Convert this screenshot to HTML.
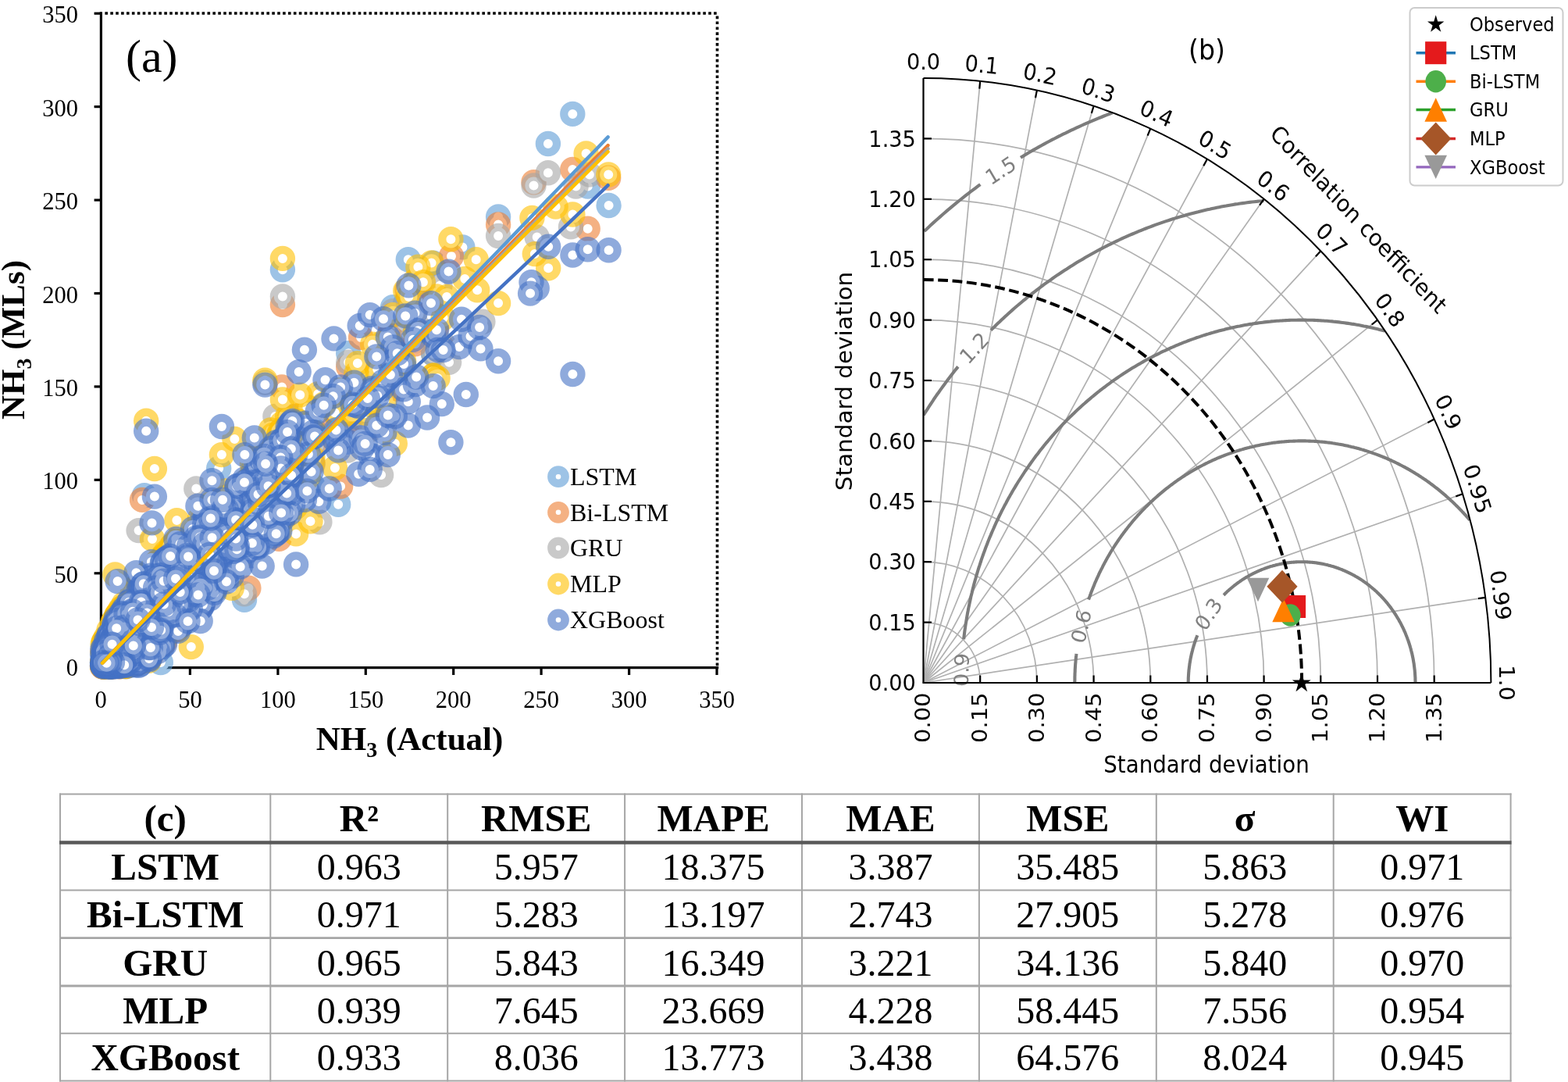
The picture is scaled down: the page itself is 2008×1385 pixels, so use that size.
<!DOCTYPE html>
<html><head><meta charset="utf-8"><title>Figure</title>
<style>html,body{margin:0;padding:0;background:#fff}svg{display:block}</style></head>
<body>
<svg width="2008" height="1385" viewBox="0 0 2008 1385">
<rect width="2008" height="1385" fill="#fff"/>
<g id="scatter">
<g stroke="#000" stroke-width="3.2" fill="none">
<line x1="129.4" y1="15.3" x2="129.4" y2="856.3"/>
<line x1="127.8" y1="854.7" x2="920.2" y2="854.7"/>
<line x1="120.6" y1="17.2" x2="129.4" y2="17.2"/>
<line x1="120.6" y1="136.6" x2="129.4" y2="136.6"/>
<line x1="120.6" y1="256.1" x2="129.4" y2="256.1"/>
<line x1="120.6" y1="375.5" x2="129.4" y2="375.5"/>
<line x1="120.6" y1="494.9" x2="129.4" y2="494.9"/>
<line x1="120.6" y1="614.3" x2="129.4" y2="614.3"/>
<line x1="120.6" y1="733.8" x2="129.4" y2="733.8"/>
<line x1="120.6" y1="854.7" x2="129.4" y2="854.7"/>
<line x1="243.4" y1="854.7" x2="243.4" y2="864"/>
<line x1="355.9" y1="854.7" x2="355.9" y2="864"/>
<line x1="468.3" y1="854.7" x2="468.3" y2="864"/>
<line x1="580.7" y1="854.7" x2="580.7" y2="864"/>
<line x1="693.1" y1="854.7" x2="693.1" y2="864"/>
<line x1="805.6" y1="854.7" x2="805.6" y2="864"/>
<line x1="918.0" y1="854.7" x2="918.0" y2="864"/>
</g>
<g stroke="#000" stroke-width="3.6" fill="none" stroke-dasharray="3.6 3.3">
<line x1="134.4" y1="17" x2="920.4" y2="17"/>
<line x1="918.5" y1="20.6" x2="918.5" y2="853"/>
</g>
<g fill="#fff" stroke-width="10.2" stroke-opacity="0.6">
<g stroke="#5B9BD5">
<circle cx="258.7" cy="706.4" r="11.1"/>
<circle cx="349.6" cy="607.7" r="11.1"/>
<circle cx="328.7" cy="672.6" r="11.1"/>
<circle cx="141.1" cy="836.7" r="11.1"/>
<circle cx="168.1" cy="800.1" r="11.1"/>
<circle cx="179.5" cy="787.7" r="11.1"/>
<circle cx="139.5" cy="843.5" r="11.1"/>
<circle cx="160.7" cy="826.3" r="11.1"/>
<circle cx="161.9" cy="834.0" r="11.1"/>
<circle cx="251.8" cy="753.2" r="11.1"/>
<circle cx="267.5" cy="703.9" r="11.1"/>
<circle cx="229.5" cy="740.3" r="11.1"/>
<circle cx="184.8" cy="793.9" r="11.1"/>
<circle cx="305.9" cy="646.9" r="11.1"/>
<circle cx="177.9" cy="818.2" r="11.1"/>
<circle cx="271.4" cy="711.9" r="11.1"/>
<circle cx="367.6" cy="609.7" r="11.1"/>
<circle cx="140.6" cy="840.3" r="11.1"/>
<circle cx="374.4" cy="549.0" r="11.1"/>
<circle cx="149.4" cy="813.4" r="11.1"/>
<circle cx="153.4" cy="843.8" r="11.1"/>
<circle cx="134.2" cy="853.3" r="11.1"/>
<circle cx="172.3" cy="776.5" r="11.1"/>
<circle cx="207.8" cy="748.1" r="11.1"/>
<circle cx="288.1" cy="698.2" r="11.1"/>
<circle cx="306.8" cy="636.7" r="11.1"/>
<circle cx="151.7" cy="820.2" r="11.1"/>
<circle cx="190.1" cy="758.7" r="11.1"/>
<circle cx="141.3" cy="847.3" r="11.1"/>
<circle cx="159.0" cy="801.4" r="11.1"/>
<circle cx="191.9" cy="808.8" r="11.1"/>
<circle cx="222.7" cy="763.7" r="11.1"/>
<circle cx="142.7" cy="847.2" r="11.1"/>
<circle cx="288.3" cy="680.3" r="11.1"/>
<circle cx="147.9" cy="843.3" r="11.1"/>
<circle cx="158.1" cy="826.9" r="11.1"/>
<circle cx="259.0" cy="728.3" r="11.1"/>
<circle cx="155.0" cy="788.9" r="11.1"/>
<circle cx="143.0" cy="849.1" r="11.1"/>
<circle cx="358.0" cy="600.5" r="11.1"/>
<circle cx="210.6" cy="760.6" r="11.1"/>
<circle cx="132.3" cy="843.9" r="11.1"/>
<circle cx="144.6" cy="826.8" r="11.1"/>
<circle cx="357.5" cy="607.7" r="11.1"/>
<circle cx="132.3" cy="851.0" r="11.1"/>
<circle cx="164.0" cy="849.8" r="11.1"/>
<circle cx="161.5" cy="789.5" r="11.1"/>
<circle cx="208.0" cy="825.5" r="11.1"/>
<circle cx="156.9" cy="824.5" r="11.1"/>
<circle cx="483.3" cy="477.3" r="11.1"/>
<circle cx="346.4" cy="614.4" r="11.1"/>
<circle cx="257.1" cy="719.2" r="11.1"/>
<circle cx="193.0" cy="744.4" r="11.1"/>
<circle cx="133.2" cy="851.6" r="11.1"/>
<circle cx="141.3" cy="836.0" r="11.1"/>
<circle cx="151.9" cy="834.1" r="11.1"/>
<circle cx="288.3" cy="689.6" r="11.1"/>
<circle cx="492.4" cy="535.8" r="11.1"/>
<circle cx="214.6" cy="764.3" r="11.1"/>
<circle cx="176.6" cy="840.3" r="11.1"/>
<circle cx="426.6" cy="523.0" r="11.1"/>
<circle cx="151.0" cy="844.5" r="11.1"/>
<circle cx="368.4" cy="577.2" r="11.1"/>
<circle cx="313.0" cy="767.9" r="11.1"/>
<circle cx="247.1" cy="753.1" r="11.1"/>
<circle cx="139.0" cy="848.5" r="11.1"/>
<circle cx="223.5" cy="807.4" r="11.1"/>
<circle cx="286.6" cy="743.1" r="11.1"/>
<circle cx="172.1" cy="794.8" r="11.1"/>
<circle cx="232.2" cy="760.0" r="11.1"/>
<circle cx="153.8" cy="848.4" r="11.1"/>
<circle cx="245.8" cy="748.1" r="11.1"/>
<circle cx="313.5" cy="689.6" r="11.1"/>
<circle cx="190.1" cy="828.2" r="11.1"/>
<circle cx="292.8" cy="695.1" r="11.1"/>
<circle cx="186.6" cy="765.6" r="11.1"/>
<circle cx="148.2" cy="837.8" r="11.1"/>
<circle cx="191.4" cy="806.2" r="11.1"/>
<circle cx="225.2" cy="707.4" r="11.1"/>
<circle cx="187.7" cy="757.6" r="11.1"/>
<circle cx="250.7" cy="731.7" r="11.1"/>
<circle cx="166.5" cy="829.0" r="11.1"/>
<circle cx="134.6" cy="846.0" r="11.1"/>
<circle cx="290.4" cy="697.1" r="11.1"/>
<circle cx="173.8" cy="810.9" r="11.1"/>
<circle cx="148.2" cy="835.2" r="11.1"/>
<circle cx="150.5" cy="795.9" r="11.1"/>
<circle cx="160.8" cy="797.0" r="11.1"/>
<circle cx="206.5" cy="770.6" r="11.1"/>
<circle cx="297.6" cy="705.6" r="11.1"/>
<circle cx="149.3" cy="816.0" r="11.1"/>
<circle cx="136.2" cy="848.5" r="11.1"/>
<circle cx="155.4" cy="843.8" r="11.1"/>
<circle cx="181.3" cy="815.4" r="11.1"/>
<circle cx="356.4" cy="593.0" r="11.1"/>
<circle cx="403.1" cy="551.8" r="11.1"/>
<circle cx="326.3" cy="679.9" r="11.1"/>
<circle cx="199.7" cy="788.3" r="11.1"/>
<circle cx="433.6" cy="568.4" r="11.1"/>
<circle cx="159.8" cy="824.9" r="11.1"/>
<circle cx="147.1" cy="834.5" r="11.1"/>
<circle cx="146.2" cy="831.4" r="11.1"/>
<circle cx="135.4" cy="849.9" r="11.1"/>
<circle cx="474.4" cy="524.2" r="11.1"/>
<circle cx="360.9" cy="560.7" r="11.1"/>
<circle cx="140.4" cy="835.5" r="11.1"/>
<circle cx="187.3" cy="779.0" r="11.1"/>
<circle cx="188.4" cy="827.1" r="11.1"/>
<circle cx="140.5" cy="848.3" r="11.1"/>
<circle cx="311.5" cy="647.2" r="11.1"/>
<circle cx="336.4" cy="669.2" r="11.1"/>
<circle cx="178.1" cy="839.5" r="11.1"/>
<circle cx="150.0" cy="807.7" r="11.1"/>
<circle cx="145.7" cy="826.3" r="11.1"/>
<circle cx="158.0" cy="836.7" r="11.1"/>
<circle cx="349.7" cy="597.5" r="11.1"/>
<circle cx="172.7" cy="804.6" r="11.1"/>
<circle cx="287.2" cy="726.3" r="11.1"/>
<circle cx="257.0" cy="689.5" r="11.1"/>
<circle cx="215.2" cy="758.6" r="11.1"/>
<circle cx="326.6" cy="665.8" r="11.1"/>
<circle cx="139.5" cy="850.7" r="11.1"/>
<circle cx="320.2" cy="651.2" r="11.1"/>
<circle cx="244.5" cy="738.3" r="11.1"/>
<circle cx="143.9" cy="849.5" r="11.1"/>
<circle cx="183.3" cy="764.3" r="11.1"/>
<circle cx="299.2" cy="683.5" r="11.1"/>
<circle cx="182.0" cy="806.9" r="11.1"/>
<circle cx="149.3" cy="839.5" r="11.1"/>
<circle cx="174.3" cy="791.5" r="11.1"/>
<circle cx="148.2" cy="823.0" r="11.1"/>
<circle cx="275.4" cy="709.6" r="11.1"/>
<circle cx="136.5" cy="850.0" r="11.1"/>
<circle cx="228.1" cy="791.8" r="11.1"/>
<circle cx="160.8" cy="842.6" r="11.1"/>
<circle cx="508.5" cy="480.1" r="11.1"/>
<circle cx="208.7" cy="764.2" r="11.1"/>
<circle cx="246.1" cy="754.9" r="11.1"/>
<circle cx="264.4" cy="678.1" r="11.1"/>
<circle cx="212.2" cy="713.2" r="11.1"/>
<circle cx="138.1" cy="836.3" r="11.1"/>
<circle cx="322.9" cy="704.1" r="11.1"/>
<circle cx="197.5" cy="767.2" r="11.1"/>
<circle cx="375.2" cy="628.3" r="11.1"/>
<circle cx="228.4" cy="726.8" r="11.1"/>
<circle cx="136.6" cy="853.4" r="11.1"/>
<circle cx="559.1" cy="391.7" r="11.1"/>
<circle cx="154.7" cy="833.2" r="11.1"/>
<circle cx="297.7" cy="674.7" r="11.1"/>
<circle cx="195.8" cy="775.9" r="11.1"/>
<circle cx="330.6" cy="625.9" r="11.1"/>
<circle cx="139.5" cy="814.3" r="11.1"/>
<circle cx="134.4" cy="837.2" r="11.1"/>
<circle cx="357.6" cy="649.8" r="11.1"/>
<circle cx="180.3" cy="749.9" r="11.1"/>
<circle cx="150.7" cy="852.6" r="11.1"/>
<circle cx="132.3" cy="843.6" r="11.1"/>
<circle cx="268.6" cy="691.2" r="11.1"/>
<circle cx="184.9" cy="634.1" r="11.1"/>
<circle cx="313.5" cy="631.8" r="11.1"/>
<circle cx="168.3" cy="796.7" r="11.1"/>
<circle cx="321.8" cy="665.8" r="11.1"/>
<circle cx="366.1" cy="562.3" r="11.1"/>
<circle cx="216.2" cy="758.0" r="11.1"/>
<circle cx="161.3" cy="819.2" r="11.1"/>
<circle cx="289.5" cy="672.8" r="11.1"/>
<circle cx="193.1" cy="769.0" r="11.1"/>
<circle cx="288.8" cy="687.3" r="11.1"/>
<circle cx="351.5" cy="621.4" r="11.1"/>
<circle cx="701.9" cy="184.0" r="11.1"/>
<circle cx="283.1" cy="697.5" r="11.1"/>
<circle cx="212.0" cy="740.8" r="11.1"/>
<circle cx="475.7" cy="534.9" r="11.1"/>
<circle cx="184.4" cy="756.6" r="11.1"/>
<circle cx="268.2" cy="731.3" r="11.1"/>
<circle cx="203.3" cy="798.2" r="11.1"/>
<circle cx="224.7" cy="744.5" r="11.1"/>
<circle cx="144.3" cy="832.6" r="11.1"/>
<circle cx="138.8" cy="832.8" r="11.1"/>
<circle cx="205.8" cy="758.1" r="11.1"/>
<circle cx="351.5" cy="643.5" r="11.1"/>
<circle cx="309.4" cy="663.0" r="11.1"/>
<circle cx="144.2" cy="851.9" r="11.1"/>
<circle cx="132.0" cy="850.2" r="11.1"/>
<circle cx="503.1" cy="393.1" r="11.1"/>
<circle cx="151.3" cy="820.3" r="11.1"/>
<circle cx="219.2" cy="754.4" r="11.1"/>
<circle cx="199.3" cy="763.0" r="11.1"/>
<circle cx="140.8" cy="832.2" r="11.1"/>
<circle cx="368.8" cy="621.4" r="11.1"/>
<circle cx="291.1" cy="686.8" r="11.1"/>
<circle cx="166.8" cy="819.3" r="11.1"/>
<circle cx="141.4" cy="835.9" r="11.1"/>
<circle cx="154.0" cy="830.6" r="11.1"/>
<circle cx="340.0" cy="665.2" r="11.1"/>
<circle cx="212.5" cy="726.5" r="11.1"/>
<circle cx="312.8" cy="678.0" r="11.1"/>
<circle cx="160.4" cy="809.3" r="11.1"/>
<circle cx="173.5" cy="785.7" r="11.1"/>
<circle cx="366.4" cy="630.0" r="11.1"/>
<circle cx="302.1" cy="645.3" r="11.1"/>
<circle cx="220.4" cy="752.0" r="11.1"/>
<circle cx="258.0" cy="717.2" r="11.1"/>
<circle cx="156.0" cy="833.7" r="11.1"/>
<circle cx="233.3" cy="738.4" r="11.1"/>
<circle cx="341.8" cy="629.5" r="11.1"/>
<circle cx="132.8" cy="835.1" r="11.1"/>
<circle cx="231.9" cy="757.8" r="11.1"/>
<circle cx="219.6" cy="738.2" r="11.1"/>
<circle cx="315.0" cy="675.6" r="11.1"/>
<circle cx="186.0" cy="761.4" r="11.1"/>
<circle cx="149.5" cy="817.6" r="11.1"/>
<circle cx="219.5" cy="747.4" r="11.1"/>
<circle cx="361.9" cy="345.3" r="11.1"/>
<circle cx="243.8" cy="737.2" r="11.1"/>
<circle cx="143.0" cy="830.4" r="11.1"/>
<circle cx="172.1" cy="817.0" r="11.1"/>
<circle cx="146.1" cy="840.6" r="11.1"/>
<circle cx="242.5" cy="753.1" r="11.1"/>
<circle cx="154.7" cy="826.6" r="11.1"/>
<circle cx="188.9" cy="782.2" r="11.1"/>
<circle cx="171.1" cy="833.3" r="11.1"/>
<circle cx="302.0" cy="654.6" r="11.1"/>
<circle cx="144.3" cy="814.9" r="11.1"/>
<circle cx="154.3" cy="812.1" r="11.1"/>
<circle cx="159.2" cy="798.5" r="11.1"/>
<circle cx="140.0" cy="848.0" r="11.1"/>
<circle cx="592.4" cy="316.4" r="11.1"/>
<circle cx="248.7" cy="738.1" r="11.1"/>
<circle cx="290.0" cy="644.9" r="11.1"/>
<circle cx="260.7" cy="707.8" r="11.1"/>
<circle cx="323.4" cy="655.4" r="11.1"/>
<circle cx="180.9" cy="798.1" r="11.1"/>
<circle cx="134.8" cy="850.6" r="11.1"/>
<circle cx="138.6" cy="849.6" r="11.1"/>
<circle cx="323.9" cy="660.4" r="11.1"/>
<circle cx="303.5" cy="644.5" r="11.1"/>
<circle cx="173.4" cy="778.3" r="11.1"/>
<circle cx="320.7" cy="626.8" r="11.1"/>
<circle cx="144.6" cy="845.3" r="11.1"/>
<circle cx="290.0" cy="739.5" r="11.1"/>
<circle cx="554.7" cy="420.5" r="11.1"/>
<circle cx="189.1" cy="827.4" r="11.1"/>
<circle cx="146.3" cy="823.7" r="11.1"/>
<circle cx="232.8" cy="744.1" r="11.1"/>
<circle cx="140.6" cy="833.9" r="11.1"/>
<circle cx="159.7" cy="820.0" r="11.1"/>
<circle cx="200.5" cy="726.2" r="11.1"/>
<circle cx="317.7" cy="640.5" r="11.1"/>
<circle cx="150.2" cy="844.9" r="11.1"/>
<circle cx="159.3" cy="834.8" r="11.1"/>
<circle cx="145.6" cy="828.7" r="11.1"/>
<circle cx="156.5" cy="848.9" r="11.1"/>
<circle cx="177.6" cy="779.7" r="11.1"/>
<circle cx="197.7" cy="813.0" r="11.1"/>
<circle cx="335.2" cy="624.3" r="11.1"/>
<circle cx="191.9" cy="807.9" r="11.1"/>
<circle cx="190.6" cy="810.2" r="11.1"/>
<circle cx="134.2" cy="842.9" r="11.1"/>
<circle cx="131.6" cy="830.4" r="11.1"/>
<circle cx="363.7" cy="588.4" r="11.1"/>
<circle cx="219.2" cy="719.3" r="11.1"/>
<circle cx="394.9" cy="587.7" r="11.1"/>
<circle cx="241.1" cy="760.1" r="11.1"/>
<circle cx="140.2" cy="835.7" r="11.1"/>
<circle cx="356.3" cy="640.7" r="11.1"/>
<circle cx="226.6" cy="744.1" r="11.1"/>
<circle cx="142.2" cy="832.4" r="11.1"/>
<circle cx="131.9" cy="848.4" r="11.1"/>
<circle cx="141.4" cy="829.3" r="11.1"/>
<circle cx="322.4" cy="663.4" r="11.1"/>
<circle cx="142.2" cy="842.2" r="11.1"/>
<circle cx="135.3" cy="847.8" r="11.1"/>
<circle cx="235.4" cy="755.6" r="11.1"/>
<circle cx="298.1" cy="704.2" r="11.1"/>
<circle cx="149.5" cy="836.0" r="11.1"/>
<circle cx="195.6" cy="783.5" r="11.1"/>
<circle cx="211.6" cy="789.5" r="11.1"/>
<circle cx="159.8" cy="777.9" r="11.1"/>
<circle cx="186.6" cy="760.6" r="11.1"/>
<circle cx="253.7" cy="751.9" r="11.1"/>
<circle cx="134.2" cy="851.3" r="11.1"/>
<circle cx="260.6" cy="680.0" r="11.1"/>
<circle cx="204.3" cy="797.3" r="11.1"/>
<circle cx="146.5" cy="843.6" r="11.1"/>
<circle cx="299.5" cy="633.0" r="11.1"/>
<circle cx="360.2" cy="604.2" r="11.1"/>
<circle cx="269.4" cy="716.7" r="11.1"/>
<circle cx="342.8" cy="614.0" r="11.1"/>
<circle cx="133.4" cy="843.4" r="11.1"/>
<circle cx="340.5" cy="642.7" r="11.1"/>
<circle cx="312.7" cy="671.0" r="11.1"/>
<circle cx="779.6" cy="263.0" r="11.1"/>
<circle cx="173.3" cy="831.5" r="11.1"/>
<circle cx="158.6" cy="820.8" r="11.1"/>
<circle cx="230.9" cy="772.4" r="11.1"/>
<circle cx="164.8" cy="829.2" r="11.1"/>
<circle cx="251.1" cy="710.2" r="11.1"/>
<circle cx="173.6" cy="831.5" r="11.1"/>
<circle cx="208.5" cy="795.7" r="11.1"/>
<circle cx="180.8" cy="806.7" r="11.1"/>
<circle cx="203.7" cy="799.6" r="11.1"/>
<circle cx="286.9" cy="710.3" r="11.1"/>
<circle cx="132.2" cy="853.2" r="11.1"/>
<circle cx="143.9" cy="852.2" r="11.1"/>
<circle cx="179.2" cy="783.0" r="11.1"/>
<circle cx="147.4" cy="846.6" r="11.1"/>
<circle cx="360.8" cy="632.6" r="11.1"/>
<circle cx="185.6" cy="787.0" r="11.1"/>
<circle cx="191.4" cy="781.5" r="11.1"/>
<circle cx="140.9" cy="820.0" r="11.1"/>
<circle cx="159.9" cy="805.4" r="11.1"/>
<circle cx="140.8" cy="853.4" r="11.1"/>
<circle cx="220.2" cy="769.4" r="11.1"/>
<circle cx="349.4" cy="592.1" r="11.1"/>
<circle cx="490.7" cy="466.0" r="11.1"/>
<circle cx="141.7" cy="831.2" r="11.1"/>
<circle cx="269.0" cy="712.6" r="11.1"/>
<circle cx="218.2" cy="725.9" r="11.1"/>
<circle cx="173.3" cy="811.8" r="11.1"/>
<circle cx="140.8" cy="825.8" r="11.1"/>
<circle cx="141.6" cy="848.6" r="11.1"/>
<circle cx="134.0" cy="852.1" r="11.1"/>
<circle cx="370.4" cy="603.6" r="11.1"/>
<circle cx="368.7" cy="589.3" r="11.1"/>
<circle cx="202.3" cy="777.8" r="11.1"/>
<circle cx="151.5" cy="826.6" r="11.1"/>
<circle cx="201.2" cy="773.4" r="11.1"/>
<circle cx="216.4" cy="751.1" r="11.1"/>
<circle cx="156.2" cy="812.5" r="11.1"/>
<circle cx="138.1" cy="849.6" r="11.1"/>
<circle cx="244.4" cy="740.2" r="11.1"/>
<circle cx="299.9" cy="655.3" r="11.1"/>
<circle cx="280.2" cy="599.5" r="11.1"/>
<circle cx="370.3" cy="561.5" r="11.1"/>
<circle cx="202.5" cy="749.0" r="11.1"/>
<circle cx="147.5" cy="831.8" r="11.1"/>
<circle cx="371.2" cy="587.3" r="11.1"/>
<circle cx="140.1" cy="837.8" r="11.1"/>
<circle cx="138.8" cy="850.0" r="11.1"/>
<circle cx="160.8" cy="812.2" r="11.1"/>
<circle cx="165.9" cy="777.4" r="11.1"/>
<circle cx="145.2" cy="835.1" r="11.1"/>
<circle cx="372.9" cy="572.1" r="11.1"/>
<circle cx="272.8" cy="701.2" r="11.1"/>
<circle cx="169.9" cy="765.1" r="11.1"/>
<circle cx="152.7" cy="852.4" r="11.1"/>
<circle cx="160.4" cy="805.6" r="11.1"/>
<circle cx="279.4" cy="714.8" r="11.1"/>
<circle cx="325.1" cy="626.8" r="11.1"/>
<circle cx="159.2" cy="793.7" r="11.1"/>
<circle cx="168.3" cy="836.7" r="11.1"/>
<circle cx="133.0" cy="853.0" r="11.1"/>
<circle cx="165.9" cy="804.6" r="11.1"/>
<circle cx="446.2" cy="452.2" r="11.1"/>
<circle cx="133.5" cy="825.9" r="11.1"/>
<circle cx="167.5" cy="819.1" r="11.1"/>
<circle cx="132.8" cy="848.9" r="11.1"/>
<circle cx="204.0" cy="774.1" r="11.1"/>
<circle cx="207.8" cy="802.1" r="11.1"/>
<circle cx="350.5" cy="594.9" r="11.1"/>
<circle cx="243.0" cy="718.1" r="11.1"/>
<circle cx="177.7" cy="801.4" r="11.1"/>
<circle cx="349.8" cy="646.5" r="11.1"/>
<circle cx="323.3" cy="656.0" r="11.1"/>
<circle cx="287.7" cy="674.7" r="11.1"/>
<circle cx="271.5" cy="687.4" r="11.1"/>
<circle cx="638.1" cy="277.4" r="11.1"/>
<circle cx="353.7" cy="643.0" r="11.1"/>
<circle cx="242.0" cy="704.3" r="11.1"/>
<circle cx="241.1" cy="743.9" r="11.1"/>
<circle cx="298.3" cy="679.4" r="11.1"/>
<circle cx="233.4" cy="745.9" r="11.1"/>
<circle cx="144.0" cy="825.2" r="11.1"/>
<circle cx="177.1" cy="773.0" r="11.1"/>
<circle cx="262.9" cy="712.8" r="11.1"/>
<circle cx="137.0" cy="843.5" r="11.1"/>
<circle cx="288.2" cy="658.3" r="11.1"/>
<circle cx="164.4" cy="827.5" r="11.1"/>
<circle cx="543.3" cy="345.3" r="11.1"/>
<circle cx="178.4" cy="847.5" r="11.1"/>
<circle cx="336.6" cy="622.2" r="11.1"/>
<circle cx="361.6" cy="669.4" r="11.1"/>
<circle cx="219.3" cy="727.5" r="11.1"/>
<circle cx="131.5" cy="850.4" r="11.1"/>
<circle cx="194.7" cy="766.8" r="11.1"/>
<circle cx="248.8" cy="714.1" r="11.1"/>
<circle cx="138.7" cy="848.6" r="11.1"/>
<circle cx="339.8" cy="671.7" r="11.1"/>
<circle cx="142.5" cy="850.9" r="11.1"/>
<circle cx="344.6" cy="597.6" r="11.1"/>
<circle cx="146.4" cy="847.6" r="11.1"/>
<circle cx="175.1" cy="782.3" r="11.1"/>
<circle cx="378.2" cy="624.3" r="11.1"/>
<circle cx="262.3" cy="697.8" r="11.1"/>
<circle cx="523.4" cy="379.9" r="11.1"/>
<circle cx="209.9" cy="782.4" r="11.1"/>
<circle cx="285.1" cy="634.9" r="11.1"/>
<circle cx="151.7" cy="836.5" r="11.1"/>
<circle cx="224.0" cy="715.6" r="11.1"/>
<circle cx="191.8" cy="780.5" r="11.1"/>
<circle cx="245.0" cy="730.3" r="11.1"/>
<circle cx="134.5" cy="845.7" r="11.1"/>
<circle cx="313.0" cy="671.1" r="11.1"/>
<circle cx="150.0" cy="844.6" r="11.1"/>
<circle cx="183.3" cy="765.1" r="11.1"/>
<circle cx="393.4" cy="564.8" r="11.1"/>
<circle cx="147.8" cy="828.1" r="11.1"/>
<circle cx="132.3" cy="852.0" r="11.1"/>
<circle cx="135.5" cy="840.4" r="11.1"/>
<circle cx="338.1" cy="642.6" r="11.1"/>
<circle cx="158.5" cy="791.2" r="11.1"/>
<circle cx="173.4" cy="805.5" r="11.1"/>
<circle cx="165.3" cy="848.3" r="11.1"/>
<circle cx="141.9" cy="830.1" r="11.1"/>
<circle cx="262.0" cy="694.9" r="11.1"/>
<circle cx="323.4" cy="627.2" r="11.1"/>
<circle cx="234.3" cy="755.1" r="11.1"/>
<circle cx="223.7" cy="767.1" r="11.1"/>
<circle cx="239.0" cy="719.8" r="11.1"/>
<circle cx="152.6" cy="800.0" r="11.1"/>
<circle cx="368.0" cy="597.9" r="11.1"/>
<circle cx="191.1" cy="762.5" r="11.1"/>
<circle cx="168.3" cy="820.2" r="11.1"/>
<circle cx="162.6" cy="820.7" r="11.1"/>
<circle cx="142.1" cy="849.5" r="11.1"/>
<circle cx="365.3" cy="634.9" r="11.1"/>
<circle cx="477.1" cy="495.7" r="11.1"/>
<circle cx="150.3" cy="815.0" r="11.1"/>
<circle cx="230.7" cy="757.0" r="11.1"/>
<circle cx="163.8" cy="837.2" r="11.1"/>
<circle cx="193.8" cy="766.2" r="11.1"/>
<circle cx="308.8" cy="676.5" r="11.1"/>
<circle cx="131.5" cy="852.7" r="11.1"/>
<circle cx="182.8" cy="792.5" r="11.1"/>
<circle cx="445.2" cy="528.1" r="11.1"/>
<circle cx="156.0" cy="852.6" r="11.1"/>
<circle cx="245.4" cy="742.3" r="11.1"/>
<circle cx="141.4" cy="848.9" r="11.1"/>
<circle cx="353.6" cy="584.4" r="11.1"/>
<circle cx="136.5" cy="847.8" r="11.1"/>
<circle cx="303.7" cy="666.1" r="11.1"/>
<circle cx="244.7" cy="697.1" r="11.1"/>
<circle cx="428.7" cy="518.1" r="11.1"/>
<circle cx="153.8" cy="838.6" r="11.1"/>
<circle cx="177.5" cy="806.3" r="11.1"/>
<circle cx="489.6" cy="451.2" r="11.1"/>
<circle cx="302.8" cy="705.4" r="11.1"/>
<circle cx="136.5" cy="849.4" r="11.1"/>
<circle cx="337.3" cy="657.5" r="11.1"/>
<circle cx="223.0" cy="770.7" r="11.1"/>
<circle cx="207.3" cy="769.9" r="11.1"/>
<circle cx="369.7" cy="620.0" r="11.1"/>
<circle cx="270.1" cy="680.4" r="11.1"/>
<circle cx="277.8" cy="725.8" r="11.1"/>
<circle cx="134.0" cy="848.5" r="11.1"/>
<circle cx="135.2" cy="851.4" r="11.1"/>
<circle cx="361.6" cy="628.3" r="11.1"/>
<circle cx="143.6" cy="833.6" r="11.1"/>
<circle cx="522.8" cy="332.3" r="11.1"/>
<circle cx="245.4" cy="702.3" r="11.1"/>
<circle cx="323.5" cy="649.2" r="11.1"/>
<circle cx="295.3" cy="649.7" r="11.1"/>
<circle cx="209.7" cy="746.8" r="11.1"/>
<circle cx="190.4" cy="823.2" r="11.1"/>
<circle cx="372.9" cy="587.0" r="11.1"/>
<circle cx="296.8" cy="724.1" r="11.1"/>
<circle cx="160.1" cy="842.4" r="11.1"/>
<circle cx="329.9" cy="632.6" r="11.1"/>
<circle cx="262.4" cy="723.9" r="11.1"/>
<circle cx="288.7" cy="696.3" r="11.1"/>
<circle cx="157.9" cy="841.6" r="11.1"/>
<circle cx="363.7" cy="611.1" r="11.1"/>
<circle cx="232.9" cy="738.0" r="11.1"/>
<circle cx="143.3" cy="823.4" r="11.1"/>
<circle cx="142.7" cy="845.0" r="11.1"/>
<circle cx="183.8" cy="745.6" r="11.1"/>
<circle cx="132.5" cy="850.6" r="11.1"/>
<circle cx="180.6" cy="800.6" r="11.1"/>
<circle cx="135.7" cy="849.5" r="11.1"/>
<circle cx="145.9" cy="814.6" r="11.1"/>
<circle cx="188.3" cy="784.0" r="11.1"/>
<circle cx="152.9" cy="848.0" r="11.1"/>
<circle cx="149.2" cy="847.8" r="11.1"/>
<circle cx="346.6" cy="666.3" r="11.1"/>
<circle cx="531.8" cy="435.6" r="11.1"/>
<circle cx="208.4" cy="773.8" r="11.1"/>
<circle cx="136.7" cy="836.1" r="11.1"/>
<circle cx="229.2" cy="711.9" r="11.1"/>
<circle cx="177.9" cy="776.4" r="11.1"/>
<circle cx="257.2" cy="760.9" r="11.1"/>
<circle cx="155.6" cy="818.4" r="11.1"/>
<circle cx="169.8" cy="787.2" r="11.1"/>
<circle cx="370.1" cy="613.2" r="11.1"/>
<circle cx="179.7" cy="806.7" r="11.1"/>
<circle cx="241.1" cy="747.5" r="11.1"/>
<circle cx="366.3" cy="566.0" r="11.1"/>
<circle cx="147.9" cy="842.4" r="11.1"/>
<circle cx="185.4" cy="803.5" r="11.1"/>
<circle cx="324.5" cy="645.1" r="11.1"/>
<circle cx="221.9" cy="734.0" r="11.1"/>
<circle cx="150.9" cy="841.8" r="11.1"/>
<circle cx="342.4" cy="636.0" r="11.1"/>
<circle cx="143.1" cy="845.5" r="11.1"/>
<circle cx="183.5" cy="784.6" r="11.1"/>
<circle cx="531.5" cy="362.9" r="11.1"/>
<circle cx="187.6" cy="786.1" r="11.1"/>
<circle cx="131.6" cy="849.2" r="11.1"/>
<circle cx="149.3" cy="838.6" r="11.1"/>
<circle cx="243.4" cy="728.5" r="11.1"/>
<circle cx="144.8" cy="812.9" r="11.1"/>
<circle cx="322.2" cy="639.0" r="11.1"/>
<circle cx="152.6" cy="843.8" r="11.1"/>
<circle cx="188.0" cy="829.1" r="11.1"/>
<circle cx="243.0" cy="738.0" r="11.1"/>
<circle cx="154.0" cy="826.0" r="11.1"/>
<circle cx="160.5" cy="799.0" r="11.1"/>
<circle cx="233.8" cy="709.3" r="11.1"/>
<circle cx="535.4" cy="378.2" r="11.1"/>
<circle cx="140.6" cy="845.2" r="11.1"/>
<circle cx="149.5" cy="850.8" r="11.1"/>
<circle cx="194.5" cy="773.0" r="11.1"/>
<circle cx="251.7" cy="746.2" r="11.1"/>
<circle cx="203.7" cy="767.7" r="11.1"/>
<circle cx="268.9" cy="726.8" r="11.1"/>
<circle cx="182.3" cy="811.5" r="11.1"/>
<circle cx="171.4" cy="795.9" r="11.1"/>
<circle cx="144.8" cy="835.8" r="11.1"/>
<circle cx="153.6" cy="809.0" r="11.1"/>
<circle cx="187.9" cy="806.8" r="11.1"/>
<circle cx="293.8" cy="690.4" r="11.1"/>
<circle cx="234.4" cy="761.8" r="11.1"/>
<circle cx="225.0" cy="773.9" r="11.1"/>
<circle cx="179.8" cy="844.1" r="11.1"/>
<circle cx="298.5" cy="673.0" r="11.1"/>
<circle cx="152.7" cy="808.5" r="11.1"/>
<circle cx="132.7" cy="850.0" r="11.1"/>
<circle cx="204.9" cy="769.4" r="11.1"/>
<circle cx="145.2" cy="835.0" r="11.1"/>
<circle cx="188.1" cy="823.0" r="11.1"/>
<circle cx="142.9" cy="832.8" r="11.1"/>
<circle cx="286.8" cy="673.9" r="11.1"/>
<circle cx="182.8" cy="800.3" r="11.1"/>
<circle cx="165.3" cy="814.3" r="11.1"/>
<circle cx="322.4" cy="705.1" r="11.1"/>
<circle cx="189.7" cy="807.8" r="11.1"/>
<circle cx="554.9" cy="336.6" r="11.1"/>
<circle cx="567.6" cy="458.0" r="11.1"/>
<circle cx="151.8" cy="834.4" r="11.1"/>
<circle cx="327.0" cy="641.6" r="11.1"/>
<circle cx="251.5" cy="722.5" r="11.1"/>
<circle cx="391.3" cy="562.2" r="11.1"/>
<circle cx="253.3" cy="748.6" r="11.1"/>
<circle cx="350.1" cy="648.4" r="11.1"/>
<circle cx="149.3" cy="853.0" r="11.1"/>
<circle cx="307.3" cy="673.9" r="11.1"/>
<circle cx="353.8" cy="643.9" r="11.1"/>
<circle cx="153.7" cy="813.4" r="11.1"/>
<circle cx="147.2" cy="851.9" r="11.1"/>
<circle cx="286.7" cy="664.8" r="11.1"/>
<circle cx="176.3" cy="828.0" r="11.1"/>
<circle cx="145.9" cy="828.5" r="11.1"/>
<circle cx="133.3" cy="842.0" r="11.1"/>
<circle cx="148.0" cy="814.4" r="11.1"/>
<circle cx="353.4" cy="660.2" r="11.1"/>
<circle cx="329.9" cy="606.0" r="11.1"/>
<circle cx="346.4" cy="642.2" r="11.1"/>
<circle cx="162.2" cy="813.8" r="11.1"/>
<circle cx="284.6" cy="699.1" r="11.1"/>
<circle cx="185.6" cy="841.7" r="11.1"/>
<circle cx="201.4" cy="734.9" r="11.1"/>
<circle cx="177.3" cy="769.1" r="11.1"/>
<circle cx="141.0" cy="848.2" r="11.1"/>
<circle cx="158.0" cy="818.6" r="11.1"/>
<circle cx="368.2" cy="591.2" r="11.1"/>
<circle cx="171.8" cy="845.4" r="11.1"/>
<circle cx="155.7" cy="825.0" r="11.1"/>
<circle cx="324.0" cy="669.5" r="11.1"/>
<circle cx="145.4" cy="835.7" r="11.1"/>
<circle cx="332.9" cy="618.5" r="11.1"/>
<circle cx="136.2" cy="849.0" r="11.1"/>
<circle cx="317.2" cy="667.4" r="11.1"/>
<circle cx="181.9" cy="770.6" r="11.1"/>
<circle cx="192.9" cy="840.6" r="11.1"/>
<circle cx="237.7" cy="734.3" r="11.1"/>
<circle cx="263.3" cy="686.8" r="11.1"/>
<circle cx="169.9" cy="813.0" r="11.1"/>
<circle cx="217.0" cy="778.9" r="11.1"/>
<circle cx="322.9" cy="624.6" r="11.1"/>
<circle cx="203.5" cy="807.7" r="11.1"/>
<circle cx="179.8" cy="753.8" r="11.1"/>
<circle cx="255.9" cy="697.7" r="11.1"/>
<circle cx="139.7" cy="831.1" r="11.1"/>
<circle cx="207.0" cy="787.1" r="11.1"/>
<circle cx="132.7" cy="850.2" r="11.1"/>
<circle cx="240.6" cy="787.1" r="11.1"/>
<circle cx="206.9" cy="816.4" r="11.1"/>
<circle cx="216.3" cy="809.9" r="11.1"/>
<circle cx="338.2" cy="594.6" r="11.1"/>
<circle cx="146.3" cy="852.0" r="11.1"/>
<circle cx="174.7" cy="791.7" r="11.1"/>
<circle cx="325.2" cy="649.9" r="11.1"/>
<circle cx="349.4" cy="611.6" r="11.1"/>
<circle cx="373.1" cy="567.8" r="11.1"/>
<circle cx="185.1" cy="784.8" r="11.1"/>
<circle cx="142.4" cy="848.1" r="11.1"/>
<circle cx="263.1" cy="695.8" r="11.1"/>
<circle cx="132.2" cy="852.1" r="11.1"/>
<circle cx="307.7" cy="642.2" r="11.1"/>
<circle cx="141.7" cy="850.5" r="11.1"/>
<circle cx="179.4" cy="807.4" r="11.1"/>
<circle cx="246.7" cy="709.7" r="11.1"/>
<circle cx="154.7" cy="852.3" r="11.1"/>
<circle cx="159.0" cy="810.1" r="11.1"/>
<circle cx="241.6" cy="750.3" r="11.1"/>
<circle cx="251.1" cy="724.0" r="11.1"/>
<circle cx="207.2" cy="782.4" r="11.1"/>
<circle cx="141.4" cy="848.2" r="11.1"/>
<circle cx="342.2" cy="617.5" r="11.1"/>
<circle cx="153.8" cy="821.2" r="11.1"/>
<circle cx="162.7" cy="843.3" r="11.1"/>
<circle cx="164.9" cy="785.6" r="11.1"/>
<circle cx="274.0" cy="695.8" r="11.1"/>
<circle cx="213.4" cy="730.2" r="11.1"/>
<circle cx="169.8" cy="823.7" r="11.1"/>
<circle cx="360.6" cy="595.6" r="11.1"/>
<circle cx="353.8" cy="638.9" r="11.1"/>
<circle cx="133.0" cy="851.8" r="11.1"/>
<circle cx="140.6" cy="851.8" r="11.1"/>
<circle cx="358.3" cy="648.8" r="11.1"/>
<circle cx="131.8" cy="847.1" r="11.1"/>
<circle cx="135.2" cy="839.3" r="11.1"/>
<circle cx="265.2" cy="721.0" r="11.1"/>
<circle cx="165.1" cy="810.8" r="11.1"/>
<circle cx="209.9" cy="758.4" r="11.1"/>
<circle cx="139.7" cy="852.1" r="11.1"/>
<circle cx="331.5" cy="643.2" r="11.1"/>
<circle cx="220.1" cy="730.7" r="11.1"/>
<circle cx="359.3" cy="604.2" r="11.1"/>
<circle cx="305.8" cy="661.1" r="11.1"/>
<circle cx="212.2" cy="719.8" r="11.1"/>
<circle cx="168.2" cy="784.4" r="11.1"/>
<circle cx="371.0" cy="587.2" r="11.1"/>
<circle cx="517.1" cy="469.9" r="11.1"/>
<circle cx="266.0" cy="705.3" r="11.1"/>
<circle cx="216.8" cy="789.4" r="11.1"/>
<circle cx="135.4" cy="847.7" r="11.1"/>
<circle cx="138.2" cy="843.9" r="11.1"/>
<circle cx="172.6" cy="795.5" r="11.1"/>
<circle cx="346.8" cy="592.3" r="11.1"/>
<circle cx="135.6" cy="838.3" r="11.1"/>
<circle cx="152.7" cy="817.5" r="11.1"/>
<circle cx="138.6" cy="843.0" r="11.1"/>
<circle cx="141.3" cy="849.4" r="11.1"/>
<circle cx="347.8" cy="607.1" r="11.1"/>
<circle cx="151.8" cy="835.0" r="11.1"/>
<circle cx="201.8" cy="810.0" r="11.1"/>
<circle cx="140.5" cy="833.8" r="11.1"/>
<circle cx="131.1" cy="848.1" r="11.1"/>
<circle cx="139.9" cy="830.6" r="11.1"/>
<circle cx="134.7" cy="833.6" r="11.1"/>
<circle cx="135.7" cy="834.7" r="11.1"/>
<circle cx="199.0" cy="753.4" r="11.1"/>
<circle cx="227.1" cy="761.0" r="11.1"/>
<circle cx="367.9" cy="622.7" r="11.1"/>
<circle cx="133.3" cy="829.4" r="11.1"/>
<circle cx="215.8" cy="750.7" r="11.1"/>
<circle cx="337.7" cy="625.3" r="11.1"/>
<circle cx="378.5" cy="554.7" r="11.1"/>
<circle cx="252.1" cy="742.3" r="11.1"/>
<circle cx="733.3" cy="145.9" r="11.1"/>
<circle cx="282.3" cy="717.8" r="11.1"/>
<circle cx="145.9" cy="820.3" r="11.1"/>
<circle cx="135.4" cy="851.2" r="11.1"/>
<circle cx="302.0" cy="664.4" r="11.1"/>
<circle cx="144.6" cy="839.2" r="11.1"/>
<circle cx="173.5" cy="811.6" r="11.1"/>
<circle cx="141.0" cy="850.2" r="11.1"/>
<circle cx="142.7" cy="848.2" r="11.1"/>
<circle cx="152.7" cy="852.1" r="11.1"/>
<circle cx="133.0" cy="851.0" r="11.1"/>
<circle cx="145.8" cy="800.2" r="11.1"/>
<circle cx="198.5" cy="796.1" r="11.1"/>
<circle cx="227.0" cy="774.4" r="11.1"/>
<circle cx="322.7" cy="617.9" r="11.1"/>
<circle cx="182.8" cy="746.8" r="11.1"/>
<circle cx="400.5" cy="621.6" r="11.1"/>
<circle cx="223.9" cy="797.9" r="11.1"/>
<circle cx="219.7" cy="761.6" r="11.1"/>
<circle cx="203.7" cy="787.1" r="11.1"/>
<circle cx="264.1" cy="676.9" r="11.1"/>
<circle cx="181.5" cy="789.0" r="11.1"/>
<circle cx="210.1" cy="719.2" r="11.1"/>
<circle cx="220.7" cy="731.5" r="11.1"/>
<circle cx="372.2" cy="586.7" r="11.1"/>
<circle cx="205.3" cy="777.6" r="11.1"/>
<circle cx="145.8" cy="808.6" r="11.1"/>
<circle cx="149.8" cy="843.8" r="11.1"/>
<circle cx="241.1" cy="720.0" r="11.1"/>
<circle cx="154.8" cy="831.7" r="11.1"/>
<circle cx="361.9" cy="634.8" r="11.1"/>
<circle cx="349.0" cy="606.9" r="11.1"/>
<circle cx="359.2" cy="584.2" r="11.1"/>
<circle cx="153.5" cy="816.6" r="11.1"/>
<circle cx="155.6" cy="818.2" r="11.1"/>
<circle cx="148.9" cy="827.3" r="11.1"/>
<circle cx="202.2" cy="781.4" r="11.1"/>
<circle cx="163.7" cy="807.2" r="11.1"/>
<circle cx="145.4" cy="849.8" r="11.1"/>
<circle cx="200.5" cy="764.4" r="11.1"/>
<circle cx="199.2" cy="743.5" r="11.1"/>
<circle cx="229.7" cy="741.1" r="11.1"/>
<circle cx="258.2" cy="766.1" r="11.1"/>
<circle cx="239.6" cy="740.7" r="11.1"/>
<circle cx="177.9" cy="753.0" r="11.1"/>
<circle cx="268.4" cy="704.2" r="11.1"/>
<circle cx="343.9" cy="625.8" r="11.1"/>
<circle cx="151.0" cy="843.2" r="11.1"/>
<circle cx="200.1" cy="785.9" r="11.1"/>
<circle cx="359.7" cy="564.7" r="11.1"/>
<circle cx="266.0" cy="742.3" r="11.1"/>
<circle cx="138.1" cy="844.9" r="11.1"/>
<circle cx="368.9" cy="570.4" r="11.1"/>
<circle cx="147.5" cy="833.7" r="11.1"/>
<circle cx="216.0" cy="797.1" r="11.1"/>
<circle cx="165.0" cy="807.9" r="11.1"/>
<circle cx="315.2" cy="661.7" r="11.1"/>
<circle cx="178.0" cy="792.1" r="11.1"/>
<circle cx="149.0" cy="843.3" r="11.1"/>
<circle cx="335.2" cy="631.1" r="11.1"/>
<circle cx="284.3" cy="653.2" r="11.1"/>
<circle cx="176.6" cy="786.4" r="11.1"/>
<circle cx="253.1" cy="743.9" r="11.1"/>
<circle cx="211.2" cy="792.6" r="11.1"/>
<circle cx="134.6" cy="845.8" r="11.1"/>
<circle cx="555.1" cy="452.8" r="11.1"/>
<circle cx="208.8" cy="747.3" r="11.1"/>
<circle cx="191.0" cy="826.8" r="11.1"/>
<circle cx="194.1" cy="771.7" r="11.1"/>
<circle cx="156.6" cy="819.9" r="11.1"/>
<circle cx="247.5" cy="749.3" r="11.1"/>
<circle cx="320.8" cy="623.9" r="11.1"/>
<circle cx="191.0" cy="757.6" r="11.1"/>
<circle cx="174.3" cy="802.4" r="11.1"/>
<circle cx="352.8" cy="625.7" r="11.1"/>
<circle cx="226.3" cy="784.0" r="11.1"/>
<circle cx="136.1" cy="852.5" r="11.1"/>
<circle cx="177.7" cy="810.7" r="11.1"/>
<circle cx="230.7" cy="756.8" r="11.1"/>
<circle cx="210.7" cy="774.1" r="11.1"/>
<circle cx="182.4" cy="805.3" r="11.1"/>
<circle cx="240.0" cy="740.7" r="11.1"/>
<circle cx="191.1" cy="842.3" r="11.1"/>
<circle cx="181.2" cy="768.8" r="11.1"/>
<circle cx="223.2" cy="754.0" r="11.1"/>
<circle cx="194.0" cy="803.4" r="11.1"/>
<circle cx="552.6" cy="392.5" r="11.1"/>
<circle cx="136.1" cy="846.5" r="11.1"/>
<circle cx="178.7" cy="812.5" r="11.1"/>
<circle cx="157.8" cy="816.5" r="11.1"/>
<circle cx="254.3" cy="746.0" r="11.1"/>
<circle cx="152.6" cy="852.6" r="11.1"/>
<circle cx="153.4" cy="828.6" r="11.1"/>
<circle cx="348.2" cy="608.6" r="11.1"/>
<circle cx="178.6" cy="791.8" r="11.1"/>
<circle cx="198.0" cy="762.5" r="11.1"/>
<circle cx="202.8" cy="766.8" r="11.1"/>
<circle cx="136.3" cy="850.0" r="11.1"/>
<circle cx="155.6" cy="850.0" r="11.1"/>
<circle cx="305.5" cy="692.6" r="11.1"/>
<circle cx="207.7" cy="769.8" r="11.1"/>
<circle cx="188.3" cy="798.3" r="11.1"/>
<circle cx="467.6" cy="519.4" r="11.1"/>
<circle cx="414.7" cy="502.5" r="11.1"/>
<circle cx="149.4" cy="835.1" r="11.1"/>
<circle cx="189.3" cy="775.8" r="11.1"/>
<circle cx="163.5" cy="826.1" r="11.1"/>
<circle cx="137.9" cy="850.4" r="11.1"/>
<circle cx="326.5" cy="651.1" r="11.1"/>
<circle cx="171.7" cy="782.7" r="11.1"/>
<circle cx="254.0" cy="725.8" r="11.1"/>
<circle cx="239.5" cy="736.5" r="11.1"/>
<circle cx="328.5" cy="588.7" r="11.1"/>
<circle cx="372.2" cy="585.6" r="11.1"/>
<circle cx="178.5" cy="775.0" r="11.1"/>
<circle cx="263.7" cy="698.8" r="11.1"/>
<circle cx="150.3" cy="820.4" r="11.1"/>
<circle cx="153.0" cy="850.2" r="11.1"/>
<circle cx="144.8" cy="837.1" r="11.1"/>
<circle cx="165.3" cy="831.6" r="11.1"/>
<circle cx="207.9" cy="790.9" r="11.1"/>
<circle cx="132.4" cy="848.2" r="11.1"/>
<circle cx="136.9" cy="849.0" r="11.1"/>
<circle cx="218.4" cy="735.8" r="11.1"/>
<circle cx="229.9" cy="754.4" r="11.1"/>
<circle cx="188.0" cy="809.6" r="11.1"/>
<circle cx="241.7" cy="749.6" r="11.1"/>
<circle cx="139.2" cy="836.8" r="11.1"/>
<circle cx="138.8" cy="835.3" r="11.1"/>
<circle cx="136.7" cy="844.5" r="11.1"/>
<circle cx="172.9" cy="807.6" r="11.1"/>
<circle cx="340.1" cy="578.2" r="11.1"/>
<circle cx="181.7" cy="782.1" r="11.1"/>
<circle cx="158.7" cy="790.0" r="11.1"/>
<circle cx="161.9" cy="807.5" r="11.1"/>
<circle cx="149.3" cy="815.0" r="11.1"/>
<circle cx="200.3" cy="779.2" r="11.1"/>
<circle cx="158.2" cy="839.4" r="11.1"/>
<circle cx="227.2" cy="805.8" r="11.1"/>
<circle cx="134.1" cy="832.9" r="11.1"/>
<circle cx="161.2" cy="798.8" r="11.1"/>
<circle cx="274.5" cy="755.9" r="11.1"/>
<circle cx="190.5" cy="785.8" r="11.1"/>
<circle cx="312.3" cy="664.7" r="11.1"/>
<circle cx="357.8" cy="614.0" r="11.1"/>
<circle cx="318.8" cy="635.5" r="11.1"/>
<circle cx="132.8" cy="849.4" r="11.1"/>
<circle cx="167.7" cy="794.3" r="11.1"/>
<circle cx="174.2" cy="817.3" r="11.1"/>
<circle cx="189.6" cy="752.7" r="11.1"/>
<circle cx="235.7" cy="745.3" r="11.1"/>
<circle cx="183.0" cy="773.5" r="11.1"/>
<circle cx="143.6" cy="828.2" r="11.1"/>
<circle cx="256.5" cy="757.6" r="11.1"/>
<circle cx="200.7" cy="749.7" r="11.1"/>
<circle cx="372.4" cy="595.5" r="11.1"/>
<circle cx="346.6" cy="596.3" r="11.1"/>
<circle cx="259.8" cy="771.5" r="11.1"/>
<circle cx="271.6" cy="671.2" r="11.1"/>
<circle cx="212.8" cy="774.9" r="11.1"/>
<circle cx="159.7" cy="850.3" r="11.1"/>
<circle cx="284.4" cy="677.0" r="11.1"/>
<circle cx="149.2" cy="826.2" r="11.1"/>
<circle cx="303.4" cy="691.5" r="11.1"/>
<circle cx="137.8" cy="831.1" r="11.1"/>
<circle cx="145.6" cy="852.2" r="11.1"/>
<circle cx="183.8" cy="818.5" r="11.1"/>
<circle cx="211.3" cy="752.6" r="11.1"/>
<circle cx="499.9" cy="434.3" r="11.1"/>
<circle cx="327.5" cy="635.5" r="11.1"/>
<circle cx="142.9" cy="840.5" r="11.1"/>
<circle cx="225.5" cy="741.6" r="11.1"/>
<circle cx="345.8" cy="622.8" r="11.1"/>
<circle cx="177.8" cy="760.3" r="11.1"/>
<circle cx="140.3" cy="847.9" r="11.1"/>
<circle cx="257.6" cy="714.6" r="11.1"/>
<circle cx="345.0" cy="647.3" r="11.1"/>
<circle cx="264.7" cy="713.4" r="11.1"/>
<circle cx="183.8" cy="822.1" r="11.1"/>
<circle cx="151.6" cy="802.5" r="11.1"/>
<circle cx="232.2" cy="753.9" r="11.1"/>
<circle cx="165.6" cy="792.6" r="11.1"/>
<circle cx="144.4" cy="843.6" r="11.1"/>
<circle cx="152.5" cy="815.7" r="11.1"/>
<circle cx="342.0" cy="639.1" r="11.1"/>
<circle cx="169.3" cy="837.9" r="11.1"/>
<circle cx="216.7" cy="757.9" r="11.1"/>
<circle cx="160.5" cy="847.7" r="11.1"/>
<circle cx="138.7" cy="850.3" r="11.1"/>
<circle cx="269.8" cy="651.1" r="11.1"/>
<circle cx="373.0" cy="575.8" r="11.1"/>
<circle cx="208.6" cy="743.9" r="11.1"/>
<circle cx="163.9" cy="805.3" r="11.1"/>
<circle cx="301.9" cy="666.6" r="11.1"/>
<circle cx="355.1" cy="669.0" r="11.1"/>
<circle cx="134.6" cy="848.1" r="11.1"/>
<circle cx="138.6" cy="849.6" r="11.1"/>
<circle cx="185.5" cy="785.5" r="11.1"/>
<circle cx="360.9" cy="548.4" r="11.1"/>
<circle cx="141.3" cy="848.0" r="11.1"/>
<circle cx="290.7" cy="689.9" r="11.1"/>
<circle cx="196.6" cy="781.5" r="11.1"/>
<circle cx="328.6" cy="663.2" r="11.1"/>
<circle cx="156.0" cy="833.3" r="11.1"/>
<circle cx="455.9" cy="483.6" r="11.1"/>
<circle cx="457.9" cy="501.4" r="11.1"/>
<circle cx="162.4" cy="787.2" r="11.1"/>
<circle cx="164.8" cy="806.6" r="11.1"/>
<circle cx="139.8" cy="834.0" r="11.1"/>
<circle cx="348.8" cy="601.8" r="11.1"/>
<circle cx="131.1" cy="850.2" r="11.1"/>
<circle cx="132.1" cy="853.2" r="11.1"/>
<circle cx="136.5" cy="834.5" r="11.1"/>
<circle cx="355.1" cy="586.7" r="11.1"/>
<circle cx="143.5" cy="847.0" r="11.1"/>
<circle cx="194.2" cy="748.0" r="11.1"/>
<circle cx="132.2" cy="842.7" r="11.1"/>
<circle cx="373.3" cy="572.0" r="11.1"/>
<circle cx="137.7" cy="823.1" r="11.1"/>
<circle cx="137.0" cy="848.8" r="11.1"/>
<circle cx="349.8" cy="647.1" r="11.1"/>
<circle cx="333.3" cy="647.9" r="11.1"/>
<circle cx="189.4" cy="829.2" r="11.1"/>
<circle cx="176.5" cy="800.6" r="11.1"/>
<circle cx="149.5" cy="851.2" r="11.1"/>
<circle cx="186.3" cy="782.0" r="11.1"/>
<circle cx="137.0" cy="837.6" r="11.1"/>
<circle cx="142.0" cy="850.7" r="11.1"/>
<circle cx="144.4" cy="840.6" r="11.1"/>
<circle cx="148.9" cy="813.1" r="11.1"/>
<circle cx="147.9" cy="832.1" r="11.1"/>
<circle cx="149.1" cy="823.9" r="11.1"/>
<circle cx="173.4" cy="786.3" r="11.1"/>
<circle cx="131.1" cy="849.4" r="11.1"/>
<circle cx="329.9" cy="675.2" r="11.1"/>
<circle cx="140.9" cy="847.8" r="11.1"/>
<circle cx="150.0" cy="812.2" r="11.1"/>
<circle cx="307.7" cy="689.6" r="11.1"/>
<circle cx="158.9" cy="810.5" r="11.1"/>
<circle cx="285.0" cy="708.6" r="11.1"/>
<circle cx="347.5" cy="617.7" r="11.1"/>
<circle cx="236.5" cy="755.6" r="11.1"/>
<circle cx="181.6" cy="830.1" r="11.1"/>
<circle cx="200.2" cy="787.6" r="11.1"/>
<circle cx="345.6" cy="649.3" r="11.1"/>
<circle cx="141.4" cy="852.0" r="11.1"/>
<circle cx="157.4" cy="848.2" r="11.1"/>
<circle cx="158.1" cy="823.9" r="11.1"/>
<circle cx="356.7" cy="597.5" r="11.1"/>
<circle cx="151.1" cy="834.0" r="11.1"/>
<circle cx="170.8" cy="809.7" r="11.1"/>
<circle cx="343.6" cy="610.9" r="11.1"/>
<circle cx="136.5" cy="849.3" r="11.1"/>
<circle cx="371.0" cy="619.0" r="11.1"/>
<circle cx="205.8" cy="848.0" r="11.1"/>
<circle cx="145.1" cy="823.9" r="11.1"/>
<circle cx="144.9" cy="846.0" r="11.1"/>
<circle cx="276.3" cy="695.3" r="11.1"/>
<circle cx="219.3" cy="729.8" r="11.1"/>
<circle cx="209.2" cy="768.5" r="11.1"/>
<circle cx="170.8" cy="805.9" r="11.1"/>
<circle cx="347.5" cy="641.5" r="11.1"/>
<circle cx="150.9" cy="833.3" r="11.1"/>
<circle cx="304.5" cy="677.6" r="11.1"/>
<circle cx="243.6" cy="737.3" r="11.1"/>
<circle cx="161.1" cy="849.7" r="11.1"/>
<circle cx="195.0" cy="795.4" r="11.1"/>
<circle cx="348.4" cy="609.3" r="11.1"/>
<circle cx="191.2" cy="780.7" r="11.1"/>
<circle cx="248.3" cy="696.9" r="11.1"/>
<circle cx="191.7" cy="786.5" r="11.1"/>
<circle cx="210.3" cy="744.5" r="11.1"/>
<circle cx="228.5" cy="710.7" r="11.1"/>
<circle cx="151.7" cy="841.7" r="11.1"/>
<circle cx="451.5" cy="544.0" r="11.1"/>
<circle cx="295.8" cy="666.4" r="11.1"/>
<circle cx="752.8" cy="238.6" r="11.1"/>
<circle cx="187.6" cy="811.8" r="11.1"/>
<circle cx="211.0" cy="816.2" r="11.1"/>
<circle cx="186.4" cy="826.4" r="11.1"/>
<circle cx="136.9" cy="842.1" r="11.1"/>
<circle cx="146.2" cy="822.1" r="11.1"/>
<circle cx="151.9" cy="831.0" r="11.1"/>
<circle cx="155.6" cy="825.2" r="11.1"/>
<circle cx="148.2" cy="841.5" r="11.1"/>
<circle cx="167.3" cy="835.8" r="11.1"/>
<circle cx="181.9" cy="813.0" r="11.1"/>
<circle cx="306.7" cy="704.0" r="11.1"/>
<circle cx="341.4" cy="652.4" r="11.1"/>
<circle cx="135.7" cy="847.7" r="11.1"/>
<circle cx="153.7" cy="846.1" r="11.1"/>
<circle cx="361.5" cy="612.8" r="11.1"/>
<circle cx="303.8" cy="681.0" r="11.1"/>
<circle cx="139.9" cy="848.7" r="11.1"/>
<circle cx="149.2" cy="794.2" r="11.1"/>
<circle cx="201.0" cy="768.1" r="11.1"/>
<circle cx="200.0" cy="726.8" r="11.1"/>
<circle cx="433.2" cy="645.7" r="11.1"/>
<circle cx="262.0" cy="682.5" r="11.1"/>
<circle cx="141.9" cy="841.6" r="11.1"/>
<circle cx="232.7" cy="800.0" r="11.1"/>
<circle cx="141.3" cy="838.2" r="11.1"/>
<circle cx="165.2" cy="818.4" r="11.1"/>
<circle cx="131.7" cy="847.9" r="11.1"/>
<circle cx="236.5" cy="748.5" r="11.1"/>
<circle cx="286.2" cy="677.4" r="11.1"/>
<circle cx="295.2" cy="690.1" r="11.1"/>
<circle cx="206.2" cy="791.1" r="11.1"/>
<circle cx="136.2" cy="835.2" r="11.1"/>
<circle cx="138.7" cy="851.1" r="11.1"/>
<circle cx="138.4" cy="824.7" r="11.1"/>
<circle cx="154.9" cy="838.6" r="11.1"/>
<circle cx="131.5" cy="848.5" r="11.1"/>
<circle cx="145.6" cy="848.1" r="11.1"/>
<circle cx="279.0" cy="688.0" r="11.1"/>
<circle cx="368.1" cy="560.3" r="11.1"/>
<circle cx="193.5" cy="808.8" r="11.1"/>
<circle cx="261.4" cy="693.7" r="11.1"/>
<circle cx="181.6" cy="813.2" r="11.1"/>
<circle cx="330.9" cy="665.3" r="11.1"/>
<circle cx="150.7" cy="837.0" r="11.1"/>
<circle cx="159.2" cy="833.2" r="11.1"/>
<circle cx="256.5" cy="742.7" r="11.1"/>
<circle cx="201.9" cy="783.6" r="11.1"/>
<circle cx="263.4" cy="737.1" r="11.1"/>
<circle cx="333.5" cy="635.4" r="11.1"/>
<circle cx="147.9" cy="829.7" r="11.1"/>
<circle cx="316.4" cy="681.4" r="11.1"/>
<circle cx="367.2" cy="598.6" r="11.1"/>
<circle cx="176.6" cy="833.0" r="11.1"/>
<circle cx="224.1" cy="736.2" r="11.1"/>
<circle cx="198.5" cy="774.7" r="11.1"/>
<circle cx="153.9" cy="818.3" r="11.1"/>
<circle cx="519.2" cy="388.5" r="11.1"/>
<circle cx="298.9" cy="682.3" r="11.1"/>
<circle cx="358.4" cy="582.3" r="11.1"/>
<circle cx="182.8" cy="779.6" r="11.1"/>
<circle cx="167.4" cy="817.5" r="11.1"/>
<circle cx="196.4" cy="801.5" r="11.1"/>
<circle cx="276.3" cy="698.7" r="11.1"/>
<circle cx="149.6" cy="818.1" r="11.1"/>
<circle cx="336.1" cy="617.0" r="11.1"/>
<circle cx="138.8" cy="849.3" r="11.1"/>
<circle cx="144.3" cy="849.5" r="11.1"/>
<circle cx="136.0" cy="831.4" r="11.1"/>
<circle cx="369.5" cy="603.3" r="11.1"/>
</g>
<g stroke="#ED7D31">
<circle cx="133.3" cy="840.0" r="11.1"/>
<circle cx="158.9" cy="808.1" r="11.1"/>
<circle cx="155.6" cy="829.3" r="11.1"/>
<circle cx="138.1" cy="848.5" r="11.1"/>
<circle cx="141.4" cy="851.6" r="11.1"/>
<circle cx="208.4" cy="771.9" r="11.1"/>
<circle cx="414.7" cy="508.9" r="11.1"/>
<circle cx="345.8" cy="598.6" r="11.1"/>
<circle cx="141.4" cy="830.7" r="11.1"/>
<circle cx="210.6" cy="737.1" r="11.1"/>
<circle cx="149.5" cy="839.8" r="11.1"/>
<circle cx="201.4" cy="737.0" r="11.1"/>
<circle cx="239.6" cy="749.4" r="11.1"/>
<circle cx="141.3" cy="848.8" r="11.1"/>
<circle cx="165.0" cy="806.8" r="11.1"/>
<circle cx="523.4" cy="379.7" r="11.1"/>
<circle cx="291.1" cy="689.0" r="11.1"/>
<circle cx="176.6" cy="836.4" r="11.1"/>
<circle cx="219.6" cy="726.0" r="11.1"/>
<circle cx="477.1" cy="497.7" r="11.1"/>
<circle cx="243.4" cy="733.6" r="11.1"/>
<circle cx="131.8" cy="845.2" r="11.1"/>
<circle cx="196.4" cy="782.2" r="11.1"/>
<circle cx="149.4" cy="834.2" r="11.1"/>
<circle cx="357.6" cy="659.3" r="11.1"/>
<circle cx="323.4" cy="636.6" r="11.1"/>
<circle cx="165.9" cy="806.8" r="11.1"/>
<circle cx="149.1" cy="817.8" r="11.1"/>
<circle cx="733.3" cy="217.0" r="11.1"/>
<circle cx="173.6" cy="849.1" r="11.1"/>
<circle cx="134.2" cy="846.5" r="11.1"/>
<circle cx="131.6" cy="852.6" r="11.1"/>
<circle cx="235.7" cy="768.6" r="11.1"/>
<circle cx="178.0" cy="802.5" r="11.1"/>
<circle cx="208.8" cy="741.7" r="11.1"/>
<circle cx="163.5" cy="835.1" r="11.1"/>
<circle cx="359.3" cy="605.0" r="11.1"/>
<circle cx="353.6" cy="585.5" r="11.1"/>
<circle cx="132.8" cy="848.0" r="11.1"/>
<circle cx="159.7" cy="822.8" r="11.1"/>
<circle cx="391.3" cy="584.8" r="11.1"/>
<circle cx="132.7" cy="842.5" r="11.1"/>
<circle cx="158.1" cy="827.4" r="11.1"/>
<circle cx="342.2" cy="617.9" r="11.1"/>
<circle cx="288.3" cy="678.3" r="11.1"/>
<circle cx="240.0" cy="732.6" r="11.1"/>
<circle cx="149.3" cy="842.1" r="11.1"/>
<circle cx="182.8" cy="785.4" r="11.1"/>
<circle cx="204.9" cy="763.5" r="11.1"/>
<circle cx="139.9" cy="830.4" r="11.1"/>
<circle cx="428.7" cy="512.1" r="11.1"/>
<circle cx="144.6" cy="818.8" r="11.1"/>
<circle cx="324.5" cy="618.5" r="11.1"/>
<circle cx="203.7" cy="792.5" r="11.1"/>
<circle cx="552.6" cy="382.5" r="11.1"/>
<circle cx="146.4" cy="844.1" r="11.1"/>
<circle cx="211.2" cy="778.1" r="11.1"/>
<circle cx="351.5" cy="640.1" r="11.1"/>
<circle cx="149.0" cy="848.4" r="11.1"/>
<circle cx="241.1" cy="737.5" r="11.1"/>
<circle cx="187.7" cy="756.9" r="11.1"/>
<circle cx="683.5" cy="233.2" r="11.1"/>
<circle cx="252.1" cy="745.6" r="11.1"/>
<circle cx="163.8" cy="842.6" r="11.1"/>
<circle cx="232.7" cy="790.7" r="11.1"/>
<circle cx="159.0" cy="820.6" r="11.1"/>
<circle cx="228.1" cy="799.4" r="11.1"/>
<circle cx="257.2" cy="774.2" r="11.1"/>
<circle cx="324.0" cy="676.2" r="11.1"/>
<circle cx="218.2" cy="721.9" r="11.1"/>
<circle cx="367.2" cy="607.0" r="11.1"/>
<circle cx="166.8" cy="823.7" r="11.1"/>
<circle cx="160.8" cy="807.6" r="11.1"/>
<circle cx="134.6" cy="850.8" r="11.1"/>
<circle cx="277.8" cy="706.4" r="11.1"/>
<circle cx="172.9" cy="829.7" r="11.1"/>
<circle cx="519.2" cy="427.2" r="11.1"/>
<circle cx="263.7" cy="697.7" r="11.1"/>
<circle cx="285.0" cy="717.6" r="11.1"/>
<circle cx="150.5" cy="802.9" r="11.1"/>
<circle cx="369.7" cy="628.6" r="11.1"/>
<circle cx="141.3" cy="847.5" r="11.1"/>
<circle cx="162.6" cy="821.6" r="11.1"/>
<circle cx="368.7" cy="584.2" r="11.1"/>
<circle cx="286.8" cy="679.1" r="11.1"/>
<circle cx="173.4" cy="801.9" r="11.1"/>
<circle cx="139.9" cy="849.8" r="11.1"/>
<circle cx="142.2" cy="823.6" r="11.1"/>
<circle cx="144.6" cy="847.7" r="11.1"/>
<circle cx="345.6" cy="661.9" r="11.1"/>
<circle cx="313.0" cy="667.6" r="11.1"/>
<circle cx="178.6" cy="806.1" r="11.1"/>
<circle cx="160.5" cy="800.8" r="11.1"/>
<circle cx="346.6" cy="601.0" r="11.1"/>
<circle cx="219.2" cy="772.2" r="11.1"/>
<circle cx="181.6" cy="831.1" r="11.1"/>
<circle cx="254.3" cy="747.0" r="11.1"/>
<circle cx="248.7" cy="725.3" r="11.1"/>
<circle cx="132.0" cy="848.3" r="11.1"/>
<circle cx="166.5" cy="817.8" r="11.1"/>
<circle cx="235.4" cy="742.4" r="11.1"/>
<circle cx="288.3" cy="670.7" r="11.1"/>
<circle cx="207.0" cy="769.4" r="11.1"/>
<circle cx="365.3" cy="610.9" r="11.1"/>
<circle cx="150.7" cy="826.2" r="11.1"/>
<circle cx="344.6" cy="606.6" r="11.1"/>
<circle cx="283.1" cy="699.8" r="11.1"/>
<circle cx="148.2" cy="829.7" r="11.1"/>
<circle cx="199.2" cy="756.3" r="11.1"/>
<circle cx="307.7" cy="686.3" r="11.1"/>
<circle cx="138.7" cy="850.2" r="11.1"/>
<circle cx="181.9" cy="813.9" r="11.1"/>
<circle cx="141.4" cy="851.4" r="11.1"/>
<circle cx="144.3" cy="814.7" r="11.1"/>
<circle cx="158.2" cy="838.2" r="11.1"/>
<circle cx="190.6" cy="806.8" r="11.1"/>
<circle cx="142.7" cy="850.0" r="11.1"/>
<circle cx="393.4" cy="564.8" r="11.1"/>
<circle cx="199.7" cy="805.1" r="11.1"/>
<circle cx="143.3" cy="828.8" r="11.1"/>
<circle cx="177.3" cy="780.4" r="11.1"/>
<circle cx="131.5" cy="847.9" r="11.1"/>
<circle cx="138.7" cy="852.0" r="11.1"/>
<circle cx="299.2" cy="690.3" r="11.1"/>
<circle cx="140.5" cy="845.6" r="11.1"/>
<circle cx="182.8" cy="798.2" r="11.1"/>
<circle cx="357.4" cy="689.9" r="11.1"/>
<circle cx="149.3" cy="825.6" r="11.1"/>
<circle cx="185.4" cy="790.6" r="11.1"/>
<circle cx="209.9" cy="776.7" r="11.1"/>
<circle cx="134.2" cy="845.4" r="11.1"/>
<circle cx="279.4" cy="709.5" r="11.1"/>
<circle cx="360.9" cy="548.4" r="11.1"/>
<circle cx="177.7" cy="823.8" r="11.1"/>
<circle cx="150.0" cy="802.1" r="11.1"/>
<circle cx="330.9" cy="667.4" r="11.1"/>
<circle cx="134.8" cy="847.7" r="11.1"/>
<circle cx="328.5" cy="588.7" r="11.1"/>
<circle cx="295.8" cy="669.2" r="11.1"/>
<circle cx="243.0" cy="743.9" r="11.1"/>
<circle cx="255.9" cy="687.5" r="11.1"/>
<circle cx="140.1" cy="838.3" r="11.1"/>
<circle cx="179.4" cy="786.9" r="11.1"/>
<circle cx="322.4" cy="705.1" r="11.1"/>
<circle cx="270.1" cy="663.0" r="11.1"/>
<circle cx="142.5" cy="850.1" r="11.1"/>
<circle cx="245.8" cy="752.1" r="11.1"/>
<circle cx="147.9" cy="851.1" r="11.1"/>
<circle cx="140.8" cy="827.8" r="11.1"/>
<circle cx="303.4" cy="690.5" r="11.1"/>
<circle cx="209.2" cy="771.0" r="11.1"/>
<circle cx="185.6" cy="834.1" r="11.1"/>
<circle cx="190.1" cy="759.2" r="11.1"/>
<circle cx="149.3" cy="850.9" r="11.1"/>
<circle cx="180.6" cy="809.9" r="11.1"/>
<circle cx="151.7" cy="847.1" r="11.1"/>
<circle cx="205.8" cy="759.9" r="11.1"/>
<circle cx="151.5" cy="823.0" r="11.1"/>
<circle cx="178.1" cy="843.4" r="11.1"/>
<circle cx="216.7" cy="754.1" r="11.1"/>
<circle cx="535.4" cy="384.3" r="11.1"/>
<circle cx="290.0" cy="668.7" r="11.1"/>
<circle cx="150.3" cy="815.5" r="11.1"/>
<circle cx="326.5" cy="641.7" r="11.1"/>
<circle cx="361.6" cy="625.9" r="11.1"/>
<circle cx="136.9" cy="837.2" r="11.1"/>
<circle cx="145.9" cy="829.1" r="11.1"/>
<circle cx="179.8" cy="829.5" r="11.1"/>
<circle cx="146.2" cy="817.8" r="11.1"/>
<circle cx="315.2" cy="647.9" r="11.1"/>
<circle cx="330.6" cy="637.8" r="11.1"/>
<circle cx="187.6" cy="789.3" r="11.1"/>
<circle cx="338.2" cy="589.3" r="11.1"/>
<circle cx="132.3" cy="842.3" r="11.1"/>
<circle cx="349.7" cy="590.3" r="11.1"/>
<circle cx="263.1" cy="676.3" r="11.1"/>
<circle cx="243.6" cy="734.2" r="11.1"/>
<circle cx="357.8" cy="619.0" r="11.1"/>
<circle cx="170.8" cy="803.8" r="11.1"/>
<circle cx="156.0" cy="852.5" r="11.1"/>
<circle cx="233.8" cy="713.3" r="11.1"/>
<circle cx="228.4" cy="739.1" r="11.1"/>
<circle cx="282.3" cy="722.9" r="11.1"/>
<circle cx="182.3" cy="811.5" r="11.1"/>
<circle cx="165.1" cy="813.3" r="11.1"/>
<circle cx="288.8" cy="692.6" r="11.1"/>
<circle cx="372.9" cy="582.2" r="11.1"/>
<circle cx="211.0" cy="821.5" r="11.1"/>
<circle cx="135.3" cy="845.2" r="11.1"/>
<circle cx="153.7" cy="849.2" r="11.1"/>
<circle cx="229.9" cy="756.2" r="11.1"/>
<circle cx="147.5" cy="825.4" r="11.1"/>
<circle cx="145.4" cy="852.3" r="11.1"/>
<circle cx="148.0" cy="813.0" r="11.1"/>
<circle cx="247.5" cy="753.1" r="11.1"/>
<circle cx="200.1" cy="769.0" r="11.1"/>
<circle cx="353.7" cy="639.1" r="11.1"/>
<circle cx="233.3" cy="746.2" r="11.1"/>
<circle cx="350.5" cy="602.2" r="11.1"/>
<circle cx="144.4" cy="837.3" r="11.1"/>
<circle cx="230.7" cy="728.4" r="11.1"/>
<circle cx="144.8" cy="811.0" r="11.1"/>
<circle cx="578.0" cy="328.0" r="11.1"/>
<circle cx="228.5" cy="711.4" r="11.1"/>
<circle cx="144.4" cy="845.6" r="11.1"/>
<circle cx="363.7" cy="612.8" r="11.1"/>
<circle cx="436.1" cy="622.6" r="11.1"/>
<circle cx="378.5" cy="532.6" r="11.1"/>
<circle cx="188.9" cy="778.5" r="11.1"/>
<circle cx="226.6" cy="730.5" r="11.1"/>
<circle cx="349.4" cy="621.3" r="11.1"/>
<circle cx="139.2" cy="842.8" r="11.1"/>
<circle cx="141.7" cy="831.9" r="11.1"/>
<circle cx="151.9" cy="835.9" r="11.1"/>
<circle cx="135.7" cy="849.6" r="11.1"/>
<circle cx="151.0" cy="831.6" r="11.1"/>
<circle cx="262.9" cy="710.2" r="11.1"/>
<circle cx="191.9" cy="793.0" r="11.1"/>
<circle cx="136.7" cy="839.7" r="11.1"/>
<circle cx="164.9" cy="790.0" r="11.1"/>
<circle cx="251.7" cy="758.4" r="11.1"/>
<circle cx="353.4" cy="655.9" r="11.1"/>
<circle cx="158.1" cy="825.6" r="11.1"/>
<circle cx="531.5" cy="368.3" r="11.1"/>
<circle cx="177.1" cy="770.8" r="11.1"/>
<circle cx="150.0" cy="806.0" r="11.1"/>
<circle cx="144.3" cy="847.6" r="11.1"/>
<circle cx="490.7" cy="448.7" r="11.1"/>
<circle cx="214.6" cy="758.7" r="11.1"/>
<circle cx="332.9" cy="602.4" r="11.1"/>
<circle cx="368.1" cy="565.5" r="11.1"/>
<circle cx="176.6" cy="784.3" r="11.1"/>
<circle cx="145.2" cy="839.5" r="11.1"/>
<circle cx="132.1" cy="850.8" r="11.1"/>
<circle cx="554.7" cy="426.8" r="11.1"/>
<circle cx="185.5" cy="792.5" r="11.1"/>
<circle cx="197.7" cy="811.8" r="11.1"/>
<circle cx="323.4" cy="653.6" r="11.1"/>
<circle cx="202.8" cy="779.7" r="11.1"/>
<circle cx="357.5" cy="597.4" r="11.1"/>
<circle cx="323.3" cy="674.7" r="11.1"/>
<circle cx="176.5" cy="792.2" r="11.1"/>
<circle cx="140.0" cy="848.8" r="11.1"/>
<circle cx="136.9" cy="852.0" r="11.1"/>
<circle cx="298.5" cy="679.3" r="11.1"/>
<circle cx="165.2" cy="814.7" r="11.1"/>
<circle cx="137.0" cy="842.5" r="11.1"/>
<circle cx="183.0" cy="758.3" r="11.1"/>
<circle cx="184.4" cy="760.8" r="11.1"/>
<circle cx="212.2" cy="713.2" r="11.1"/>
<circle cx="210.7" cy="783.9" r="11.1"/>
<circle cx="147.9" cy="849.2" r="11.1"/>
<circle cx="212.0" cy="736.5" r="11.1"/>
<circle cx="246.1" cy="748.7" r="11.1"/>
<circle cx="296.8" cy="726.7" r="11.1"/>
<circle cx="274.0" cy="701.4" r="11.1"/>
<circle cx="138.1" cy="839.9" r="11.1"/>
<circle cx="190.5" cy="777.7" r="11.1"/>
<circle cx="189.4" cy="831.0" r="11.1"/>
<circle cx="140.6" cy="850.9" r="11.1"/>
<circle cx="348.8" cy="607.0" r="11.1"/>
<circle cx="269.8" cy="651.1" r="11.1"/>
<circle cx="159.0" cy="822.0" r="11.1"/>
<circle cx="268.4" cy="725.6" r="11.1"/>
<circle cx="306.8" cy="661.8" r="11.1"/>
<circle cx="172.7" cy="815.8" r="11.1"/>
<circle cx="173.5" cy="808.4" r="11.1"/>
<circle cx="242.5" cy="764.7" r="11.1"/>
<circle cx="143.9" cy="849.2" r="11.1"/>
<circle cx="173.5" cy="782.4" r="11.1"/>
<circle cx="188.3" cy="803.0" r="11.1"/>
<circle cx="335.2" cy="626.6" r="11.1"/>
<circle cx="207.7" cy="777.3" r="11.1"/>
<circle cx="343.6" cy="588.4" r="11.1"/>
<circle cx="187.6" cy="798.8" r="11.1"/>
<circle cx="355.1" cy="670.2" r="11.1"/>
<circle cx="136.5" cy="830.0" r="11.1"/>
<circle cx="155.6" cy="826.8" r="11.1"/>
<circle cx="483.3" cy="474.3" r="11.1"/>
<circle cx="159.3" cy="838.7" r="11.1"/>
<circle cx="350.1" cy="661.9" r="11.1"/>
<circle cx="227.2" cy="805.8" r="11.1"/>
<circle cx="232.9" cy="736.5" r="11.1"/>
<circle cx="131.5" cy="851.3" r="11.1"/>
<circle cx="190.4" cy="816.4" r="11.1"/>
<circle cx="153.4" cy="824.8" r="11.1"/>
<circle cx="138.2" cy="847.9" r="11.1"/>
<circle cx="142.2" cy="836.9" r="11.1"/>
<circle cx="341.8" cy="637.0" r="11.1"/>
<circle cx="241.1" cy="739.2" r="11.1"/>
<circle cx="345.0" cy="629.8" r="11.1"/>
<circle cx="141.1" cy="836.6" r="11.1"/>
<circle cx="160.4" cy="798.4" r="11.1"/>
<circle cx="226.3" cy="774.7" r="11.1"/>
<circle cx="134.2" cy="851.9" r="11.1"/>
<circle cx="154.8" cy="837.9" r="11.1"/>
<circle cx="297.7" cy="662.4" r="11.1"/>
<circle cx="187.9" cy="813.8" r="11.1"/>
<circle cx="208.0" cy="813.0" r="11.1"/>
<circle cx="156.5" cy="849.8" r="11.1"/>
<circle cx="218.4" cy="735.4" r="11.1"/>
<circle cx="313.5" cy="687.5" r="11.1"/>
<circle cx="173.8" cy="802.3" r="11.1"/>
<circle cx="178.4" cy="844.4" r="11.1"/>
<circle cx="272.8" cy="707.4" r="11.1"/>
<circle cx="145.8" cy="818.1" r="11.1"/>
<circle cx="192.9" cy="840.6" r="11.1"/>
<circle cx="322.7" cy="633.8" r="11.1"/>
<circle cx="147.2" cy="852.5" r="11.1"/>
<circle cx="134.0" cy="848.1" r="11.1"/>
<circle cx="133.2" cy="847.7" r="11.1"/>
<circle cx="134.4" cy="840.3" r="11.1"/>
<circle cx="323.9" cy="671.1" r="11.1"/>
<circle cx="181.2" cy="768.3" r="11.1"/>
<circle cx="358.4" cy="579.6" r="11.1"/>
<circle cx="201.0" cy="767.9" r="11.1"/>
<circle cx="145.9" cy="818.4" r="11.1"/>
<circle cx="251.5" cy="708.9" r="11.1"/>
<circle cx="329.9" cy="637.2" r="11.1"/>
<circle cx="239.0" cy="719.6" r="11.1"/>
<circle cx="224.0" cy="719.5" r="11.1"/>
<circle cx="141.0" cy="853.1" r="11.1"/>
<circle cx="161.9" cy="838.3" r="11.1"/>
<circle cx="303.8" cy="667.6" r="11.1"/>
<circle cx="322.9" cy="620.5" r="11.1"/>
<circle cx="262.4" cy="720.9" r="11.1"/>
<circle cx="374.4" cy="549.1" r="11.1"/>
<circle cx="165.3" cy="824.7" r="11.1"/>
<circle cx="359.2" cy="596.7" r="11.1"/>
<circle cx="271.4" cy="709.5" r="11.1"/>
<circle cx="152.5" cy="827.5" r="11.1"/>
<circle cx="144.8" cy="828.1" r="11.1"/>
<circle cx="137.0" cy="849.3" r="11.1"/>
<circle cx="216.8" cy="790.6" r="11.1"/>
<circle cx="136.1" cy="848.0" r="11.1"/>
<circle cx="567.6" cy="445.6" r="11.1"/>
<circle cx="361.0" cy="495.5" r="11.1"/>
<circle cx="284.4" cy="666.7" r="11.1"/>
<circle cx="287.7" cy="695.7" r="11.1"/>
<circle cx="321.8" cy="664.1" r="11.1"/>
<circle cx="256.5" cy="749.9" r="11.1"/>
<circle cx="139.7" cy="850.8" r="11.1"/>
<circle cx="153.0" cy="840.2" r="11.1"/>
<circle cx="216.0" cy="791.1" r="11.1"/>
<circle cx="149.5" cy="852.0" r="11.1"/>
<circle cx="210.3" cy="729.0" r="11.1"/>
<circle cx="168.2" cy="798.0" r="11.1"/>
<circle cx="219.5" cy="749.2" r="11.1"/>
<circle cx="274.5" cy="743.7" r="11.1"/>
<circle cx="145.7" cy="833.1" r="11.1"/>
<circle cx="136.0" cy="839.0" r="11.1"/>
<circle cx="137.0" cy="845.0" r="11.1"/>
<circle cx="287.2" cy="715.9" r="11.1"/>
<circle cx="159.9" cy="797.2" r="11.1"/>
<circle cx="171.1" cy="828.6" r="11.1"/>
<circle cx="248.3" cy="694.8" r="11.1"/>
<circle cx="142.9" cy="837.4" r="11.1"/>
<circle cx="182.8" cy="746.8" r="11.1"/>
<circle cx="142.7" cy="847.2" r="11.1"/>
<circle cx="170.8" cy="815.6" r="11.1"/>
<circle cx="186.3" cy="782.2" r="11.1"/>
<circle cx="141.0" cy="850.6" r="11.1"/>
<circle cx="342.4" cy="617.7" r="11.1"/>
<circle cx="201.8" cy="799.4" r="11.1"/>
<circle cx="284.3" cy="664.4" r="11.1"/>
<circle cx="147.8" cy="845.7" r="11.1"/>
<circle cx="352.8" cy="620.9" r="11.1"/>
<circle cx="182.0" cy="639.9" r="11.1"/>
<circle cx="261.4" cy="689.2" r="11.1"/>
<circle cx="203.7" cy="805.1" r="11.1"/>
<circle cx="262.0" cy="692.7" r="11.1"/>
<circle cx="299.5" cy="641.4" r="11.1"/>
<circle cx="139.0" cy="851.7" r="11.1"/>
<circle cx="327.0" cy="646.7" r="11.1"/>
<circle cx="492.4" cy="536.0" r="11.1"/>
<circle cx="290.4" cy="677.3" r="11.1"/>
<circle cx="220.2" cy="772.3" r="11.1"/>
<circle cx="159.2" cy="790.0" r="11.1"/>
<circle cx="143.0" cy="847.7" r="11.1"/>
<circle cx="244.4" cy="740.0" r="11.1"/>
<circle cx="258.2" cy="773.2" r="11.1"/>
<circle cx="204.0" cy="753.2" r="11.1"/>
<circle cx="159.8" cy="835.8" r="11.1"/>
<circle cx="141.7" cy="847.1" r="11.1"/>
<circle cx="142.0" cy="848.5" r="11.1"/>
<circle cx="358.0" cy="590.2" r="11.1"/>
<circle cx="143.6" cy="825.9" r="11.1"/>
<circle cx="264.1" cy="674.6" r="11.1"/>
<circle cx="172.1" cy="804.5" r="11.1"/>
<circle cx="361.9" cy="390.1" r="11.1"/>
<circle cx="220.7" cy="724.7" r="11.1"/>
<circle cx="248.8" cy="744.0" r="11.1"/>
<circle cx="266.0" cy="694.7" r="11.1"/>
<circle cx="329.9" cy="674.4" r="11.1"/>
<circle cx="148.2" cy="833.5" r="11.1"/>
<circle cx="206.9" cy="810.9" r="11.1"/>
<circle cx="211.3" cy="768.7" r="11.1"/>
<circle cx="326.6" cy="666.8" r="11.1"/>
<circle cx="153.8" cy="822.2" r="11.1"/>
<circle cx="191.1" cy="840.0" r="11.1"/>
<circle cx="318.8" cy="637.4" r="11.1"/>
<circle cx="227.1" cy="772.2" r="11.1"/>
<circle cx="340.5" cy="648.4" r="11.1"/>
<circle cx="347.5" cy="620.2" r="11.1"/>
<circle cx="258.7" cy="723.0" r="11.1"/>
<circle cx="143.1" cy="837.2" r="11.1"/>
<circle cx="165.9" cy="781.2" r="11.1"/>
<circle cx="149.4" cy="818.8" r="11.1"/>
<circle cx="433.6" cy="537.7" r="11.1"/>
<circle cx="342.0" cy="631.3" r="11.1"/>
<circle cx="138.6" cy="851.7" r="11.1"/>
<circle cx="236.5" cy="765.6" r="11.1"/>
<circle cx="295.3" cy="656.1" r="11.1"/>
<circle cx="156.2" cy="811.5" r="11.1"/>
<circle cx="262.0" cy="688.2" r="11.1"/>
<circle cx="331.5" cy="621.7" r="11.1"/>
<circle cx="232.2" cy="769.1" r="11.1"/>
<circle cx="135.7" cy="852.5" r="11.1"/>
<circle cx="305.5" cy="682.8" r="11.1"/>
<circle cx="336.6" cy="645.4" r="11.1"/>
<circle cx="157.4" cy="850.8" r="11.1"/>
<circle cx="325.2" cy="641.7" r="11.1"/>
<circle cx="360.6" cy="597.4" r="11.1"/>
<circle cx="220.4" cy="763.1" r="11.1"/>
<circle cx="186.0" cy="753.5" r="11.1"/>
<circle cx="489.6" cy="451.5" r="11.1"/>
<circle cx="156.6" cy="825.2" r="11.1"/>
<circle cx="179.5" cy="785.9" r="11.1"/>
<circle cx="206.2" cy="785.8" r="11.1"/>
<circle cx="217.0" cy="774.6" r="11.1"/>
<circle cx="151.7" cy="839.1" r="11.1"/>
<circle cx="475.7" cy="512.3" r="11.1"/>
<circle cx="247.1" cy="751.2" r="11.1"/>
<circle cx="179.7" cy="799.2" r="11.1"/>
<circle cx="201.2" cy="769.5" r="11.1"/>
<circle cx="177.7" cy="804.8" r="11.1"/>
<circle cx="140.5" cy="852.4" r="11.1"/>
<circle cx="200.5" cy="771.6" r="11.1"/>
<circle cx="346.4" cy="645.3" r="11.1"/>
<circle cx="134.0" cy="850.1" r="11.1"/>
<circle cx="269.0" cy="702.0" r="11.1"/>
<circle cx="267.5" cy="686.6" r="11.1"/>
<circle cx="517.1" cy="478.5" r="11.1"/>
<circle cx="160.7" cy="833.0" r="11.1"/>
<circle cx="146.5" cy="844.3" r="11.1"/>
<circle cx="236.5" cy="758.3" r="11.1"/>
<circle cx="307.7" cy="662.9" r="11.1"/>
<circle cx="206.5" cy="777.5" r="11.1"/>
<circle cx="212.2" cy="737.8" r="11.1"/>
<circle cx="499.9" cy="421.7" r="11.1"/>
<circle cx="371.0" cy="640.6" r="11.1"/>
<circle cx="257.6" cy="695.8" r="11.1"/>
<circle cx="271.5" cy="674.2" r="11.1"/>
<circle cx="372.2" cy="575.8" r="11.1"/>
<circle cx="213.4" cy="736.9" r="11.1"/>
<circle cx="169.9" cy="812.0" r="11.1"/>
<circle cx="133.0" cy="851.0" r="11.1"/>
<circle cx="153.4" cy="845.3" r="11.1"/>
<circle cx="193.0" cy="743.8" r="11.1"/>
<circle cx="144.3" cy="839.0" r="11.1"/>
<circle cx="131.1" cy="853.3" r="11.1"/>
<circle cx="158.0" cy="830.5" r="11.1"/>
<circle cx="151.8" cy="828.4" r="11.1"/>
<circle cx="230.7" cy="753.7" r="11.1"/>
<circle cx="188.0" cy="800.1" r="11.1"/>
<circle cx="312.3" cy="669.7" r="11.1"/>
<circle cx="200.2" cy="769.2" r="11.1"/>
<circle cx="222.7" cy="771.9" r="11.1"/>
<circle cx="297.6" cy="709.5" r="11.1"/>
<circle cx="258.0" cy="717.9" r="11.1"/>
<circle cx="216.4" cy="752.3" r="11.1"/>
<circle cx="446.2" cy="469.5" r="11.1"/>
<circle cx="145.6" cy="849.1" r="11.1"/>
<circle cx="158.0" cy="834.7" r="11.1"/>
<circle cx="229.2" cy="727.3" r="11.1"/>
<circle cx="181.9" cy="774.0" r="11.1"/>
<circle cx="136.2" cy="848.5" r="11.1"/>
<circle cx="302.0" cy="664.2" r="11.1"/>
<circle cx="638.1" cy="287.5" r="11.1"/>
<circle cx="187.3" cy="786.5" r="11.1"/>
<circle cx="295.2" cy="698.0" r="11.1"/>
<circle cx="138.8" cy="837.9" r="11.1"/>
<circle cx="256.5" cy="753.6" r="11.1"/>
<circle cx="131.7" cy="849.1" r="11.1"/>
<circle cx="262.3" cy="702.9" r="11.1"/>
<circle cx="219.7" cy="766.7" r="11.1"/>
<circle cx="147.9" cy="827.1" r="11.1"/>
<circle cx="243.8" cy="755.3" r="11.1"/>
<circle cx="143.0" cy="837.5" r="11.1"/>
<circle cx="149.3" cy="810.0" r="11.1"/>
<circle cx="142.9" cy="823.6" r="11.1"/>
<circle cx="133.0" cy="849.4" r="11.1"/>
<circle cx="353.8" cy="625.6" r="11.1"/>
<circle cx="143.9" cy="842.2" r="11.1"/>
<circle cx="370.3" cy="543.4" r="11.1"/>
<circle cx="134.1" cy="838.2" r="11.1"/>
<circle cx="320.7" cy="638.6" r="11.1"/>
<circle cx="207.8" cy="760.4" r="11.1"/>
<circle cx="346.4" cy="629.0" r="11.1"/>
<circle cx="142.1" cy="841.8" r="11.1"/>
<circle cx="195.8" cy="779.0" r="11.1"/>
<circle cx="138.6" cy="848.6" r="11.1"/>
<circle cx="144.9" cy="851.3" r="11.1"/>
<circle cx="320.2" cy="663.8" r="11.1"/>
<circle cx="149.5" cy="850.3" r="11.1"/>
<circle cx="223.0" cy="771.2" r="11.1"/>
<circle cx="141.4" cy="850.6" r="11.1"/>
<circle cx="467.6" cy="550.5" r="11.1"/>
<circle cx="305.9" cy="678.3" r="11.1"/>
<circle cx="355.1" cy="579.3" r="11.1"/>
<circle cx="346.8" cy="596.7" r="11.1"/>
<circle cx="304.5" cy="673.1" r="11.1"/>
<circle cx="137.9" cy="851.3" r="11.1"/>
<circle cx="531.8" cy="440.3" r="11.1"/>
<circle cx="131.6" cy="833.2" r="11.1"/>
<circle cx="336.4" cy="660.5" r="11.1"/>
<circle cx="302.1" cy="649.4" r="11.1"/>
<circle cx="183.3" cy="769.5" r="11.1"/>
<circle cx="301.9" cy="665.8" r="11.1"/>
<circle cx="140.8" cy="835.5" r="11.1"/>
<circle cx="151.7" cy="822.8" r="11.1"/>
<circle cx="152.9" cy="850.1" r="11.1"/>
<circle cx="171.7" cy="775.9" r="11.1"/>
<circle cx="286.9" cy="711.3" r="11.1"/>
<circle cx="327.5" cy="639.3" r="11.1"/>
<circle cx="290.0" cy="739.5" r="11.1"/>
<circle cx="178.5" cy="775.8" r="11.1"/>
<circle cx="138.6" cy="848.8" r="11.1"/>
<circle cx="184.8" cy="794.3" r="11.1"/>
<circle cx="140.9" cy="815.8" r="11.1"/>
<circle cx="268.9" cy="733.9" r="11.1"/>
<circle cx="285.1" cy="637.3" r="11.1"/>
<circle cx="254.0" cy="726.8" r="11.1"/>
<circle cx="135.4" cy="848.0" r="11.1"/>
<circle cx="207.3" cy="774.3" r="11.1"/>
<circle cx="182.8" cy="793.2" r="11.1"/>
<circle cx="269.4" cy="702.3" r="11.1"/>
<circle cx="219.2" cy="705.5" r="11.1"/>
<circle cx="241.1" cy="722.9" r="11.1"/>
<circle cx="136.5" cy="848.0" r="11.1"/>
<circle cx="135.2" cy="841.7" r="11.1"/>
<circle cx="193.8" cy="754.2" r="11.1"/>
<circle cx="144.6" cy="847.4" r="11.1"/>
<circle cx="363.7" cy="588.8" r="11.1"/>
<circle cx="286.2" cy="682.7" r="11.1"/>
<circle cx="132.3" cy="843.3" r="11.1"/>
<circle cx="356.3" cy="636.6" r="11.1"/>
<circle cx="313.5" cy="629.5" r="11.1"/>
<circle cx="201.9" cy="774.2" r="11.1"/>
<circle cx="177.9" cy="812.5" r="11.1"/>
<circle cx="231.9" cy="775.8" r="11.1"/>
<circle cx="307.3" cy="650.0" r="11.1"/>
<circle cx="400.5" cy="592.4" r="11.1"/>
<circle cx="168.1" cy="798.3" r="11.1"/>
<circle cx="191.1" cy="748.2" r="11.1"/>
<circle cx="135.6" cy="838.0" r="11.1"/>
<circle cx="189.6" cy="761.6" r="11.1"/>
<circle cx="154.7" cy="830.6" r="11.1"/>
<circle cx="139.5" cy="843.9" r="11.1"/>
<circle cx="322.9" cy="683.8" r="11.1"/>
<circle cx="136.6" cy="851.7" r="11.1"/>
<circle cx="286.6" cy="743.1" r="11.1"/>
<circle cx="185.1" cy="775.6" r="11.1"/>
<circle cx="185.6" cy="791.1" r="11.1"/>
<circle cx="183.8" cy="827.3" r="11.1"/>
<circle cx="322.2" cy="630.9" r="11.1"/>
<circle cx="445.2" cy="555.5" r="11.1"/>
<circle cx="159.2" cy="839.1" r="11.1"/>
<circle cx="200.5" cy="726.4" r="11.1"/>
<circle cx="169.8" cy="828.6" r="11.1"/>
<circle cx="146.1" cy="844.5" r="11.1"/>
<circle cx="153.6" cy="815.3" r="11.1"/>
<circle cx="349.4" cy="598.3" r="11.1"/>
<circle cx="188.1" cy="811.2" r="11.1"/>
<circle cx="209.7" cy="738.2" r="11.1"/>
<circle cx="298.1" cy="698.2" r="11.1"/>
<circle cx="349.8" cy="649.2" r="11.1"/>
<circle cx="134.5" cy="843.1" r="11.1"/>
<circle cx="232.2" cy="762.2" r="11.1"/>
<circle cx="132.3" cy="845.9" r="11.1"/>
<circle cx="164.4" cy="797.5" r="11.1"/>
<circle cx="182.0" cy="803.4" r="11.1"/>
<circle cx="259.8" cy="771.5" r="11.1"/>
<circle cx="159.7" cy="849.1" r="11.1"/>
<circle cx="150.9" cy="832.4" r="11.1"/>
<circle cx="337.7" cy="616.0" r="11.1"/>
<circle cx="134.6" cy="845.5" r="11.1"/>
<circle cx="264.4" cy="678.1" r="11.1"/>
<circle cx="360.9" cy="561.3" r="11.1"/>
<circle cx="242.0" cy="697.9" r="11.1"/>
<circle cx="177.6" cy="776.8" r="11.1"/>
<circle cx="156.9" cy="823.6" r="11.1"/>
<circle cx="220.1" cy="720.0" r="11.1"/>
<circle cx="153.5" cy="827.5" r="11.1"/>
<circle cx="188.0" cy="825.8" r="11.1"/>
<circle cx="317.2" cy="660.0" r="11.1"/>
<circle cx="223.5" cy="805.8" r="11.1"/>
<circle cx="328.6" cy="670.6" r="11.1"/>
<circle cx="288.2" cy="657.9" r="11.1"/>
<circle cx="140.9" cy="848.4" r="11.1"/>
<circle cx="131.1" cy="853.3" r="11.1"/>
<circle cx="171.4" cy="804.3" r="11.1"/>
<circle cx="168.3" cy="791.0" r="11.1"/>
<circle cx="371.2" cy="582.1" r="11.1"/>
<circle cx="359.7" cy="553.1" r="11.1"/>
<circle cx="179.8" cy="779.8" r="11.1"/>
<circle cx="172.6" cy="804.6" r="11.1"/>
<circle cx="211.6" cy="794.5" r="11.1"/>
<circle cx="240.6" cy="779.9" r="11.1"/>
<circle cx="194.1" cy="767.3" r="11.1"/>
<circle cx="234.3" cy="761.7" r="11.1"/>
<circle cx="167.3" cy="839.5" r="11.1"/>
<circle cx="140.2" cy="848.4" r="11.1"/>
<circle cx="257.1" cy="727.7" r="11.1"/>
<circle cx="196.6" cy="780.9" r="11.1"/>
<circle cx="136.5" cy="853.2" r="11.1"/>
<circle cx="138.8" cy="840.8" r="11.1"/>
<circle cx="151.8" cy="829.1" r="11.1"/>
<circle cx="141.3" cy="835.5" r="11.1"/>
<circle cx="257.0" cy="701.5" r="11.1"/>
<circle cx="190.1" cy="842.9" r="11.1"/>
<circle cx="216.3" cy="799.2" r="11.1"/>
<circle cx="227.0" cy="744.5" r="11.1"/>
<circle cx="178.7" cy="814.6" r="11.1"/>
<circle cx="141.3" cy="825.4" r="11.1"/>
<circle cx="223.9" cy="771.1" r="11.1"/>
<circle cx="368.4" cy="577.4" r="11.1"/>
<circle cx="266.0" cy="745.9" r="11.1"/>
<circle cx="349.8" cy="639.2" r="11.1"/>
<circle cx="225.0" cy="753.3" r="11.1"/>
<circle cx="165.3" cy="850.0" r="11.1"/>
<circle cx="150.2" cy="852.1" r="11.1"/>
<circle cx="133.5" cy="829.0" r="11.1"/>
<circle cx="205.3" cy="775.2" r="11.1"/>
<circle cx="144.0" cy="833.8" r="11.1"/>
<circle cx="366.3" cy="581.2" r="11.1"/>
<circle cx="173.3" cy="834.8" r="11.1"/>
<circle cx="136.5" cy="849.3" r="11.1"/>
<circle cx="155.7" cy="805.5" r="11.1"/>
<circle cx="503.1" cy="403.1" r="11.1"/>
<circle cx="312.7" cy="662.0" r="11.1"/>
<circle cx="303.7" cy="668.7" r="11.1"/>
<circle cx="153.9" cy="826.6" r="11.1"/>
<circle cx="146.3" cy="813.3" r="11.1"/>
<circle cx="191.4" cy="778.7" r="11.1"/>
<circle cx="202.2" cy="785.5" r="11.1"/>
<circle cx="141.9" cy="848.5" r="11.1"/>
<circle cx="147.4" cy="853.0" r="11.1"/>
<circle cx="367.6" cy="607.2" r="11.1"/>
<circle cx="158.6" cy="813.1" r="11.1"/>
<circle cx="143.6" cy="841.9" r="11.1"/>
<circle cx="348.4" cy="608.0" r="11.1"/>
<circle cx="347.5" cy="627.5" r="11.1"/>
<circle cx="237.7" cy="747.1" r="11.1"/>
<circle cx="183.8" cy="826.2" r="11.1"/>
<circle cx="198.5" cy="773.6" r="11.1"/>
<circle cx="160.8" cy="816.0" r="11.1"/>
<circle cx="149.2" cy="818.8" r="11.1"/>
<circle cx="183.3" cy="765.1" r="11.1"/>
<circle cx="318.4" cy="752.7" r="11.1"/>
<circle cx="253.7" cy="764.7" r="11.1"/>
<circle cx="325.1" cy="611.9" r="11.1"/>
<circle cx="341.4" cy="640.7" r="11.1"/>
<circle cx="264.7" cy="713.8" r="11.1"/>
<circle cx="133.3" cy="828.1" r="11.1"/>
<circle cx="349.6" cy="610.3" r="11.1"/>
<circle cx="366.4" cy="637.8" r="11.1"/>
<circle cx="368.2" cy="595.1" r="11.1"/>
<circle cx="175.1" cy="794.2" r="11.1"/>
<circle cx="159.2" cy="786.7" r="11.1"/>
<circle cx="183.8" cy="745.6" r="11.1"/>
<circle cx="145.1" cy="819.1" r="11.1"/>
<circle cx="351.5" cy="609.3" r="11.1"/>
<circle cx="208.6" cy="738.0" r="11.1"/>
<circle cx="168.3" cy="839.4" r="11.1"/>
<circle cx="162.2" cy="819.5" r="11.1"/>
<circle cx="140.6" cy="847.9" r="11.1"/>
<circle cx="302.8" cy="718.4" r="11.1"/>
<circle cx="290.7" cy="686.5" r="11.1"/>
<circle cx="253.3" cy="739.7" r="11.1"/>
<circle cx="191.0" cy="759.7" r="11.1"/>
<circle cx="195.6" cy="788.3" r="11.1"/>
<circle cx="338.1" cy="663.0" r="11.1"/>
<circle cx="153.7" cy="813.5" r="11.1"/>
<circle cx="144.8" cy="823.5" r="11.1"/>
<circle cx="152.6" cy="850.6" r="11.1"/>
<circle cx="141.6" cy="846.9" r="11.1"/>
<circle cx="232.8" cy="756.5" r="11.1"/>
<circle cx="163.9" cy="797.2" r="11.1"/>
<circle cx="194.0" cy="801.0" r="11.1"/>
<circle cx="328.7" cy="672.2" r="11.1"/>
<circle cx="356.4" cy="597.4" r="11.1"/>
<circle cx="154.3" cy="808.2" r="11.1"/>
<circle cx="153.8" cy="846.9" r="11.1"/>
<circle cx="340.0" cy="652.1" r="11.1"/>
<circle cx="223.2" cy="743.1" r="11.1"/>
<circle cx="131.5" cy="850.0" r="11.1"/>
<circle cx="180.8" cy="785.6" r="11.1"/>
<circle cx="233.4" cy="747.2" r="11.1"/>
<circle cx="271.6" cy="677.8" r="11.1"/>
<circle cx="146.2" cy="826.7" r="11.1"/>
<circle cx="132.8" cy="847.8" r="11.1"/>
<circle cx="138.1" cy="841.1" r="11.1"/>
<circle cx="145.6" cy="830.2" r="11.1"/>
<circle cx="779.2" cy="227.8" r="11.1"/>
<circle cx="186.4" cy="822.0" r="11.1"/>
<circle cx="212.5" cy="732.2" r="11.1"/>
<circle cx="152.6" cy="789.8" r="11.1"/>
<circle cx="299.9" cy="654.6" r="11.1"/>
<circle cx="366.1" cy="554.4" r="11.1"/>
<circle cx="284.6" cy="688.1" r="11.1"/>
<circle cx="276.3" cy="689.9" r="11.1"/>
<circle cx="230.9" cy="766.1" r="11.1"/>
<circle cx="224.7" cy="733.6" r="11.1"/>
<circle cx="221.9" cy="738.7" r="11.1"/>
<circle cx="322.4" cy="672.0" r="11.1"/>
<circle cx="132.4" cy="852.8" r="11.1"/>
<circle cx="225.2" cy="708.3" r="11.1"/>
<circle cx="157.9" cy="825.9" r="11.1"/>
<circle cx="223.7" cy="790.7" r="11.1"/>
<circle cx="244.5" cy="729.2" r="11.1"/>
<circle cx="140.3" cy="853.1" r="11.1"/>
<circle cx="303.5" cy="651.7" r="11.1"/>
<circle cx="134.7" cy="840.4" r="11.1"/>
<circle cx="335.2" cy="615.7" r="11.1"/>
<circle cx="145.4" cy="830.8" r="11.1"/>
<circle cx="167.7" cy="796.5" r="11.1"/>
<circle cx="154.7" cy="827.3" r="11.1"/>
<circle cx="224.1" cy="749.3" r="11.1"/>
<circle cx="131.9" cy="849.2" r="11.1"/>
<circle cx="174.3" cy="795.6" r="11.1"/>
<circle cx="555.1" cy="483.6" r="11.1"/>
<circle cx="279.0" cy="692.7" r="11.1"/>
<circle cx="194.2" cy="755.7" r="11.1"/>
<circle cx="403.1" cy="567.0" r="11.1"/>
<circle cx="138.8" cy="850.8" r="11.1"/>
<circle cx="191.9" cy="804.5" r="11.1"/>
<circle cx="203.5" cy="818.3" r="11.1"/>
<circle cx="139.8" cy="832.2" r="11.1"/>
<circle cx="216.2" cy="763.7" r="11.1"/>
<circle cx="158.7" cy="802.9" r="11.1"/>
<circle cx="361.9" cy="649.2" r="11.1"/>
<circle cx="177.9" cy="767.9" r="11.1"/>
<circle cx="141.3" cy="852.6" r="11.1"/>
<circle cx="336.1" cy="624.0" r="11.1"/>
<circle cx="161.5" cy="797.0" r="11.1"/>
<circle cx="276.3" cy="722.8" r="11.1"/>
<circle cx="138.4" cy="826.5" r="11.1"/>
<circle cx="164.8" cy="832.9" r="11.1"/>
<circle cx="147.9" cy="818.6" r="11.1"/>
<circle cx="145.2" cy="841.0" r="11.1"/>
<circle cx="245.4" cy="736.9" r="11.1"/>
<circle cx="180.3" cy="749.9" r="11.1"/>
<circle cx="145.9" cy="825.3" r="11.1"/>
<circle cx="138.7" cy="848.1" r="11.1"/>
<circle cx="251.8" cy="751.7" r="11.1"/>
<circle cx="315.0" cy="674.0" r="11.1"/>
<circle cx="193.5" cy="828.2" r="11.1"/>
<circle cx="135.7" cy="839.0" r="11.1"/>
<circle cx="347.8" cy="604.9" r="11.1"/>
<circle cx="245.4" cy="698.4" r="11.1"/>
<circle cx="340.1" cy="581.7" r="11.1"/>
<circle cx="151.6" cy="801.2" r="11.1"/>
<circle cx="158.5" cy="801.7" r="11.1"/>
<circle cx="152.7" cy="853.4" r="11.1"/>
<circle cx="136.2" cy="832.1" r="11.1"/>
<circle cx="298.3" cy="672.0" r="11.1"/>
<circle cx="164.8" cy="809.0" r="11.1"/>
<circle cx="368.8" cy="612.2" r="11.1"/>
<circle cx="148.2" cy="833.0" r="11.1"/>
<circle cx="197.5" cy="784.7" r="11.1"/>
<circle cx="147.1" cy="827.7" r="11.1"/>
<circle cx="268.6" cy="697.9" r="11.1"/>
<circle cx="289.5" cy="675.5" r="11.1"/>
<circle cx="181.3" cy="792.1" r="11.1"/>
<circle cx="326.3" cy="683.0" r="11.1"/>
<circle cx="298.9" cy="683.9" r="11.1"/>
<circle cx="136.2" cy="847.7" r="11.1"/>
<circle cx="455.9" cy="494.7" r="11.1"/>
<circle cx="195.0" cy="782.7" r="11.1"/>
<circle cx="308.8" cy="690.2" r="11.1"/>
<circle cx="157.8" cy="812.0" r="11.1"/>
<circle cx="173.4" cy="779.8" r="11.1"/>
<circle cx="154.7" cy="853.1" r="11.1"/>
<circle cx="137.8" cy="825.1" r="11.1"/>
<circle cx="132.2" cy="842.3" r="11.1"/>
<circle cx="165.3" cy="817.6" r="11.1"/>
<circle cx="186.6" cy="758.4" r="11.1"/>
<circle cx="156.0" cy="851.3" r="11.1"/>
<circle cx="179.2" cy="777.5" r="11.1"/>
<circle cx="147.5" cy="830.6" r="11.1"/>
<circle cx="161.1" cy="848.9" r="11.1"/>
<circle cx="375.2" cy="635.7" r="11.1"/>
<circle cx="339.8" cy="669.9" r="11.1"/>
<circle cx="154.0" cy="837.6" r="11.1"/>
<circle cx="150.7" cy="852.9" r="11.1"/>
<circle cx="161.3" cy="813.1" r="11.1"/>
<circle cx="162.4" cy="800.8" r="11.1"/>
<circle cx="251.1" cy="706.9" r="11.1"/>
<circle cx="149.8" cy="833.2" r="11.1"/>
<circle cx="132.2" cy="847.9" r="11.1"/>
<circle cx="317.7" cy="635.2" r="11.1"/>
<circle cx="372.2" cy="571.4" r="11.1"/>
<circle cx="229.7" cy="752.1" r="11.1"/>
<circle cx="171.8" cy="849.7" r="11.1"/>
<circle cx="349.0" cy="625.0" r="11.1"/>
<circle cx="346.6" cy="639.4" r="11.1"/>
<circle cx="189.3" cy="777.3" r="11.1"/>
<circle cx="348.2" cy="621.5" r="11.1"/>
<circle cx="150.9" cy="838.0" r="11.1"/>
<circle cx="136.3" cy="850.0" r="11.1"/>
<circle cx="199.0" cy="770.7" r="11.1"/>
<circle cx="358.3" cy="653.6" r="11.1"/>
<circle cx="370.1" cy="629.5" r="11.1"/>
<circle cx="342.8" cy="633.0" r="11.1"/>
<circle cx="305.8" cy="673.8" r="11.1"/>
<circle cx="156.0" cy="830.6" r="11.1"/>
<circle cx="189.7" cy="826.7" r="11.1"/>
<circle cx="312.8" cy="676.2" r="11.1"/>
<circle cx="333.5" cy="637.9" r="11.1"/>
<circle cx="361.6" cy="669.4" r="11.1"/>
<circle cx="360.8" cy="628.6" r="11.1"/>
<circle cx="149.2" cy="848.8" r="11.1"/>
<circle cx="752.7" cy="292.7" r="11.1"/>
<circle cx="132.5" cy="849.8" r="11.1"/>
<circle cx="361.5" cy="633.9" r="11.1"/>
<circle cx="368.0" cy="601.7" r="11.1"/>
<circle cx="150.3" cy="811.8" r="11.1"/>
<circle cx="367.9" cy="605.8" r="11.1"/>
<circle cx="181.6" cy="802.3" r="11.1"/>
<circle cx="139.7" cy="838.0" r="11.1"/>
<circle cx="145.6" cy="851.4" r="11.1"/>
<circle cx="194.7" cy="762.0" r="11.1"/>
<circle cx="234.4" cy="775.4" r="11.1"/>
<circle cx="149.3" cy="837.9" r="11.1"/>
<circle cx="152.6" cy="849.9" r="11.1"/>
<circle cx="265.2" cy="707.4" r="11.1"/>
<circle cx="212.8" cy="767.8" r="11.1"/>
<circle cx="141.4" cy="829.5" r="11.1"/>
<circle cx="168.3" cy="812.7" r="11.1"/>
<circle cx="219.3" cy="705.4" r="11.1"/>
<circle cx="169.3" cy="818.9" r="11.1"/>
<circle cx="260.7" cy="708.4" r="11.1"/>
<circle cx="133.4" cy="849.3" r="11.1"/>
<circle cx="160.4" cy="810.7" r="11.1"/>
<circle cx="451.5" cy="530.9" r="11.1"/>
<circle cx="288.1" cy="692.4" r="11.1"/>
<circle cx="151.0" cy="842.4" r="11.1"/>
<circle cx="293.8" cy="692.6" r="11.1"/>
<circle cx="426.6" cy="548.1" r="11.1"/>
<circle cx="373.0" cy="570.4" r="11.1"/>
<circle cx="149.6" cy="811.2" r="11.1"/>
<circle cx="209.9" cy="748.4" r="11.1"/>
<circle cx="148.2" cy="824.6" r="11.1"/>
<circle cx="189.1" cy="829.8" r="11.1"/>
<circle cx="152.7" cy="841.6" r="11.1"/>
<circle cx="323.5" cy="649.2" r="11.1"/>
<circle cx="369.5" cy="603.2" r="11.1"/>
<circle cx="229.5" cy="749.4" r="11.1"/>
<circle cx="152.7" cy="814.8" r="11.1"/>
<circle cx="200.3" cy="786.3" r="11.1"/>
<circle cx="132.7" cy="853.4" r="11.1"/>
<circle cx="150.0" cy="847.8" r="11.1"/>
<circle cx="177.5" cy="825.7" r="11.1"/>
<circle cx="260.6" cy="662.5" r="11.1"/>
<circle cx="155.0" cy="797.2" r="11.1"/>
<circle cx="309.4" cy="656.6" r="11.1"/>
<circle cx="259.0" cy="721.8" r="11.1"/>
<circle cx="329.9" cy="615.3" r="11.1"/>
<circle cx="225.5" cy="749.7" r="11.1"/>
<circle cx="160.5" cy="850.1" r="11.1"/>
<circle cx="288.7" cy="695.6" r="11.1"/>
<circle cx="182.4" cy="802.8" r="11.1"/>
<circle cx="333.3" cy="656.1" r="11.1"/>
<circle cx="207.2" cy="772.3" r="11.1"/>
<circle cx="193.1" cy="763.3" r="11.1"/>
<circle cx="140.8" cy="853.4" r="11.1"/>
<circle cx="306.7" cy="693.2" r="11.1"/>
<circle cx="173.4" cy="780.7" r="11.1"/>
<circle cx="138.8" cy="850.9" r="11.1"/>
<circle cx="142.4" cy="851.0" r="11.1"/>
<circle cx="508.5" cy="497.5" r="11.1"/>
<circle cx="161.2" cy="785.1" r="11.1"/>
<circle cx="155.6" cy="827.4" r="11.1"/>
<circle cx="204.3" cy="787.0" r="11.1"/>
<circle cx="155.4" cy="847.3" r="11.1"/>
<circle cx="188.4" cy="827.3" r="11.1"/>
<circle cx="154.0" cy="818.4" r="11.1"/>
<circle cx="131.1" cy="851.9" r="11.1"/>
<circle cx="371.0" cy="578.7" r="11.1"/>
<circle cx="208.7" cy="767.5" r="11.1"/>
<circle cx="302.0" cy="668.0" r="11.1"/>
<circle cx="203.3" cy="799.1" r="11.1"/>
<circle cx="207.9" cy="774.5" r="11.1"/>
<circle cx="356.7" cy="591.2" r="11.1"/>
<circle cx="194.5" cy="763.2" r="11.1"/>
<circle cx="241.7" cy="732.2" r="11.1"/>
<circle cx="219.3" cy="711.8" r="11.1"/>
<circle cx="173.3" cy="835.8" r="11.1"/>
<circle cx="161.9" cy="798.1" r="11.1"/>
<circle cx="174.2" cy="825.8" r="11.1"/>
<circle cx="169.9" cy="779.2" r="11.1"/>
<circle cx="198.5" cy="778.9" r="11.1"/>
<circle cx="353.8" cy="635.7" r="11.1"/>
<circle cx="343.9" cy="651.4" r="11.1"/>
<circle cx="215.2" cy="755.6" r="11.1"/>
<circle cx="191.0" cy="842.3" r="11.1"/>
<circle cx="176.3" cy="816.0" r="11.1"/>
<circle cx="316.4" cy="683.3" r="11.1"/>
<circle cx="135.5" cy="846.0" r="11.1"/>
<circle cx="199.3" cy="755.2" r="11.1"/>
<circle cx="368.9" cy="593.5" r="11.1"/>
<circle cx="268.2" cy="706.3" r="11.1"/>
<circle cx="136.5" cy="852.3" r="11.1"/>
<circle cx="207.8" cy="800.0" r="11.1"/>
<circle cx="145.8" cy="813.6" r="11.1"/>
<circle cx="144.2" cy="853.3" r="11.1"/>
<circle cx="140.6" cy="826.7" r="11.1"/>
<circle cx="241.6" cy="753.1" r="11.1"/>
<circle cx="191.8" cy="795.9" r="11.1"/>
<circle cx="215.8" cy="735.1" r="11.1"/>
<circle cx="474.4" cy="514.7" r="11.1"/>
<circle cx="169.8" cy="788.8" r="11.1"/>
<circle cx="133.0" cy="851.8" r="11.1"/>
<circle cx="136.7" cy="845.9" r="11.1"/>
<circle cx="139.5" cy="815.0" r="11.1"/>
<circle cx="462.1" cy="431.9" r="11.1"/>
<circle cx="151.3" cy="818.7" r="11.1"/>
<circle cx="167.4" cy="826.2" r="11.1"/>
<circle cx="251.1" cy="704.5" r="11.1"/>
<circle cx="191.2" cy="791.0" r="11.1"/>
<circle cx="320.8" cy="622.5" r="11.1"/>
<circle cx="159.8" cy="777.2" r="11.1"/>
<circle cx="180.9" cy="801.1" r="11.1"/>
<circle cx="372.4" cy="601.3" r="11.1"/>
<circle cx="239.5" cy="731.7" r="11.1"/>
<circle cx="160.1" cy="848.2" r="11.1"/>
<circle cx="151.9" cy="845.5" r="11.1"/>
<circle cx="132.3" cy="847.5" r="11.1"/>
<circle cx="186.6" cy="747.1" r="11.1"/>
<circle cx="135.2" cy="847.8" r="11.1"/>
<circle cx="200.7" cy="761.1" r="11.1"/>
<circle cx="149.2" cy="799.0" r="11.1"/>
<circle cx="177.9" cy="763.4" r="11.1"/>
<circle cx="188.3" cy="793.1" r="11.1"/>
<circle cx="142.7" cy="849.6" r="11.1"/>
<circle cx="202.5" cy="760.7" r="11.1"/>
<circle cx="245.0" cy="735.6" r="11.1"/>
<circle cx="163.7" cy="800.6" r="11.1"/>
<circle cx="139.5" cy="852.3" r="11.1"/>
<circle cx="148.9" cy="831.8" r="11.1"/>
<circle cx="286.7" cy="686.0" r="11.1"/>
<circle cx="457.9" cy="483.4" r="11.1"/>
<circle cx="162.7" cy="828.5" r="11.1"/>
<circle cx="191.4" cy="819.6" r="11.1"/>
<circle cx="181.5" cy="790.7" r="11.1"/>
<circle cx="263.3" cy="685.8" r="11.1"/>
<circle cx="141.9" cy="838.7" r="11.1"/>
<circle cx="191.7" cy="788.8" r="11.1"/>
<circle cx="134.6" cy="845.9" r="11.1"/>
<circle cx="151.1" cy="839.6" r="11.1"/>
<circle cx="135.4" cy="848.6" r="11.1"/>
<circle cx="149.5" cy="796.0" r="11.1"/>
<circle cx="200.0" cy="726.8" r="11.1"/>
<circle cx="160.8" cy="827.6" r="11.1"/>
<circle cx="373.1" cy="569.1" r="11.1"/>
<circle cx="140.6" cy="831.5" r="11.1"/>
<circle cx="164.0" cy="848.5" r="11.1"/>
<circle cx="154.9" cy="842.7" r="11.1"/>
<circle cx="183.5" cy="793.1" r="11.1"/>
<circle cx="246.7" cy="705.1" r="11.1"/>
<circle cx="521.3" cy="371.3" r="11.1"/>
<circle cx="373.3" cy="558.1" r="11.1"/>
<circle cx="210.1" cy="716.7" r="11.1"/>
<circle cx="250.7" cy="732.2" r="11.1"/>
<circle cx="198.0" cy="759.8" r="11.1"/>
<circle cx="143.5" cy="842.8" r="11.1"/>
<circle cx="203.7" cy="774.2" r="11.1"/>
<circle cx="263.4" cy="744.3" r="11.1"/>
<circle cx="378.2" cy="603.1" r="11.1"/>
<circle cx="244.7" cy="711.8" r="11.1"/>
<circle cx="372.9" cy="585.9" r="11.1"/>
<circle cx="360.2" cy="626.8" r="11.1"/>
<circle cx="202.3" cy="790.1" r="11.1"/>
<circle cx="177.8" cy="765.1" r="11.1"/>
<circle cx="337.3" cy="643.8" r="11.1"/>
<circle cx="241.1" cy="742.4" r="11.1"/>
<circle cx="311.5" cy="654.8" r="11.1"/>
<circle cx="167.5" cy="812.0" r="11.1"/>
<circle cx="140.4" cy="830.0" r="11.1"/>
<circle cx="172.1" cy="798.6" r="11.1"/>
<circle cx="174.7" cy="791.8" r="11.1"/>
<circle cx="132.8" cy="831.0" r="11.1"/>
<circle cx="181.7" cy="795.2" r="11.1"/>
<circle cx="275.4" cy="720.0" r="11.1"/>
<circle cx="253.1" cy="739.0" r="11.1"/>
<circle cx="135.4" cy="851.4" r="11.1"/>
<circle cx="174.3" cy="780.9" r="11.1"/>
<circle cx="176.6" cy="835.9" r="11.1"/>
<circle cx="152.7" cy="817.0" r="11.1"/>
<circle cx="137.7" cy="830.1" r="11.1"/>
<circle cx="155.6" cy="839.1" r="11.1"/>
<circle cx="165.6" cy="800.8" r="11.1"/>
<circle cx="243.0" cy="712.1" r="11.1"/>
<circle cx="146.3" cy="830.9" r="11.1"/>
<circle cx="559.1" cy="419.1" r="11.1"/>
<circle cx="153.8" cy="821.7" r="11.1"/>
<circle cx="148.9" cy="802.4" r="11.1"/>
<circle cx="132.2" cy="849.7" r="11.1"/>
<circle cx="136.1" cy="848.8" r="11.1"/>
<circle cx="394.9" cy="579.4" r="11.1"/>
<circle cx="208.5" cy="790.0" r="11.1"/>
<circle cx="172.3" cy="776.6" r="11.1"/>
<circle cx="370.4" cy="597.7" r="11.1"/>
<circle cx="292.8" cy="709.5" r="11.1"/>
</g>
<g stroke="#A5A5A5">
<circle cx="290.0" cy="739.5" r="11.1"/>
<circle cx="575.1" cy="463.7" r="11.1"/>
<circle cx="160.8" cy="805.8" r="11.1"/>
<circle cx="149.3" cy="848.3" r="11.1"/>
<circle cx="304.5" cy="679.8" r="11.1"/>
<circle cx="177.1" cy="785.8" r="11.1"/>
<circle cx="241.1" cy="741.4" r="11.1"/>
<circle cx="136.7" cy="840.2" r="11.1"/>
<circle cx="239.6" cy="748.6" r="11.1"/>
<circle cx="184.4" cy="758.0" r="11.1"/>
<circle cx="230.9" cy="768.8" r="11.1"/>
<circle cx="253.1" cy="735.4" r="11.1"/>
<circle cx="191.9" cy="784.8" r="11.1"/>
<circle cx="290.4" cy="680.0" r="11.1"/>
<circle cx="199.7" cy="781.5" r="11.1"/>
<circle cx="171.7" cy="778.4" r="11.1"/>
<circle cx="141.0" cy="852.4" r="11.1"/>
<circle cx="176.3" cy="820.3" r="11.1"/>
<circle cx="150.7" cy="851.9" r="11.1"/>
<circle cx="140.9" cy="848.8" r="11.1"/>
<circle cx="165.6" cy="799.8" r="11.1"/>
<circle cx="183.0" cy="772.4" r="11.1"/>
<circle cx="177.9" cy="776.1" r="11.1"/>
<circle cx="190.1" cy="829.1" r="11.1"/>
<circle cx="182.8" cy="746.8" r="11.1"/>
<circle cx="351.5" cy="637.8" r="11.1"/>
<circle cx="194.1" cy="746.8" r="11.1"/>
<circle cx="372.2" cy="580.9" r="11.1"/>
<circle cx="132.3" cy="838.6" r="11.1"/>
<circle cx="137.8" cy="826.0" r="11.1"/>
<circle cx="144.4" cy="840.7" r="11.1"/>
<circle cx="287.2" cy="709.1" r="11.1"/>
<circle cx="391.3" cy="570.6" r="11.1"/>
<circle cx="349.4" cy="590.7" r="11.1"/>
<circle cx="312.8" cy="686.7" r="11.1"/>
<circle cx="172.1" cy="809.8" r="11.1"/>
<circle cx="194.7" cy="773.8" r="11.1"/>
<circle cx="148.2" cy="824.8" r="11.1"/>
<circle cx="345.6" cy="650.8" r="11.1"/>
<circle cx="139.5" cy="852.3" r="11.1"/>
<circle cx="132.8" cy="838.1" r="11.1"/>
<circle cx="219.7" cy="786.7" r="11.1"/>
<circle cx="134.1" cy="835.5" r="11.1"/>
<circle cx="140.0" cy="850.8" r="11.1"/>
<circle cx="176.6" cy="817.4" r="11.1"/>
<circle cx="253.3" cy="745.1" r="11.1"/>
<circle cx="148.2" cy="841.8" r="11.1"/>
<circle cx="142.5" cy="852.1" r="11.1"/>
<circle cx="323.5" cy="642.7" r="11.1"/>
<circle cx="165.3" cy="820.3" r="11.1"/>
<circle cx="307.7" cy="675.2" r="11.1"/>
<circle cx="178.5" cy="782.8" r="11.1"/>
<circle cx="180.6" cy="790.2" r="11.1"/>
<circle cx="138.7" cy="851.3" r="11.1"/>
<circle cx="170.8" cy="820.5" r="11.1"/>
<circle cx="167.5" cy="810.1" r="11.1"/>
<circle cx="145.6" cy="852.0" r="11.1"/>
<circle cx="131.9" cy="853.3" r="11.1"/>
<circle cx="368.4" cy="565.8" r="11.1"/>
<circle cx="162.6" cy="817.8" r="11.1"/>
<circle cx="203.7" cy="799.4" r="11.1"/>
<circle cx="348.8" cy="620.9" r="11.1"/>
<circle cx="563.5" cy="365.5" r="11.1"/>
<circle cx="156.5" cy="850.6" r="11.1"/>
<circle cx="180.9" cy="807.2" r="11.1"/>
<circle cx="146.4" cy="838.8" r="11.1"/>
<circle cx="134.8" cy="850.7" r="11.1"/>
<circle cx="185.1" cy="780.9" r="11.1"/>
<circle cx="142.7" cy="846.8" r="11.1"/>
<circle cx="359.2" cy="592.7" r="11.1"/>
<circle cx="317.2" cy="655.3" r="11.1"/>
<circle cx="147.9" cy="828.6" r="11.1"/>
<circle cx="173.3" cy="811.5" r="11.1"/>
<circle cx="353.8" cy="633.4" r="11.1"/>
<circle cx="148.9" cy="836.2" r="11.1"/>
<circle cx="145.8" cy="813.0" r="11.1"/>
<circle cx="234.3" cy="738.7" r="11.1"/>
<circle cx="191.4" cy="824.5" r="11.1"/>
<circle cx="163.8" cy="843.1" r="11.1"/>
<circle cx="279.0" cy="703.6" r="11.1"/>
<circle cx="198.5" cy="752.6" r="11.1"/>
<circle cx="247.1" cy="744.8" r="11.1"/>
<circle cx="133.0" cy="849.0" r="11.1"/>
<circle cx="302.8" cy="718.5" r="11.1"/>
<circle cx="161.3" cy="817.8" r="11.1"/>
<circle cx="162.4" cy="797.5" r="11.1"/>
<circle cx="150.3" cy="818.3" r="11.1"/>
<circle cx="141.4" cy="848.1" r="11.1"/>
<circle cx="258.2" cy="773.2" r="11.1"/>
<circle cx="288.7" cy="679.4" r="11.1"/>
<circle cx="138.8" cy="852.6" r="11.1"/>
<circle cx="131.6" cy="834.2" r="11.1"/>
<circle cx="349.0" cy="617.0" r="11.1"/>
<circle cx="132.8" cy="849.7" r="11.1"/>
<circle cx="187.6" cy="811.9" r="11.1"/>
<circle cx="160.7" cy="831.0" r="11.1"/>
<circle cx="228.5" cy="709.1" r="11.1"/>
<circle cx="244.5" cy="722.4" r="11.1"/>
<circle cx="149.3" cy="816.7" r="11.1"/>
<circle cx="149.4" cy="805.2" r="11.1"/>
<circle cx="153.4" cy="835.2" r="11.1"/>
<circle cx="154.7" cy="836.9" r="11.1"/>
<circle cx="488.1" cy="608.1" r="11.1"/>
<circle cx="155.0" cy="784.5" r="11.1"/>
<circle cx="137.7" cy="821.8" r="11.1"/>
<circle cx="159.7" cy="821.5" r="11.1"/>
<circle cx="248.8" cy="724.3" r="11.1"/>
<circle cx="146.5" cy="851.5" r="11.1"/>
<circle cx="155.4" cy="848.1" r="11.1"/>
<circle cx="358.4" cy="585.2" r="11.1"/>
<circle cx="216.7" cy="763.4" r="11.1"/>
<circle cx="173.5" cy="796.9" r="11.1"/>
<circle cx="503.1" cy="398.2" r="11.1"/>
<circle cx="288.1" cy="696.0" r="11.1"/>
<circle cx="254.0" cy="719.6" r="11.1"/>
<circle cx="144.8" cy="840.6" r="11.1"/>
<circle cx="199.2" cy="744.8" r="11.1"/>
<circle cx="220.7" cy="725.7" r="11.1"/>
<circle cx="148.9" cy="807.8" r="11.1"/>
<circle cx="367.2" cy="604.0" r="11.1"/>
<circle cx="218.4" cy="752.2" r="11.1"/>
<circle cx="196.4" cy="798.4" r="11.1"/>
<circle cx="141.4" cy="833.0" r="11.1"/>
<circle cx="257.2" cy="757.3" r="11.1"/>
<circle cx="200.7" cy="757.9" r="11.1"/>
<circle cx="149.5" cy="833.0" r="11.1"/>
<circle cx="185.5" cy="804.3" r="11.1"/>
<circle cx="173.4" cy="783.9" r="11.1"/>
<circle cx="309.4" cy="652.8" r="11.1"/>
<circle cx="215.8" cy="746.3" r="11.1"/>
<circle cx="295.2" cy="680.5" r="11.1"/>
<circle cx="275.4" cy="709.0" r="11.1"/>
<circle cx="133.0" cy="851.1" r="11.1"/>
<circle cx="554.7" cy="430.9" r="11.1"/>
<circle cx="187.6" cy="793.7" r="11.1"/>
<circle cx="298.9" cy="684.8" r="11.1"/>
<circle cx="264.4" cy="687.3" r="11.1"/>
<circle cx="183.8" cy="745.6" r="11.1"/>
<circle cx="145.9" cy="827.0" r="11.1"/>
<circle cx="212.5" cy="740.8" r="11.1"/>
<circle cx="151.8" cy="829.8" r="11.1"/>
<circle cx="328.6" cy="655.0" r="11.1"/>
<circle cx="167.4" cy="811.1" r="11.1"/>
<circle cx="306.7" cy="698.9" r="11.1"/>
<circle cx="242.5" cy="753.7" r="11.1"/>
<circle cx="191.9" cy="812.4" r="11.1"/>
<circle cx="186.4" cy="835.2" r="11.1"/>
<circle cx="133.3" cy="844.7" r="11.1"/>
<circle cx="230.7" cy="739.9" r="11.1"/>
<circle cx="168.3" cy="831.3" r="11.1"/>
<circle cx="519.2" cy="412.8" r="11.1"/>
<circle cx="190.5" cy="777.4" r="11.1"/>
<circle cx="154.7" cy="835.0" r="11.1"/>
<circle cx="137.0" cy="846.3" r="11.1"/>
<circle cx="181.6" cy="793.5" r="11.1"/>
<circle cx="136.5" cy="821.2" r="11.1"/>
<circle cx="188.1" cy="821.3" r="11.1"/>
<circle cx="349.7" cy="596.0" r="11.1"/>
<circle cx="207.8" cy="756.0" r="11.1"/>
<circle cx="313.0" cy="654.9" r="11.1"/>
<circle cx="182.8" cy="781.0" r="11.1"/>
<circle cx="151.7" cy="839.1" r="11.1"/>
<circle cx="203.7" cy="792.3" r="11.1"/>
<circle cx="139.5" cy="816.9" r="11.1"/>
<circle cx="155.7" cy="808.4" r="11.1"/>
<circle cx="217.0" cy="761.0" r="11.1"/>
<circle cx="134.2" cy="851.2" r="11.1"/>
<circle cx="286.7" cy="672.7" r="11.1"/>
<circle cx="260.7" cy="705.7" r="11.1"/>
<circle cx="373.0" cy="566.4" r="11.1"/>
<circle cx="146.3" cy="811.8" r="11.1"/>
<circle cx="161.9" cy="836.0" r="11.1"/>
<circle cx="235.7" cy="754.3" r="11.1"/>
<circle cx="147.2" cy="849.3" r="11.1"/>
<circle cx="345.8" cy="598.6" r="11.1"/>
<circle cx="200.2" cy="763.6" r="11.1"/>
<circle cx="143.6" cy="829.4" r="11.1"/>
<circle cx="226.3" cy="770.4" r="11.1"/>
<circle cx="210.6" cy="733.6" r="11.1"/>
<circle cx="189.1" cy="821.2" r="11.1"/>
<circle cx="185.6" cy="821.2" r="11.1"/>
<circle cx="141.3" cy="850.9" r="11.1"/>
<circle cx="181.7" cy="782.4" r="11.1"/>
<circle cx="193.1" cy="768.1" r="11.1"/>
<circle cx="303.5" cy="647.8" r="11.1"/>
<circle cx="183.8" cy="818.1" r="11.1"/>
<circle cx="202.2" cy="780.4" r="11.1"/>
<circle cx="335.2" cy="627.2" r="11.1"/>
<circle cx="251.3" cy="625.5" r="11.1"/>
<circle cx="136.5" cy="848.6" r="11.1"/>
<circle cx="213.4" cy="726.0" r="11.1"/>
<circle cx="368.0" cy="611.2" r="11.1"/>
<circle cx="132.3" cy="847.5" r="11.1"/>
<circle cx="202.8" cy="796.5" r="11.1"/>
<circle cx="372.2" cy="569.8" r="11.1"/>
<circle cx="282.3" cy="718.4" r="11.1"/>
<circle cx="173.4" cy="810.3" r="11.1"/>
<circle cx="182.8" cy="787.9" r="11.1"/>
<circle cx="358.0" cy="592.3" r="11.1"/>
<circle cx="251.5" cy="697.5" r="11.1"/>
<circle cx="152.7" cy="844.6" r="11.1"/>
<circle cx="141.4" cy="848.6" r="11.1"/>
<circle cx="355.1" cy="585.5" r="11.1"/>
<circle cx="366.4" cy="645.4" r="11.1"/>
<circle cx="262.9" cy="697.7" r="11.1"/>
<circle cx="343.6" cy="618.7" r="11.1"/>
<circle cx="143.0" cy="827.3" r="11.1"/>
<circle cx="559.1" cy="414.1" r="11.1"/>
<circle cx="140.4" cy="838.4" r="11.1"/>
<circle cx="191.0" cy="749.9" r="11.1"/>
<circle cx="135.6" cy="833.0" r="11.1"/>
<circle cx="153.8" cy="830.5" r="11.1"/>
<circle cx="299.5" cy="637.4" r="11.1"/>
<circle cx="131.5" cy="850.4" r="11.1"/>
<circle cx="145.2" cy="847.0" r="11.1"/>
<circle cx="132.8" cy="852.0" r="11.1"/>
<circle cx="266.0" cy="731.8" r="11.1"/>
<circle cx="140.3" cy="850.2" r="11.1"/>
<circle cx="201.0" cy="764.8" r="11.1"/>
<circle cx="287.7" cy="694.1" r="11.1"/>
<circle cx="373.3" cy="567.0" r="11.1"/>
<circle cx="337.7" cy="620.0" r="11.1"/>
<circle cx="426.6" cy="558.3" r="11.1"/>
<circle cx="298.3" cy="663.0" r="11.1"/>
<circle cx="161.9" cy="806.7" r="11.1"/>
<circle cx="683.5" cy="237.5" r="11.1"/>
<circle cx="141.3" cy="823.7" r="11.1"/>
<circle cx="147.8" cy="826.5" r="11.1"/>
<circle cx="224.1" cy="744.7" r="11.1"/>
<circle cx="134.2" cy="848.7" r="11.1"/>
<circle cx="182.4" cy="794.0" r="11.1"/>
<circle cx="369.7" cy="626.3" r="11.1"/>
<circle cx="138.4" cy="826.2" r="11.1"/>
<circle cx="169.9" cy="774.0" r="11.1"/>
<circle cx="147.4" cy="847.0" r="11.1"/>
<circle cx="144.6" cy="832.0" r="11.1"/>
<circle cx="160.5" cy="850.9" r="11.1"/>
<circle cx="348.4" cy="621.6" r="11.1"/>
<circle cx="142.1" cy="839.1" r="11.1"/>
<circle cx="233.3" cy="746.8" r="11.1"/>
<circle cx="146.3" cy="838.3" r="11.1"/>
<circle cx="158.0" cy="817.2" r="11.1"/>
<circle cx="363.7" cy="620.1" r="11.1"/>
<circle cx="202.3" cy="774.2" r="11.1"/>
<circle cx="207.9" cy="780.9" r="11.1"/>
<circle cx="193.5" cy="802.7" r="11.1"/>
<circle cx="141.3" cy="848.5" r="11.1"/>
<circle cx="167.7" cy="804.0" r="11.1"/>
<circle cx="490.7" cy="461.8" r="11.1"/>
<circle cx="212.2" cy="728.2" r="11.1"/>
<circle cx="153.4" cy="822.3" r="11.1"/>
<circle cx="378.2" cy="621.9" r="11.1"/>
<circle cx="264.7" cy="719.8" r="11.1"/>
<circle cx="191.0" cy="839.0" r="11.1"/>
<circle cx="173.5" cy="815.4" r="11.1"/>
<circle cx="288.8" cy="691.8" r="11.1"/>
<circle cx="174.7" cy="790.7" r="11.1"/>
<circle cx="433.6" cy="547.6" r="11.1"/>
<circle cx="195.8" cy="759.5" r="11.1"/>
<circle cx="180.8" cy="790.2" r="11.1"/>
<circle cx="250.7" cy="747.3" r="11.1"/>
<circle cx="342.0" cy="635.3" r="11.1"/>
<circle cx="142.7" cy="842.5" r="11.1"/>
<circle cx="233.8" cy="722.5" r="11.1"/>
<circle cx="333.5" cy="643.9" r="11.1"/>
<circle cx="199.0" cy="757.0" r="11.1"/>
<circle cx="298.5" cy="667.4" r="11.1"/>
<circle cx="499.9" cy="435.9" r="11.1"/>
<circle cx="136.9" cy="853.3" r="11.1"/>
<circle cx="139.7" cy="849.7" r="11.1"/>
<circle cx="149.2" cy="845.7" r="11.1"/>
<circle cx="132.3" cy="846.5" r="11.1"/>
<circle cx="134.7" cy="839.1" r="11.1"/>
<circle cx="360.9" cy="558.3" r="11.1"/>
<circle cx="214.6" cy="767.7" r="11.1"/>
<circle cx="223.7" cy="783.2" r="11.1"/>
<circle cx="522.8" cy="387.2" r="11.1"/>
<circle cx="188.9" cy="778.1" r="11.1"/>
<circle cx="208.7" cy="778.1" r="11.1"/>
<circle cx="203.7" cy="761.7" r="11.1"/>
<circle cx="132.2" cy="848.4" r="11.1"/>
<circle cx="179.8" cy="757.5" r="11.1"/>
<circle cx="141.7" cy="842.6" r="11.1"/>
<circle cx="142.9" cy="833.0" r="11.1"/>
<circle cx="258.7" cy="709.7" r="11.1"/>
<circle cx="162.7" cy="847.9" r="11.1"/>
<circle cx="153.5" cy="817.8" r="11.1"/>
<circle cx="159.8" cy="777.2" r="11.1"/>
<circle cx="360.2" cy="620.7" r="11.1"/>
<circle cx="141.1" cy="836.3" r="11.1"/>
<circle cx="271.4" cy="721.3" r="11.1"/>
<circle cx="262.0" cy="681.6" r="11.1"/>
<circle cx="208.5" cy="778.7" r="11.1"/>
<circle cx="148.2" cy="830.2" r="11.1"/>
<circle cx="323.9" cy="661.1" r="11.1"/>
<circle cx="244.4" cy="746.6" r="11.1"/>
<circle cx="164.9" cy="803.0" r="11.1"/>
<circle cx="200.5" cy="763.6" r="11.1"/>
<circle cx="145.4" cy="836.7" r="11.1"/>
<circle cx="136.2" cy="837.2" r="11.1"/>
<circle cx="393.4" cy="571.5" r="11.1"/>
<circle cx="183.5" cy="780.7" r="11.1"/>
<circle cx="171.8" cy="850.8" r="11.1"/>
<circle cx="326.6" cy="660.8" r="11.1"/>
<circle cx="301.9" cy="664.7" r="11.1"/>
<circle cx="359.7" cy="565.2" r="11.1"/>
<circle cx="346.4" cy="642.6" r="11.1"/>
<circle cx="138.1" cy="843.8" r="11.1"/>
<circle cx="198.5" cy="776.4" r="11.1"/>
<circle cx="208.8" cy="741.2" r="11.1"/>
<circle cx="229.2" cy="707.5" r="11.1"/>
<circle cx="251.8" cy="753.5" r="11.1"/>
<circle cx="187.9" cy="795.8" r="11.1"/>
<circle cx="142.2" cy="840.8" r="11.1"/>
<circle cx="288.3" cy="672.8" r="11.1"/>
<circle cx="136.5" cy="848.5" r="11.1"/>
<circle cx="227.1" cy="763.8" r="11.1"/>
<circle cx="274.5" cy="755.9" r="11.1"/>
<circle cx="220.2" cy="773.9" r="11.1"/>
<circle cx="295.8" cy="664.0" r="11.1"/>
<circle cx="155.6" cy="833.8" r="11.1"/>
<circle cx="132.2" cy="852.2" r="11.1"/>
<circle cx="160.4" cy="802.0" r="11.1"/>
<circle cx="350.5" cy="607.6" r="11.1"/>
<circle cx="257.1" cy="711.0" r="11.1"/>
<circle cx="241.6" cy="755.6" r="11.1"/>
<circle cx="159.3" cy="834.1" r="11.1"/>
<circle cx="162.2" cy="811.6" r="11.1"/>
<circle cx="140.5" cy="849.2" r="11.1"/>
<circle cx="156.0" cy="831.2" r="11.1"/>
<circle cx="276.3" cy="684.5" r="11.1"/>
<circle cx="298.1" cy="701.7" r="11.1"/>
<circle cx="148.2" cy="847.5" r="11.1"/>
<circle cx="225.5" cy="740.9" r="11.1"/>
<circle cx="150.7" cy="835.8" r="11.1"/>
<circle cx="191.7" cy="780.6" r="11.1"/>
<circle cx="150.0" cy="810.3" r="11.1"/>
<circle cx="323.3" cy="659.9" r="11.1"/>
<circle cx="131.5" cy="851.6" r="11.1"/>
<circle cx="687.7" cy="303.4" r="11.1"/>
<circle cx="324.0" cy="668.4" r="11.1"/>
<circle cx="315.0" cy="680.8" r="11.1"/>
<circle cx="165.9" cy="788.0" r="11.1"/>
<circle cx="136.2" cy="848.1" r="11.1"/>
<circle cx="234.4" cy="764.2" r="11.1"/>
<circle cx="618.4" cy="411.7" r="11.1"/>
<circle cx="136.3" cy="851.6" r="11.1"/>
<circle cx="132.7" cy="853.2" r="11.1"/>
<circle cx="167.3" cy="848.7" r="11.1"/>
<circle cx="186.0" cy="758.0" r="11.1"/>
<circle cx="229.9" cy="762.8" r="11.1"/>
<circle cx="159.2" cy="835.1" r="11.1"/>
<circle cx="366.3" cy="580.5" r="11.1"/>
<circle cx="136.1" cy="849.9" r="11.1"/>
<circle cx="370.4" cy="605.4" r="11.1"/>
<circle cx="132.3" cy="850.0" r="11.1"/>
<circle cx="152.7" cy="820.3" r="11.1"/>
<circle cx="141.4" cy="849.7" r="11.1"/>
<circle cx="156.0" cy="849.1" r="11.1"/>
<circle cx="299.2" cy="692.8" r="11.1"/>
<circle cx="151.0" cy="832.2" r="11.1"/>
<circle cx="246.1" cy="762.8" r="11.1"/>
<circle cx="342.4" cy="617.6" r="11.1"/>
<circle cx="151.9" cy="835.8" r="11.1"/>
<circle cx="203.3" cy="791.8" r="11.1"/>
<circle cx="179.4" cy="805.2" r="11.1"/>
<circle cx="370.1" cy="614.5" r="11.1"/>
<circle cx="160.4" cy="821.1" r="11.1"/>
<circle cx="138.8" cy="834.5" r="11.1"/>
<circle cx="139.2" cy="833.5" r="11.1"/>
<circle cx="342.8" cy="622.9" r="11.1"/>
<circle cx="467.6" cy="540.1" r="11.1"/>
<circle cx="191.2" cy="787.2" r="11.1"/>
<circle cx="196.6" cy="778.6" r="11.1"/>
<circle cx="197.5" cy="778.9" r="11.1"/>
<circle cx="219.5" cy="746.4" r="11.1"/>
<circle cx="149.3" cy="840.9" r="11.1"/>
<circle cx="229.5" cy="749.0" r="11.1"/>
<circle cx="134.2" cy="848.9" r="11.1"/>
<circle cx="224.0" cy="718.7" r="11.1"/>
<circle cx="204.0" cy="770.7" r="11.1"/>
<circle cx="164.4" cy="830.2" r="11.1"/>
<circle cx="239.5" cy="732.9" r="11.1"/>
<circle cx="131.1" cy="847.8" r="11.1"/>
<circle cx="349.6" cy="623.8" r="11.1"/>
<circle cx="322.4" cy="653.3" r="11.1"/>
<circle cx="192.9" cy="840.0" r="11.1"/>
<circle cx="201.4" cy="739.4" r="11.1"/>
<circle cx="357.5" cy="606.2" r="11.1"/>
<circle cx="260.6" cy="669.7" r="11.1"/>
<circle cx="263.4" cy="718.7" r="11.1"/>
<circle cx="166.8" cy="805.5" r="11.1"/>
<circle cx="132.1" cy="851.5" r="11.1"/>
<circle cx="133.0" cy="849.2" r="11.1"/>
<circle cx="138.7" cy="849.2" r="11.1"/>
<circle cx="327.0" cy="651.3" r="11.1"/>
<circle cx="189.6" cy="760.2" r="11.1"/>
<circle cx="140.6" cy="851.8" r="11.1"/>
<circle cx="152.7" cy="818.6" r="11.1"/>
<circle cx="200.0" cy="726.8" r="11.1"/>
<circle cx="179.7" cy="817.4" r="11.1"/>
<circle cx="409.4" cy="668.3" r="11.1"/>
<circle cx="197.7" cy="812.1" r="11.1"/>
<circle cx="140.6" cy="838.5" r="11.1"/>
<circle cx="149.5" cy="851.0" r="11.1"/>
<circle cx="201.2" cy="755.5" r="11.1"/>
<circle cx="701.9" cy="221.3" r="11.1"/>
<circle cx="325.2" cy="658.7" r="11.1"/>
<circle cx="134.0" cy="844.7" r="11.1"/>
<circle cx="145.8" cy="822.9" r="11.1"/>
<circle cx="321.8" cy="670.0" r="11.1"/>
<circle cx="220.4" cy="773.9" r="11.1"/>
<circle cx="361.6" cy="666.7" r="11.1"/>
<circle cx="168.2" cy="799.1" r="11.1"/>
<circle cx="138.1" cy="845.1" r="11.1"/>
<circle cx="346.6" cy="666.5" r="11.1"/>
<circle cx="303.4" cy="693.0" r="11.1"/>
<circle cx="394.9" cy="579.2" r="11.1"/>
<circle cx="356.3" cy="621.5" r="11.1"/>
<circle cx="338.1" cy="633.4" r="11.1"/>
<circle cx="181.5" cy="789.8" r="11.1"/>
<circle cx="200.3" cy="792.3" r="11.1"/>
<circle cx="135.5" cy="842.5" r="11.1"/>
<circle cx="179.5" cy="777.0" r="11.1"/>
<circle cx="328.5" cy="588.7" r="11.1"/>
<circle cx="144.2" cy="852.3" r="11.1"/>
<circle cx="320.8" cy="622.7" r="11.1"/>
<circle cx="135.7" cy="850.3" r="11.1"/>
<circle cx="164.8" cy="809.2" r="11.1"/>
<circle cx="216.4" cy="767.5" r="11.1"/>
<circle cx="290.7" cy="686.7" r="11.1"/>
<circle cx="149.3" cy="841.5" r="11.1"/>
<circle cx="335.2" cy="638.2" r="11.1"/>
<circle cx="240.0" cy="728.9" r="11.1"/>
<circle cx="178.4" cy="838.6" r="11.1"/>
<circle cx="216.3" cy="788.8" r="11.1"/>
<circle cx="227.2" cy="805.4" r="11.1"/>
<circle cx="245.4" cy="692.0" r="11.1"/>
<circle cx="140.9" cy="827.2" r="11.1"/>
<circle cx="211.6" cy="783.3" r="11.1"/>
<circle cx="159.7" cy="849.9" r="11.1"/>
<circle cx="517.1" cy="487.8" r="11.1"/>
<circle cx="244.7" cy="684.0" r="11.1"/>
<circle cx="165.3" cy="850.8" r="11.1"/>
<circle cx="288.3" cy="684.2" r="11.1"/>
<circle cx="455.9" cy="501.5" r="11.1"/>
<circle cx="144.6" cy="845.0" r="11.1"/>
<circle cx="171.1" cy="821.8" r="11.1"/>
<circle cx="179.8" cy="838.9" r="11.1"/>
<circle cx="326.5" cy="641.1" r="11.1"/>
<circle cx="135.3" cy="848.5" r="11.1"/>
<circle cx="135.4" cy="848.7" r="11.1"/>
<circle cx="340.0" cy="652.1" r="11.1"/>
<circle cx="365.3" cy="609.3" r="11.1"/>
<circle cx="152.6" cy="851.2" r="11.1"/>
<circle cx="141.4" cy="833.4" r="11.1"/>
<circle cx="226.6" cy="737.1" r="11.1"/>
<circle cx="343.9" cy="632.5" r="11.1"/>
<circle cx="311.5" cy="661.9" r="11.1"/>
<circle cx="191.4" cy="784.5" r="11.1"/>
<circle cx="134.6" cy="850.2" r="11.1"/>
<circle cx="368.8" cy="614.4" r="11.1"/>
<circle cx="143.9" cy="848.4" r="11.1"/>
<circle cx="142.2" cy="821.9" r="11.1"/>
<circle cx="731.0" cy="290.4" r="11.1"/>
<circle cx="161.1" cy="853.4" r="11.1"/>
<circle cx="146.2" cy="830.1" r="11.1"/>
<circle cx="151.9" cy="834.4" r="11.1"/>
<circle cx="255.9" cy="692.0" r="11.1"/>
<circle cx="143.0" cy="848.6" r="11.1"/>
<circle cx="178.0" cy="794.1" r="11.1"/>
<circle cx="145.6" cy="852.2" r="11.1"/>
<circle cx="140.6" cy="849.6" r="11.1"/>
<circle cx="151.6" cy="801.8" r="11.1"/>
<circle cx="369.5" cy="588.9" r="11.1"/>
<circle cx="359.3" cy="603.5" r="11.1"/>
<circle cx="254.3" cy="742.1" r="11.1"/>
<circle cx="320.2" cy="663.1" r="11.1"/>
<circle cx="211.0" cy="799.5" r="11.1"/>
<circle cx="239.0" cy="722.2" r="11.1"/>
<circle cx="474.4" cy="549.8" r="11.1"/>
<circle cx="361.5" cy="612.7" r="11.1"/>
<circle cx="132.0" cy="849.2" r="11.1"/>
<circle cx="193.0" cy="745.6" r="11.1"/>
<circle cx="209.2" cy="769.1" r="11.1"/>
<circle cx="225.0" cy="754.8" r="11.1"/>
<circle cx="177.8" cy="757.8" r="11.1"/>
<circle cx="477.1" cy="473.4" r="11.1"/>
<circle cx="329.9" cy="607.0" r="11.1"/>
<circle cx="508.5" cy="468.6" r="11.1"/>
<circle cx="302.1" cy="658.9" r="11.1"/>
<circle cx="315.2" cy="652.7" r="11.1"/>
<circle cx="156.6" cy="823.6" r="11.1"/>
<circle cx="154.0" cy="833.5" r="11.1"/>
<circle cx="141.9" cy="847.6" r="11.1"/>
<circle cx="349.4" cy="618.7" r="11.1"/>
<circle cx="347.8" cy="618.2" r="11.1"/>
<circle cx="150.2" cy="840.9" r="11.1"/>
<circle cx="263.7" cy="714.2" r="11.1"/>
<circle cx="149.8" cy="839.3" r="11.1"/>
<circle cx="174.2" cy="818.5" r="11.1"/>
<circle cx="172.9" cy="820.0" r="11.1"/>
<circle cx="252.1" cy="735.3" r="11.1"/>
<circle cx="248.7" cy="727.2" r="11.1"/>
<circle cx="136.1" cy="848.2" r="11.1"/>
<circle cx="141.6" cy="851.5" r="11.1"/>
<circle cx="229.7" cy="742.6" r="11.1"/>
<circle cx="136.6" cy="847.9" r="11.1"/>
<circle cx="428.7" cy="514.9" r="11.1"/>
<circle cx="320.7" cy="634.2" r="11.1"/>
<circle cx="276.3" cy="715.6" r="11.1"/>
<circle cx="245.4" cy="736.0" r="11.1"/>
<circle cx="243.4" cy="745.1" r="11.1"/>
<circle cx="149.0" cy="849.5" r="11.1"/>
<circle cx="159.0" cy="819.2" r="11.1"/>
<circle cx="176.5" cy="799.6" r="11.1"/>
<circle cx="330.9" cy="661.9" r="11.1"/>
<circle cx="173.6" cy="829.4" r="11.1"/>
<circle cx="152.9" cy="835.0" r="11.1"/>
<circle cx="262.0" cy="682.6" r="11.1"/>
<circle cx="349.8" cy="640.5" r="11.1"/>
<circle cx="302.0" cy="673.0" r="11.1"/>
<circle cx="248.3" cy="715.7" r="11.1"/>
<circle cx="177.7" cy="786.9" r="11.1"/>
<circle cx="138.6" cy="850.9" r="11.1"/>
<circle cx="173.3" cy="830.7" r="11.1"/>
<circle cx="209.7" cy="743.5" r="11.1"/>
<circle cx="555.1" cy="453.3" r="11.1"/>
<circle cx="140.8" cy="848.1" r="11.1"/>
<circle cx="135.7" cy="848.6" r="11.1"/>
<circle cx="151.5" cy="820.7" r="11.1"/>
<circle cx="207.0" cy="790.3" r="11.1"/>
<circle cx="170.8" cy="812.5" r="11.1"/>
<circle cx="552.6" cy="404.2" r="11.1"/>
<circle cx="211.3" cy="765.3" r="11.1"/>
<circle cx="208.0" cy="823.8" r="11.1"/>
<circle cx="337.3" cy="658.6" r="11.1"/>
<circle cx="160.8" cy="834.0" r="11.1"/>
<circle cx="268.4" cy="720.8" r="11.1"/>
<circle cx="210.7" cy="774.0" r="11.1"/>
<circle cx="131.5" cy="850.4" r="11.1"/>
<circle cx="306.8" cy="662.4" r="11.1"/>
<circle cx="179.2" cy="791.1" r="11.1"/>
<circle cx="185.4" cy="788.3" r="11.1"/>
<circle cx="168.3" cy="835.4" r="11.1"/>
<circle cx="151.0" cy="843.1" r="11.1"/>
<circle cx="151.7" cy="834.5" r="11.1"/>
<circle cx="350.1" cy="658.0" r="11.1"/>
<circle cx="207.2" cy="779.1" r="11.1"/>
<circle cx="139.0" cy="848.9" r="11.1"/>
<circle cx="235.4" cy="736.8" r="11.1"/>
<circle cx="153.6" cy="803.8" r="11.1"/>
<circle cx="368.2" cy="597.3" r="11.1"/>
<circle cx="158.6" cy="815.4" r="11.1"/>
<circle cx="149.2" cy="796.0" r="11.1"/>
<circle cx="140.5" cy="838.4" r="11.1"/>
<circle cx="307.3" cy="666.9" r="11.1"/>
<circle cx="151.8" cy="825.7" r="11.1"/>
<circle cx="137.9" cy="852.6" r="11.1"/>
<circle cx="345.0" cy="626.4" r="11.1"/>
<circle cx="189.4" cy="829.5" r="11.1"/>
<circle cx="175.1" cy="788.0" r="11.1"/>
<circle cx="181.2" cy="765.6" r="11.1"/>
<circle cx="341.8" cy="641.5" r="11.1"/>
<circle cx="219.3" cy="724.9" r="11.1"/>
<circle cx="164.8" cy="836.6" r="11.1"/>
<circle cx="147.5" cy="844.6" r="11.1"/>
<circle cx="445.2" cy="576.6" r="11.1"/>
<circle cx="323.4" cy="646.2" r="11.1"/>
<circle cx="201.8" cy="813.9" r="11.1"/>
<circle cx="165.2" cy="828.2" r="11.1"/>
<circle cx="265.2" cy="717.2" r="11.1"/>
<circle cx="201.9" cy="777.5" r="11.1"/>
<circle cx="243.8" cy="743.8" r="11.1"/>
<circle cx="159.9" cy="798.2" r="11.1"/>
<circle cx="133.3" cy="831.9" r="11.1"/>
<circle cx="204.3" cy="782.6" r="11.1"/>
<circle cx="336.4" cy="678.6" r="11.1"/>
<circle cx="523.4" cy="403.4" r="11.1"/>
<circle cx="199.3" cy="768.1" r="11.1"/>
<circle cx="178.7" cy="798.4" r="11.1"/>
<circle cx="256.5" cy="756.1" r="11.1"/>
<circle cx="189.7" cy="810.5" r="11.1"/>
<circle cx="149.6" cy="819.7" r="11.1"/>
<circle cx="194.2" cy="761.8" r="11.1"/>
<circle cx="230.7" cy="733.2" r="11.1"/>
<circle cx="263.1" cy="683.1" r="11.1"/>
<circle cx="163.7" cy="795.0" r="11.1"/>
<circle cx="193.8" cy="774.6" r="11.1"/>
<circle cx="154.0" cy="838.2" r="11.1"/>
<circle cx="258.0" cy="716.6" r="11.1"/>
<circle cx="183.3" cy="750.1" r="11.1"/>
<circle cx="169.3" cy="821.0" r="11.1"/>
<circle cx="143.1" cy="845.9" r="11.1"/>
<circle cx="172.6" cy="795.6" r="11.1"/>
<circle cx="187.7" cy="757.8" r="11.1"/>
<circle cx="132.4" cy="850.4" r="11.1"/>
<circle cx="144.3" cy="820.1" r="11.1"/>
<circle cx="153.7" cy="848.1" r="11.1"/>
<circle cx="375.2" cy="631.9" r="11.1"/>
<circle cx="172.7" cy="805.2" r="11.1"/>
<circle cx="183.3" cy="787.4" r="11.1"/>
<circle cx="368.7" cy="583.4" r="11.1"/>
<circle cx="138.8" cy="850.4" r="11.1"/>
<circle cx="368.1" cy="584.3" r="11.1"/>
<circle cx="136.5" cy="851.8" r="11.1"/>
<circle cx="346.4" cy="645.1" r="11.1"/>
<circle cx="325.1" cy="619.6" r="11.1"/>
<circle cx="195.0" cy="786.6" r="11.1"/>
<circle cx="133.4" cy="847.8" r="11.1"/>
<circle cx="212.2" cy="713.2" r="11.1"/>
<circle cx="251.7" cy="740.2" r="11.1"/>
<circle cx="145.4" cy="847.5" r="11.1"/>
<circle cx="178.6" cy="795.3" r="11.1"/>
<circle cx="136.9" cy="848.0" r="11.1"/>
<circle cx="241.1" cy="741.2" r="11.1"/>
<circle cx="284.6" cy="691.3" r="11.1"/>
<circle cx="286.8" cy="674.3" r="11.1"/>
<circle cx="373.1" cy="560.3" r="11.1"/>
<circle cx="181.3" cy="813.4" r="11.1"/>
<circle cx="158.5" cy="789.0" r="11.1"/>
<circle cx="137.0" cy="853.1" r="11.1"/>
<circle cx="322.9" cy="619.2" r="11.1"/>
<circle cx="366.1" cy="557.4" r="11.1"/>
<circle cx="150.9" cy="843.0" r="11.1"/>
<circle cx="143.9" cy="839.3" r="11.1"/>
<circle cx="223.9" cy="777.8" r="11.1"/>
<circle cx="240.6" cy="791.8" r="11.1"/>
<circle cx="140.8" cy="838.2" r="11.1"/>
<circle cx="131.1" cy="847.7" r="11.1"/>
<circle cx="297.6" cy="696.0" r="11.1"/>
<circle cx="190.4" cy="816.3" r="11.1"/>
<circle cx="305.5" cy="680.6" r="11.1"/>
<circle cx="279.4" cy="717.1" r="11.1"/>
<circle cx="286.9" cy="708.9" r="11.1"/>
<circle cx="357.8" cy="605.8" r="11.1"/>
<circle cx="246.7" cy="698.1" r="11.1"/>
<circle cx="372.9" cy="582.9" r="11.1"/>
<circle cx="336.1" cy="604.1" r="11.1"/>
<circle cx="144.4" cy="851.4" r="11.1"/>
<circle cx="150.5" cy="804.9" r="11.1"/>
<circle cx="308.8" cy="692.1" r="11.1"/>
<circle cx="222.7" cy="763.3" r="11.1"/>
<circle cx="290.0" cy="663.8" r="11.1"/>
<circle cx="305.9" cy="659.4" r="11.1"/>
<circle cx="140.6" cy="839.7" r="11.1"/>
<circle cx="161.5" cy="790.6" r="11.1"/>
<circle cx="143.3" cy="830.9" r="11.1"/>
<circle cx="169.8" cy="824.1" r="11.1"/>
<circle cx="138.6" cy="852.7" r="11.1"/>
<circle cx="403.1" cy="570.8" r="11.1"/>
<circle cx="361.6" cy="642.9" r="11.1"/>
<circle cx="138.8" cy="833.9" r="11.1"/>
<circle cx="353.6" cy="590.6" r="11.1"/>
<circle cx="277.8" cy="715.6" r="11.1"/>
<circle cx="356.4" cy="592.7" r="11.1"/>
<circle cx="158.7" cy="801.7" r="11.1"/>
<circle cx="149.1" cy="808.0" r="11.1"/>
<circle cx="368.9" cy="568.1" r="11.1"/>
<circle cx="144.3" cy="847.2" r="11.1"/>
<circle cx="152.5" cy="827.0" r="11.1"/>
<circle cx="184.8" cy="791.5" r="11.1"/>
<circle cx="160.5" cy="806.5" r="11.1"/>
<circle cx="191.1" cy="749.3" r="11.1"/>
<circle cx="200.5" cy="728.1" r="11.1"/>
<circle cx="531.5" cy="364.6" r="11.1"/>
<circle cx="134.6" cy="852.3" r="11.1"/>
<circle cx="236.5" cy="754.4" r="11.1"/>
<circle cx="140.8" cy="833.1" r="11.1"/>
<circle cx="567.6" cy="440.7" r="11.1"/>
<circle cx="186.3" cy="770.6" r="11.1"/>
<circle cx="340.5" cy="640.2" r="11.1"/>
<circle cx="145.1" cy="823.1" r="11.1"/>
<circle cx="361.9" cy="379.4" r="11.1"/>
<circle cx="360.8" cy="632.1" r="11.1"/>
<circle cx="139.9" cy="848.1" r="11.1"/>
<circle cx="144.0" cy="811.5" r="11.1"/>
<circle cx="132.7" cy="848.1" r="11.1"/>
<circle cx="219.2" cy="758.1" r="11.1"/>
<circle cx="149.4" cy="849.2" r="11.1"/>
<circle cx="400.5" cy="594.5" r="11.1"/>
<circle cx="165.3" cy="805.0" r="11.1"/>
<circle cx="263.3" cy="674.0" r="11.1"/>
<circle cx="134.0" cy="848.2" r="11.1"/>
<circle cx="367.9" cy="614.1" r="11.1"/>
<circle cx="233.4" cy="754.7" r="11.1"/>
<circle cx="182.8" cy="799.0" r="11.1"/>
<circle cx="329.9" cy="674.2" r="11.1"/>
<circle cx="150.9" cy="833.5" r="11.1"/>
<circle cx="156.2" cy="811.8" r="11.1"/>
<circle cx="268.2" cy="717.8" r="11.1"/>
<circle cx="267.5" cy="723.5" r="11.1"/>
<circle cx="141.9" cy="829.6" r="11.1"/>
<circle cx="361.9" cy="644.6" r="11.1"/>
<circle cx="138.2" cy="841.3" r="11.1"/>
<circle cx="313.5" cy="631.7" r="11.1"/>
<circle cx="329.9" cy="638.7" r="11.1"/>
<circle cx="303.7" cy="677.2" r="11.1"/>
<circle cx="159.0" cy="822.7" r="11.1"/>
<circle cx="133.5" cy="831.8" r="11.1"/>
<circle cx="360.6" cy="592.1" r="11.1"/>
<circle cx="326.3" cy="661.7" r="11.1"/>
<circle cx="177.5" cy="822.4" r="11.1"/>
<circle cx="206.9" cy="812.9" r="11.1"/>
<circle cx="269.4" cy="701.0" r="11.1"/>
<circle cx="144.9" cy="845.5" r="11.1"/>
<circle cx="352.4" cy="533.0" r="11.1"/>
<circle cx="182.0" cy="784.2" r="11.1"/>
<circle cx="133.2" cy="850.1" r="11.1"/>
<circle cx="131.1" cy="852.0" r="11.1"/>
<circle cx="190.6" cy="809.7" r="11.1"/>
<circle cx="177.9" cy="779.8" r="11.1"/>
<circle cx="168.3" cy="802.4" r="11.1"/>
<circle cx="141.0" cy="852.1" r="11.1"/>
<circle cx="174.3" cy="791.2" r="11.1"/>
<circle cx="159.2" cy="798.7" r="11.1"/>
<circle cx="257.0" cy="697.5" r="11.1"/>
<circle cx="296.8" cy="729.0" r="11.1"/>
<circle cx="370.3" cy="536.4" r="11.1"/>
<circle cx="203.5" cy="815.1" r="11.1"/>
<circle cx="151.7" cy="822.7" r="11.1"/>
<circle cx="145.7" cy="836.0" r="11.1"/>
<circle cx="245.0" cy="737.3" r="11.1"/>
<circle cx="172.3" cy="773.1" r="11.1"/>
<circle cx="317.7" cy="632.1" r="11.1"/>
<circle cx="187.3" cy="773.4" r="11.1"/>
<circle cx="219.6" cy="733.0" r="11.1"/>
<circle cx="146.2" cy="824.3" r="11.1"/>
<circle cx="139.8" cy="845.6" r="11.1"/>
<circle cx="135.7" cy="841.6" r="11.1"/>
<circle cx="299.9" cy="664.9" r="11.1"/>
<circle cx="154.8" cy="833.7" r="11.1"/>
<circle cx="139.9" cy="825.2" r="11.1"/>
<circle cx="483.3" cy="453.2" r="11.1"/>
<circle cx="211.2" cy="779.5" r="11.1"/>
<circle cx="150.3" cy="819.4" r="11.1"/>
<circle cx="283.1" cy="714.0" r="11.1"/>
<circle cx="161.2" cy="798.5" r="11.1"/>
<circle cx="132.2" cy="848.5" r="11.1"/>
<circle cx="159.2" cy="803.0" r="11.1"/>
<circle cx="155.6" cy="828.3" r="11.1"/>
<circle cx="207.7" cy="772.7" r="11.1"/>
<circle cx="268.9" cy="730.7" r="11.1"/>
<circle cx="638.1" cy="302.0" r="11.1"/>
<circle cx="341.4" cy="638.6" r="11.1"/>
<circle cx="451.5" cy="533.1" r="11.1"/>
<circle cx="156.9" cy="823.9" r="11.1"/>
<circle cx="136.0" cy="834.3" r="11.1"/>
<circle cx="194.0" cy="801.3" r="11.1"/>
<circle cx="241.7" cy="736.2" r="11.1"/>
<circle cx="173.8" cy="804.6" r="11.1"/>
<circle cx="144.6" cy="828.5" r="11.1"/>
<circle cx="155.6" cy="828.4" r="11.1"/>
<circle cx="188.4" cy="815.1" r="11.1"/>
<circle cx="262.4" cy="728.4" r="11.1"/>
<circle cx="202.5" cy="754.2" r="11.1"/>
<circle cx="160.8" cy="805.7" r="11.1"/>
<circle cx="163.9" cy="813.0" r="11.1"/>
<circle cx="176.6" cy="781.9" r="11.1"/>
<circle cx="154.9" cy="833.4" r="11.1"/>
<circle cx="190.1" cy="749.8" r="11.1"/>
<circle cx="327.5" cy="645.4" r="11.1"/>
<circle cx="147.9" cy="848.5" r="11.1"/>
<circle cx="346.6" cy="619.0" r="11.1"/>
<circle cx="134.6" cy="851.7" r="11.1"/>
<circle cx="322.2" cy="637.8" r="11.1"/>
<circle cx="351.5" cy="597.4" r="11.1"/>
<circle cx="269.8" cy="651.1" r="11.1"/>
<circle cx="253.7" cy="752.6" r="11.1"/>
<circle cx="140.1" cy="840.2" r="11.1"/>
<circle cx="208.6" cy="734.6" r="11.1"/>
<circle cx="261.4" cy="684.6" r="11.1"/>
<circle cx="139.7" cy="828.8" r="11.1"/>
<circle cx="223.0" cy="760.0" r="11.1"/>
<circle cx="134.4" cy="845.7" r="11.1"/>
<circle cx="135.4" cy="849.1" r="11.1"/>
<circle cx="285.0" cy="727.0" r="11.1"/>
<circle cx="353.4" cy="660.4" r="11.1"/>
<circle cx="147.5" cy="828.0" r="11.1"/>
<circle cx="348.2" cy="593.1" r="11.1"/>
<circle cx="357.6" cy="652.4" r="11.1"/>
<circle cx="312.3" cy="665.7" r="11.1"/>
<circle cx="313.0" cy="760.3" r="11.1"/>
<circle cx="737.6" cy="238.6" r="11.1"/>
<circle cx="232.2" cy="774.1" r="11.1"/>
<circle cx="168.1" cy="798.8" r="11.1"/>
<circle cx="247.5" cy="759.4" r="11.1"/>
<circle cx="143.6" cy="846.2" r="11.1"/>
<circle cx="475.7" cy="500.9" r="11.1"/>
<circle cx="136.2" cy="851.8" r="11.1"/>
<circle cx="446.2" cy="463.7" r="11.1"/>
<circle cx="142.7" cy="851.9" r="11.1"/>
<circle cx="330.6" cy="636.5" r="11.1"/>
<circle cx="147.9" cy="827.7" r="11.1"/>
<circle cx="259.0" cy="719.8" r="11.1"/>
<circle cx="208.4" cy="752.0" r="11.1"/>
<circle cx="134.5" cy="839.7" r="11.1"/>
<circle cx="209.9" cy="745.3" r="11.1"/>
<circle cx="135.4" cy="848.4" r="11.1"/>
<circle cx="414.7" cy="516.7" r="11.1"/>
<circle cx="145.6" cy="830.5" r="11.1"/>
<circle cx="138.6" cy="853.1" r="11.1"/>
<circle cx="150.0" cy="852.6" r="11.1"/>
<circle cx="492.4" cy="543.5" r="11.1"/>
<circle cx="367.6" cy="595.3" r="11.1"/>
<circle cx="340.1" cy="586.5" r="11.1"/>
<circle cx="141.7" cy="826.4" r="11.1"/>
<circle cx="172.1" cy="799.9" r="11.1"/>
<circle cx="349.8" cy="634.8" r="11.1"/>
<circle cx="212.8" cy="773.7" r="11.1"/>
<circle cx="322.9" cy="697.9" r="11.1"/>
<circle cx="531.8" cy="424.1" r="11.1"/>
<circle cx="194.5" cy="769.5" r="11.1"/>
<circle cx="286.2" cy="680.1" r="11.1"/>
<circle cx="352.8" cy="626.8" r="11.1"/>
<circle cx="355.1" cy="670.9" r="11.1"/>
<circle cx="318.8" cy="634.1" r="11.1"/>
<circle cx="353.7" cy="651.3" r="11.1"/>
<circle cx="153.9" cy="823.9" r="11.1"/>
<circle cx="312.7" cy="671.8" r="11.1"/>
<circle cx="149.5" cy="803.3" r="11.1"/>
<circle cx="237.7" cy="738.6" r="11.1"/>
<circle cx="181.9" cy="768.9" r="11.1"/>
<circle cx="271.5" cy="675.7" r="11.1"/>
<circle cx="182.3" cy="808.8" r="11.1"/>
<circle cx="259.8" cy="771.5" r="11.1"/>
<circle cx="145.2" cy="844.3" r="11.1"/>
<circle cx="191.1" cy="833.4" r="11.1"/>
<circle cx="342.2" cy="632.6" r="11.1"/>
<circle cx="307.7" cy="649.6" r="11.1"/>
<circle cx="178.1" cy="842.3" r="11.1"/>
<circle cx="324.5" cy="629.4" r="11.1"/>
<circle cx="360.9" cy="555.6" r="11.1"/>
<circle cx="158.1" cy="832.4" r="11.1"/>
<circle cx="144.3" cy="845.5" r="11.1"/>
<circle cx="177.7" cy="832.6" r="11.1"/>
<circle cx="141.3" cy="825.5" r="11.1"/>
<circle cx="236.5" cy="750.7" r="11.1"/>
<circle cx="166.5" cy="818.4" r="11.1"/>
<circle cx="347.5" cy="623.7" r="11.1"/>
<circle cx="188.0" cy="834.3" r="11.1"/>
<circle cx="205.3" cy="764.6" r="11.1"/>
<circle cx="186.6" cy="756.4" r="11.1"/>
<circle cx="165.0" cy="810.0" r="11.1"/>
<circle cx="152.6" cy="852.5" r="11.1"/>
<circle cx="221.9" cy="729.3" r="11.1"/>
<circle cx="165.1" cy="810.0" r="11.1"/>
<circle cx="225.2" cy="701.6" r="11.1"/>
<circle cx="245.8" cy="747.6" r="11.1"/>
<circle cx="216.8" cy="785.9" r="11.1"/>
<circle cx="150.0" cy="815.3" r="11.1"/>
<circle cx="177.9" cy="820.6" r="11.1"/>
<circle cx="251.1" cy="711.4" r="11.1"/>
<circle cx="378.5" cy="547.8" r="11.1"/>
<circle cx="157.9" cy="826.0" r="11.1"/>
<circle cx="142.4" cy="853.3" r="11.1"/>
<circle cx="147.9" cy="848.0" r="11.1"/>
<circle cx="285.1" cy="643.4" r="11.1"/>
<circle cx="243.0" cy="735.0" r="11.1"/>
<circle cx="188.3" cy="811.8" r="11.1"/>
<circle cx="195.6" cy="786.2" r="11.1"/>
<circle cx="295.3" cy="660.1" r="11.1"/>
<circle cx="220.1" cy="709.6" r="11.1"/>
<circle cx="371.0" cy="584.9" r="11.1"/>
<circle cx="188.0" cy="794.2" r="11.1"/>
<circle cx="371.2" cy="562.3" r="11.1"/>
<circle cx="131.6" cy="847.8" r="11.1"/>
<circle cx="363.7" cy="590.4" r="11.1"/>
<circle cx="216.2" cy="741.5" r="11.1"/>
<circle cx="323.4" cy="663.2" r="11.1"/>
<circle cx="291.1" cy="675.2" r="11.1"/>
<circle cx="171.4" cy="792.9" r="11.1"/>
<circle cx="174.3" cy="800.2" r="11.1"/>
<circle cx="132.5" cy="851.1" r="11.1"/>
<circle cx="232.8" cy="747.0" r="11.1"/>
<circle cx="189.3" cy="784.7" r="11.1"/>
<circle cx="186.6" cy="749.2" r="11.1"/>
<circle cx="344.6" cy="602.4" r="11.1"/>
<circle cx="207.3" cy="768.2" r="11.1"/>
<circle cx="215.2" cy="746.5" r="11.1"/>
<circle cx="144.8" cy="813.7" r="11.1"/>
<circle cx="157.8" cy="820.2" r="11.1"/>
<circle cx="137.0" cy="841.0" r="11.1"/>
<circle cx="374.4" cy="533.6" r="11.1"/>
<circle cx="163.5" cy="830.1" r="11.1"/>
<circle cx="153.7" cy="817.3" r="11.1"/>
<circle cx="185.6" cy="782.2" r="11.1"/>
<circle cx="243.0" cy="729.4" r="11.1"/>
<circle cx="144.8" cy="830.8" r="11.1"/>
<circle cx="371.0" cy="630.6" r="11.1"/>
<circle cx="272.8" cy="720.8" r="11.1"/>
<circle cx="206.2" cy="779.8" r="11.1"/>
<circle cx="332.9" cy="612.6" r="11.1"/>
<circle cx="289.5" cy="667.9" r="11.1"/>
<circle cx="218.2" cy="711.3" r="11.1"/>
<circle cx="135.2" cy="849.5" r="11.1"/>
<circle cx="156.0" cy="836.1" r="11.1"/>
<circle cx="257.6" cy="722.6" r="11.1"/>
<circle cx="372.4" cy="575.9" r="11.1"/>
<circle cx="241.1" cy="743.6" r="11.1"/>
<circle cx="264.1" cy="673.0" r="11.1"/>
<circle cx="136.5" cy="848.0" r="11.1"/>
<circle cx="138.1" cy="851.7" r="11.1"/>
<circle cx="138.7" cy="852.9" r="11.1"/>
<circle cx="142.0" cy="846.7" r="11.1"/>
<circle cx="372.9" cy="603.1" r="11.1"/>
<circle cx="205.8" cy="758.2" r="11.1"/>
<circle cx="358.3" cy="655.5" r="11.1"/>
<circle cx="339.8" cy="674.7" r="11.1"/>
<circle cx="333.3" cy="650.9" r="11.1"/>
<circle cx="316.4" cy="689.6" r="11.1"/>
<circle cx="288.2" cy="652.7" r="11.1"/>
<circle cx="251.1" cy="698.6" r="11.1"/>
<circle cx="269.0" cy="708.5" r="11.1"/>
<circle cx="284.3" cy="654.4" r="11.1"/>
<circle cx="262.3" cy="696.5" r="11.1"/>
<circle cx="223.2" cy="770.7" r="11.1"/>
<circle cx="457.9" cy="495.6" r="11.1"/>
<circle cx="177.6" cy="773.5" r="11.1"/>
<circle cx="286.6" cy="735.9" r="11.1"/>
<circle cx="231.9" cy="769.9" r="11.1"/>
<circle cx="241.1" cy="762.0" r="11.1"/>
<circle cx="232.7" cy="798.9" r="11.1"/>
<circle cx="149.5" cy="848.8" r="11.1"/>
<circle cx="346.8" cy="599.9" r="11.1"/>
<circle cx="489.6" cy="453.8" r="11.1"/>
<circle cx="206.5" cy="770.5" r="11.1"/>
<circle cx="181.6" cy="805.8" r="11.1"/>
<circle cx="216.0" cy="793.1" r="11.1"/>
<circle cx="148.0" cy="807.5" r="11.1"/>
<circle cx="173.4" cy="772.1" r="11.1"/>
<circle cx="210.1" cy="726.6" r="11.1"/>
<circle cx="303.8" cy="691.7" r="11.1"/>
<circle cx="149.2" cy="820.2" r="11.1"/>
<circle cx="141.3" cy="849.4" r="11.1"/>
<circle cx="754.9" cy="223.5" r="11.1"/>
<circle cx="313.5" cy="672.9" r="11.1"/>
<circle cx="142.9" cy="839.8" r="11.1"/>
<circle cx="338.2" cy="597.7" r="11.1"/>
<circle cx="305.8" cy="675.7" r="11.1"/>
<circle cx="157.4" cy="850.0" r="11.1"/>
<circle cx="274.0" cy="692.1" r="11.1"/>
<circle cx="198.0" cy="753.4" r="11.1"/>
<circle cx="153.8" cy="843.4" r="11.1"/>
<circle cx="188.3" cy="789.4" r="11.1"/>
<circle cx="212.0" cy="751.1" r="11.1"/>
<circle cx="158.0" cy="830.1" r="11.1"/>
<circle cx="302.0" cy="651.6" r="11.1"/>
<circle cx="232.9" cy="742.4" r="11.1"/>
<circle cx="160.1" cy="852.7" r="11.1"/>
<circle cx="331.5" cy="637.5" r="11.1"/>
<circle cx="147.1" cy="821.0" r="11.1"/>
<circle cx="284.4" cy="673.3" r="11.1"/>
<circle cx="169.9" cy="798.8" r="11.1"/>
<circle cx="152.7" cy="846.7" r="11.1"/>
<circle cx="256.5" cy="731.3" r="11.1"/>
<circle cx="209.9" cy="775.5" r="11.1"/>
<circle cx="131.7" cy="848.6" r="11.1"/>
<circle cx="164.0" cy="850.8" r="11.1"/>
<circle cx="151.1" cy="832.2" r="11.1"/>
<circle cx="154.3" cy="808.3" r="11.1"/>
<circle cx="165.9" cy="796.9" r="11.1"/>
<circle cx="153.8" cy="831.8" r="11.1"/>
<circle cx="207.8" cy="809.1" r="11.1"/>
<circle cx="204.9" cy="762.0" r="11.1"/>
<circle cx="151.3" cy="832.9" r="11.1"/>
<circle cx="270.1" cy="664.7" r="11.1"/>
<circle cx="146.1" cy="842.9" r="11.1"/>
<circle cx="210.3" cy="745.2" r="11.1"/>
<circle cx="336.6" cy="637.6" r="11.1"/>
<circle cx="135.2" cy="844.4" r="11.1"/>
<circle cx="177.3" cy="786.0" r="11.1"/>
<circle cx="181.9" cy="822.7" r="11.1"/>
<circle cx="200.1" cy="778.5" r="11.1"/>
<circle cx="223.5" cy="804.4" r="11.1"/>
<circle cx="158.2" cy="838.3" r="11.1"/>
<circle cx="219.3" cy="710.6" r="11.1"/>
<circle cx="158.9" cy="824.6" r="11.1"/>
<circle cx="152.6" cy="804.3" r="11.1"/>
<circle cx="131.8" cy="845.9" r="11.1"/>
<circle cx="292.8" cy="705.2" r="11.1"/>
<circle cx="149.3" cy="809.6" r="11.1"/>
<circle cx="227.0" cy="754.7" r="11.1"/>
<circle cx="271.6" cy="691.6" r="11.1"/>
<circle cx="268.6" cy="700.7" r="11.1"/>
<circle cx="322.7" cy="629.8" r="11.1"/>
<circle cx="535.4" cy="357.3" r="11.1"/>
<circle cx="353.8" cy="641.0" r="11.1"/>
<circle cx="219.2" cy="710.6" r="11.1"/>
<circle cx="183.8" cy="821.7" r="11.1"/>
<circle cx="339.4" cy="489.7" r="11.1"/>
<circle cx="266.0" cy="708.5" r="11.1"/>
<circle cx="322.4" cy="705.1" r="11.1"/>
<circle cx="297.7" cy="669.2" r="11.1"/>
<circle cx="139.5" cy="842.7" r="11.1"/>
<circle cx="140.2" cy="842.7" r="11.1"/>
<circle cx="232.2" cy="776.3" r="11.1"/>
<circle cx="224.7" cy="740.9" r="11.1"/>
<circle cx="176.6" cy="832.5" r="11.1"/>
<circle cx="228.1" cy="792.2" r="11.1"/>
<circle cx="356.7" cy="611.3" r="11.1"/>
<circle cx="191.8" cy="785.0" r="11.1"/>
<circle cx="143.5" cy="844.2" r="11.1"/>
<circle cx="169.8" cy="802.3" r="11.1"/>
<circle cx="136.7" cy="841.1" r="11.1"/>
<circle cx="145.9" cy="816.8" r="11.1"/>
<circle cx="243.6" cy="747.2" r="11.1"/>
<circle cx="159.8" cy="841.7" r="11.1"/>
<circle cx="180.3" cy="749.9" r="11.1"/>
<circle cx="242.0" cy="704.7" r="11.1"/>
<circle cx="145.9" cy="819.0" r="11.1"/>
<circle cx="228.4" cy="741.3" r="11.1"/>
<circle cx="158.1" cy="823.6" r="11.1"/>
<circle cx="154.7" cy="826.4" r="11.1"/>
<circle cx="153.0" cy="851.9" r="11.1"/>
<circle cx="328.7" cy="666.5" r="11.1"/>
<circle cx="347.5" cy="619.6" r="11.1"/>
<circle cx="177.6" cy="679.1" r="11.1"/>
<circle cx="155.6" cy="834.4" r="11.1"/>
<circle cx="293.8" cy="688.6" r="11.1"/>
</g>
<g stroke="#FFC000">
<circle cx="340.5" cy="601.1" r="11.1"/>
<circle cx="210.7" cy="752.8" r="11.1"/>
<circle cx="349.8" cy="670.5" r="11.1"/>
<circle cx="145.4" cy="823.1" r="11.1"/>
<circle cx="323.4" cy="665.3" r="11.1"/>
<circle cx="135.4" cy="836.7" r="11.1"/>
<circle cx="138.8" cy="847.4" r="11.1"/>
<circle cx="330.6" cy="580.5" r="11.1"/>
<circle cx="182.3" cy="829.8" r="11.1"/>
<circle cx="171.8" cy="822.2" r="11.1"/>
<circle cx="174.3" cy="784.5" r="11.1"/>
<circle cx="153.8" cy="841.6" r="11.1"/>
<circle cx="257.1" cy="670.4" r="11.1"/>
<circle cx="367.6" cy="604.9" r="11.1"/>
<circle cx="143.9" cy="832.8" r="11.1"/>
<circle cx="153.7" cy="823.6" r="11.1"/>
<circle cx="325.2" cy="661.9" r="11.1"/>
<circle cx="190.6" cy="803.4" r="11.1"/>
<circle cx="360.9" cy="542.4" r="11.1"/>
<circle cx="258.7" cy="736.9" r="11.1"/>
<circle cx="187.6" cy="823.7" r="11.1"/>
<circle cx="143.6" cy="820.2" r="11.1"/>
<circle cx="149.4" cy="803.1" r="11.1"/>
<circle cx="293.8" cy="694.3" r="11.1"/>
<circle cx="138.7" cy="850.4" r="11.1"/>
<circle cx="336.1" cy="601.8" r="11.1"/>
<circle cx="307.7" cy="683.2" r="11.1"/>
<circle cx="267.5" cy="703.7" r="11.1"/>
<circle cx="158.0" cy="822.4" r="11.1"/>
<circle cx="177.9" cy="746.8" r="11.1"/>
<circle cx="149.2" cy="844.5" r="11.1"/>
<circle cx="187.7" cy="774.6" r="11.1"/>
<circle cx="138.8" cy="844.0" r="11.1"/>
<circle cx="158.9" cy="798.6" r="11.1"/>
<circle cx="160.5" cy="844.6" r="11.1"/>
<circle cx="277.8" cy="696.6" r="11.1"/>
<circle cx="212.2" cy="710.8" r="11.1"/>
<circle cx="154.7" cy="824.8" r="11.1"/>
<circle cx="337.7" cy="608.9" r="11.1"/>
<circle cx="178.4" cy="848.0" r="11.1"/>
<circle cx="247.5" cy="745.1" r="11.1"/>
<circle cx="324.0" cy="652.4" r="11.1"/>
<circle cx="140.8" cy="830.4" r="11.1"/>
<circle cx="241.1" cy="738.2" r="11.1"/>
<circle cx="140.4" cy="829.1" r="11.1"/>
<circle cx="407.3" cy="504.2" r="11.1"/>
<circle cx="180.8" cy="789.5" r="11.1"/>
<circle cx="144.2" cy="849.0" r="11.1"/>
<circle cx="154.3" cy="836.7" r="11.1"/>
<circle cx="178.7" cy="807.1" r="11.1"/>
<circle cx="221.9" cy="740.2" r="11.1"/>
<circle cx="295.8" cy="682.2" r="11.1"/>
<circle cx="342.4" cy="605.0" r="11.1"/>
<circle cx="136.5" cy="851.6" r="11.1"/>
<circle cx="208.8" cy="743.4" r="11.1"/>
<circle cx="138.1" cy="827.2" r="11.1"/>
<circle cx="165.3" cy="810.5" r="11.1"/>
<circle cx="160.1" cy="823.9" r="11.1"/>
<circle cx="349.8" cy="602.5" r="11.1"/>
<circle cx="275.4" cy="676.8" r="11.1"/>
<circle cx="147.9" cy="824.2" r="11.1"/>
<circle cx="149.1" cy="817.9" r="11.1"/>
<circle cx="141.3" cy="852.1" r="11.1"/>
<circle cx="241.1" cy="723.2" r="11.1"/>
<circle cx="168.2" cy="804.2" r="11.1"/>
<circle cx="144.3" cy="839.9" r="11.1"/>
<circle cx="353.7" cy="592.6" r="11.1"/>
<circle cx="147.9" cy="850.1" r="11.1"/>
<circle cx="138.6" cy="850.7" r="11.1"/>
<circle cx="256.5" cy="726.8" r="11.1"/>
<circle cx="324.5" cy="600.2" r="11.1"/>
<circle cx="394.9" cy="610.2" r="11.1"/>
<circle cx="171.7" cy="776.6" r="11.1"/>
<circle cx="286.9" cy="708.3" r="11.1"/>
<circle cx="193.5" cy="792.8" r="11.1"/>
<circle cx="157.4" cy="848.1" r="11.1"/>
<circle cx="372.9" cy="563.2" r="11.1"/>
<circle cx="202.2" cy="775.8" r="11.1"/>
<circle cx="187.6" cy="773.2" r="11.1"/>
<circle cx="200.2" cy="751.8" r="11.1"/>
<circle cx="131.5" cy="848.7" r="11.1"/>
<circle cx="211.2" cy="793.6" r="11.1"/>
<circle cx="200.1" cy="758.1" r="11.1"/>
<circle cx="315.0" cy="674.0" r="11.1"/>
<circle cx="307.7" cy="627.4" r="11.1"/>
<circle cx="138.7" cy="848.7" r="11.1"/>
<circle cx="331.5" cy="616.7" r="11.1"/>
<circle cx="361.9" cy="330.9" r="11.1"/>
<circle cx="232.7" cy="794.0" r="11.1"/>
<circle cx="338.2" cy="614.6" r="11.1"/>
<circle cx="132.3" cy="850.6" r="11.1"/>
<circle cx="263.1" cy="652.2" r="11.1"/>
<circle cx="200.5" cy="742.8" r="11.1"/>
<circle cx="254.3" cy="745.7" r="11.1"/>
<circle cx="159.3" cy="822.9" r="11.1"/>
<circle cx="253.7" cy="732.3" r="11.1"/>
<circle cx="503.1" cy="403.2" r="11.1"/>
<circle cx="295.3" cy="653.0" r="11.1"/>
<circle cx="156.0" cy="826.2" r="11.1"/>
<circle cx="220.2" cy="744.9" r="11.1"/>
<circle cx="363.7" cy="602.9" r="11.1"/>
<circle cx="192.9" cy="821.7" r="11.1"/>
<circle cx="139.7" cy="820.5" r="11.1"/>
<circle cx="140.3" cy="849.0" r="11.1"/>
<circle cx="172.1" cy="818.9" r="11.1"/>
<circle cx="297.6" cy="708.0" r="11.1"/>
<circle cx="371.0" cy="607.6" r="11.1"/>
<circle cx="156.6" cy="811.5" r="11.1"/>
<circle cx="151.9" cy="815.8" r="11.1"/>
<circle cx="140.0" cy="847.5" r="11.1"/>
<circle cx="372.2" cy="633.1" r="11.1"/>
<circle cx="131.7" cy="847.5" r="11.1"/>
<circle cx="152.5" cy="817.9" r="11.1"/>
<circle cx="308.8" cy="677.8" r="11.1"/>
<circle cx="374.4" cy="574.3" r="11.1"/>
<circle cx="173.3" cy="817.0" r="11.1"/>
<circle cx="136.9" cy="851.0" r="11.1"/>
<circle cx="371.0" cy="641.1" r="11.1"/>
<circle cx="179.5" cy="766.2" r="11.1"/>
<circle cx="136.2" cy="847.6" r="11.1"/>
<circle cx="262.0" cy="693.7" r="11.1"/>
<circle cx="552.6" cy="336.4" r="11.1"/>
<circle cx="232.2" cy="773.8" r="11.1"/>
<circle cx="148.2" cy="842.9" r="11.1"/>
<circle cx="212.8" cy="755.6" r="11.1"/>
<circle cx="143.1" cy="853.4" r="11.1"/>
<circle cx="136.1" cy="844.6" r="11.1"/>
<circle cx="137.0" cy="826.0" r="11.1"/>
<circle cx="289.5" cy="670.1" r="11.1"/>
<circle cx="287.2" cy="711.0" r="11.1"/>
<circle cx="140.5" cy="811.4" r="11.1"/>
<circle cx="199.2" cy="726.6" r="11.1"/>
<circle cx="330.9" cy="643.7" r="11.1"/>
<circle cx="142.7" cy="826.0" r="11.1"/>
<circle cx="131.8" cy="849.2" r="11.1"/>
<circle cx="346.6" cy="550.4" r="11.1"/>
<circle cx="161.9" cy="852.2" r="11.1"/>
<circle cx="165.9" cy="775.4" r="11.1"/>
<circle cx="168.3" cy="820.5" r="11.1"/>
<circle cx="162.4" cy="777.0" r="11.1"/>
<circle cx="207.2" cy="781.2" r="11.1"/>
<circle cx="135.4" cy="849.5" r="11.1"/>
<circle cx="346.6" cy="640.5" r="11.1"/>
<circle cx="206.5" cy="774.5" r="11.1"/>
<circle cx="186.6" cy="736.3" r="11.1"/>
<circle cx="141.6" cy="843.1" r="11.1"/>
<circle cx="208.7" cy="753.1" r="11.1"/>
<circle cx="199.7" cy="760.7" r="11.1"/>
<circle cx="285.0" cy="712.2" r="11.1"/>
<circle cx="252.1" cy="741.4" r="11.1"/>
<circle cx="159.2" cy="788.3" r="11.1"/>
<circle cx="284.3" cy="659.3" r="11.1"/>
<circle cx="214.6" cy="755.9" r="11.1"/>
<circle cx="433.6" cy="499.4" r="11.1"/>
<circle cx="329.9" cy="665.3" r="11.1"/>
<circle cx="141.4" cy="839.4" r="11.1"/>
<circle cx="155.4" cy="831.4" r="11.1"/>
<circle cx="172.7" cy="801.4" r="11.1"/>
<circle cx="268.4" cy="726.8" r="11.1"/>
<circle cx="139.5" cy="838.7" r="11.1"/>
<circle cx="244.8" cy="828.1" r="11.1"/>
<circle cx="173.4" cy="797.5" r="11.1"/>
<circle cx="136.0" cy="826.7" r="11.1"/>
<circle cx="329.9" cy="629.4" r="11.1"/>
<circle cx="135.2" cy="851.3" r="11.1"/>
<circle cx="142.5" cy="848.2" r="11.1"/>
<circle cx="151.0" cy="819.3" r="11.1"/>
<circle cx="149.2" cy="788.2" r="11.1"/>
<circle cx="153.6" cy="819.5" r="11.1"/>
<circle cx="206.2" cy="791.2" r="11.1"/>
<circle cx="303.8" cy="707.3" r="11.1"/>
<circle cx="335.2" cy="644.0" r="11.1"/>
<circle cx="132.2" cy="837.7" r="11.1"/>
<circle cx="554.7" cy="480.9" r="11.1"/>
<circle cx="141.3" cy="820.8" r="11.1"/>
<circle cx="517.1" cy="462.1" r="11.1"/>
<circle cx="144.0" cy="811.4" r="11.1"/>
<circle cx="228.5" cy="689.4" r="11.1"/>
<circle cx="145.1" cy="811.8" r="11.1"/>
<circle cx="137.9" cy="832.6" r="11.1"/>
<circle cx="248.3" cy="690.2" r="11.1"/>
<circle cx="284.4" cy="661.5" r="11.1"/>
<circle cx="359.2" cy="583.0" r="11.1"/>
<circle cx="368.2" cy="567.8" r="11.1"/>
<circle cx="175.1" cy="750.4" r="11.1"/>
<circle cx="191.8" cy="774.5" r="11.1"/>
<circle cx="151.6" cy="801.3" r="11.1"/>
<circle cx="240.6" cy="785.8" r="11.1"/>
<circle cx="239.6" cy="733.6" r="11.1"/>
<circle cx="148.2" cy="826.2" r="11.1"/>
<circle cx="203.7" cy="745.3" r="11.1"/>
<circle cx="143.9" cy="839.4" r="11.1"/>
<circle cx="139.2" cy="840.6" r="11.1"/>
<circle cx="245.4" cy="721.0" r="11.1"/>
<circle cx="136.5" cy="847.7" r="11.1"/>
<circle cx="296.8" cy="752.7" r="11.1"/>
<circle cx="150.2" cy="847.6" r="11.1"/>
<circle cx="140.9" cy="827.0" r="11.1"/>
<circle cx="202.3" cy="815.3" r="11.1"/>
<circle cx="177.7" cy="802.5" r="11.1"/>
<circle cx="467.6" cy="528.9" r="11.1"/>
<circle cx="169.8" cy="845.1" r="11.1"/>
<circle cx="149.5" cy="811.0" r="11.1"/>
<circle cx="135.7" cy="838.5" r="11.1"/>
<circle cx="176.6" cy="816.5" r="11.1"/>
<circle cx="348.8" cy="614.7" r="11.1"/>
<circle cx="360.2" cy="601.9" r="11.1"/>
<circle cx="151.7" cy="830.7" r="11.1"/>
<circle cx="146.2" cy="823.3" r="11.1"/>
<circle cx="403.1" cy="553.9" r="11.1"/>
<circle cx="154.0" cy="835.0" r="11.1"/>
<circle cx="218.4" cy="728.0" r="11.1"/>
<circle cx="183.3" cy="761.3" r="11.1"/>
<circle cx="366.3" cy="562.4" r="11.1"/>
<circle cx="159.8" cy="815.0" r="11.1"/>
<circle cx="360.6" cy="627.7" r="11.1"/>
<circle cx="173.4" cy="786.9" r="11.1"/>
<circle cx="151.8" cy="832.2" r="11.1"/>
<circle cx="141.0" cy="829.4" r="11.1"/>
<circle cx="241.7" cy="711.8" r="11.1"/>
<circle cx="276.3" cy="679.7" r="11.1"/>
<circle cx="232.2" cy="770.4" r="11.1"/>
<circle cx="184.4" cy="764.6" r="11.1"/>
<circle cx="183.8" cy="804.4" r="11.1"/>
<circle cx="155.6" cy="816.2" r="11.1"/>
<circle cx="164.8" cy="810.2" r="11.1"/>
<circle cx="559.1" cy="379.4" r="11.1"/>
<circle cx="305.9" cy="669.4" r="11.1"/>
<circle cx="136.5" cy="827.7" r="11.1"/>
<circle cx="428.9" cy="599.0" r="11.1"/>
<circle cx="132.8" cy="848.1" r="11.1"/>
<circle cx="198.5" cy="779.0" r="11.1"/>
<circle cx="167.4" cy="830.9" r="11.1"/>
<circle cx="156.0" cy="851.0" r="11.1"/>
<circle cx="216.8" cy="756.3" r="11.1"/>
<circle cx="312.3" cy="663.0" r="11.1"/>
<circle cx="147.9" cy="835.0" r="11.1"/>
<circle cx="154.7" cy="849.7" r="11.1"/>
<circle cx="250.7" cy="743.1" r="11.1"/>
<circle cx="298.9" cy="702.1" r="11.1"/>
<circle cx="142.4" cy="851.7" r="11.1"/>
<circle cx="474.4" cy="518.1" r="11.1"/>
<circle cx="337.3" cy="667.3" r="11.1"/>
<circle cx="156.0" cy="818.2" r="11.1"/>
<circle cx="349.0" cy="616.8" r="11.1"/>
<circle cx="258.2" cy="767.2" r="11.1"/>
<circle cx="313.0" cy="645.5" r="11.1"/>
<circle cx="158.7" cy="809.4" r="11.1"/>
<circle cx="733.4" cy="274.5" r="11.1"/>
<circle cx="322.4" cy="674.7" r="11.1"/>
<circle cx="164.4" cy="805.6" r="11.1"/>
<circle cx="165.2" cy="812.5" r="11.1"/>
<circle cx="291.1" cy="667.3" r="11.1"/>
<circle cx="141.1" cy="838.9" r="11.1"/>
<circle cx="353.4" cy="670.2" r="11.1"/>
<circle cx="137.8" cy="816.7" r="11.1"/>
<circle cx="379.1" cy="683.4" r="11.1"/>
<circle cx="365.3" cy="632.1" r="11.1"/>
<circle cx="372.4" cy="584.5" r="11.1"/>
<circle cx="134.5" cy="848.1" r="11.1"/>
<circle cx="198.5" cy="791.9" r="11.1"/>
<circle cx="194.0" cy="802.7" r="11.1"/>
<circle cx="159.7" cy="850.7" r="11.1"/>
<circle cx="356.4" cy="585.0" r="11.1"/>
<circle cx="131.1" cy="848.4" r="11.1"/>
<circle cx="183.3" cy="779.0" r="11.1"/>
<circle cx="141.0" cy="841.3" r="11.1"/>
<circle cx="245.8" cy="756.6" r="11.1"/>
<circle cx="318.8" cy="637.8" r="11.1"/>
<circle cx="283.1" cy="684.5" r="11.1"/>
<circle cx="155.6" cy="813.4" r="11.1"/>
<circle cx="141.3" cy="833.8" r="11.1"/>
<circle cx="144.6" cy="802.6" r="11.1"/>
<circle cx="149.5" cy="844.3" r="11.1"/>
<circle cx="345.0" cy="635.6" r="11.1"/>
<circle cx="169.3" cy="816.4" r="11.1"/>
<circle cx="164.9" cy="783.3" r="11.1"/>
<circle cx="373.1" cy="571.0" r="11.1"/>
<circle cx="268.9" cy="743.0" r="11.1"/>
<circle cx="577.4" cy="306.3" r="11.1"/>
<circle cx="176.5" cy="807.9" r="11.1"/>
<circle cx="159.2" cy="776.4" r="11.1"/>
<circle cx="189.4" cy="837.4" r="11.1"/>
<circle cx="292.8" cy="708.1" r="11.1"/>
<circle cx="244.4" cy="738.8" r="11.1"/>
<circle cx="235.7" cy="738.2" r="11.1"/>
<circle cx="190.5" cy="772.2" r="11.1"/>
<circle cx="254.0" cy="721.3" r="11.1"/>
<circle cx="370.3" cy="554.4" r="11.1"/>
<circle cx="322.4" cy="643.2" r="11.1"/>
<circle cx="210.1" cy="709.5" r="11.1"/>
<circle cx="132.7" cy="849.0" r="11.1"/>
<circle cx="236.5" cy="731.2" r="11.1"/>
<circle cx="271.4" cy="707.4" r="11.1"/>
<circle cx="189.6" cy="758.0" r="11.1"/>
<circle cx="154.9" cy="833.4" r="11.1"/>
<circle cx="181.2" cy="747.0" r="11.1"/>
<circle cx="152.7" cy="806.7" r="11.1"/>
<circle cx="349.6" cy="603.3" r="11.1"/>
<circle cx="638.1" cy="388.1" r="11.1"/>
<circle cx="248.7" cy="728.6" r="11.1"/>
<circle cx="145.6" cy="837.2" r="11.1"/>
<circle cx="150.9" cy="822.2" r="11.1"/>
<circle cx="351.5" cy="585.5" r="11.1"/>
<circle cx="159.0" cy="825.4" r="11.1"/>
<circle cx="173.5" cy="812.8" r="11.1"/>
<circle cx="349.4" cy="600.5" r="11.1"/>
<circle cx="207.8" cy="794.0" r="11.1"/>
<circle cx="344.6" cy="606.8" r="11.1"/>
<circle cx="158.1" cy="833.9" r="11.1"/>
<circle cx="167.5" cy="828.7" r="11.1"/>
<circle cx="147.5" cy="827.4" r="11.1"/>
<circle cx="199.3" cy="799.0" r="11.1"/>
<circle cx="223.0" cy="744.1" r="11.1"/>
<circle cx="140.6" cy="839.1" r="11.1"/>
<circle cx="191.4" cy="748.7" r="11.1"/>
<circle cx="134.4" cy="832.7" r="11.1"/>
<circle cx="131.5" cy="848.1" r="11.1"/>
<circle cx="132.8" cy="852.8" r="11.1"/>
<circle cx="133.0" cy="846.9" r="11.1"/>
<circle cx="284.6" cy="673.6" r="11.1"/>
<circle cx="263.4" cy="661.4" r="11.1"/>
<circle cx="373.0" cy="568.6" r="11.1"/>
<circle cx="136.5" cy="850.4" r="11.1"/>
<circle cx="132.4" cy="851.2" r="11.1"/>
<circle cx="299.9" cy="649.3" r="11.1"/>
<circle cx="149.8" cy="819.9" r="11.1"/>
<circle cx="195.8" cy="780.9" r="11.1"/>
<circle cx="160.8" cy="852.6" r="11.1"/>
<circle cx="142.9" cy="836.5" r="11.1"/>
<circle cx="149.4" cy="824.3" r="11.1"/>
<circle cx="149.5" cy="790.2" r="11.1"/>
<circle cx="185.6" cy="789.7" r="11.1"/>
<circle cx="151.7" cy="817.9" r="11.1"/>
<circle cx="136.5" cy="849.2" r="11.1"/>
<circle cx="228.1" cy="798.8" r="11.1"/>
<circle cx="288.2" cy="628.5" r="11.1"/>
<circle cx="135.7" cy="833.9" r="11.1"/>
<circle cx="303.7" cy="709.8" r="11.1"/>
<circle cx="160.4" cy="796.2" r="11.1"/>
<circle cx="174.3" cy="782.2" r="11.1"/>
<circle cx="159.2" cy="811.7" r="11.1"/>
<circle cx="134.1" cy="828.8" r="11.1"/>
<circle cx="140.8" cy="852.8" r="11.1"/>
<circle cx="158.0" cy="824.6" r="11.1"/>
<circle cx="302.0" cy="654.5" r="11.1"/>
<circle cx="181.9" cy="775.5" r="11.1"/>
<circle cx="139.5" cy="838.9" r="11.1"/>
<circle cx="531.5" cy="359.6" r="11.1"/>
<circle cx="361.6" cy="663.4" r="11.1"/>
<circle cx="176.3" cy="815.1" r="11.1"/>
<circle cx="140.6" cy="851.9" r="11.1"/>
<circle cx="219.2" cy="726.0" r="11.1"/>
<circle cx="241.1" cy="761.3" r="11.1"/>
<circle cx="262.9" cy="700.7" r="11.1"/>
<circle cx="140.1" cy="838.7" r="11.1"/>
<circle cx="150.3" cy="811.5" r="11.1"/>
<circle cx="245.0" cy="723.4" r="11.1"/>
<circle cx="232.8" cy="765.6" r="11.1"/>
<circle cx="243.8" cy="734.2" r="11.1"/>
<circle cx="139.9" cy="836.9" r="11.1"/>
<circle cx="241.1" cy="745.2" r="11.1"/>
<circle cx="150.7" cy="837.6" r="11.1"/>
<circle cx="150.0" cy="820.8" r="11.1"/>
<circle cx="350.1" cy="654.0" r="11.1"/>
<circle cx="358.0" cy="563.2" r="11.1"/>
<circle cx="149.6" cy="808.0" r="11.1"/>
<circle cx="197.9" cy="600.0" r="11.1"/>
<circle cx="149.3" cy="824.5" r="11.1"/>
<circle cx="368.8" cy="651.9" r="11.1"/>
<circle cx="357.5" cy="586.4" r="11.1"/>
<circle cx="204.3" cy="819.4" r="11.1"/>
<circle cx="182.8" cy="752.8" r="11.1"/>
<circle cx="132.1" cy="848.3" r="11.1"/>
<circle cx="136.6" cy="852.7" r="11.1"/>
<circle cx="141.4" cy="816.4" r="11.1"/>
<circle cx="153.9" cy="811.3" r="11.1"/>
<circle cx="367.9" cy="610.6" r="11.1"/>
<circle cx="272.8" cy="698.9" r="11.1"/>
<circle cx="368.7" cy="611.7" r="11.1"/>
<circle cx="138.8" cy="836.3" r="11.1"/>
<circle cx="133.3" cy="845.6" r="11.1"/>
<circle cx="215.8" cy="744.8" r="11.1"/>
<circle cx="190.6" cy="845.9" r="11.1"/>
<circle cx="219.6" cy="754.2" r="11.1"/>
<circle cx="136.2" cy="834.1" r="11.1"/>
<circle cx="274.5" cy="715.5" r="11.1"/>
<circle cx="150.0" cy="851.2" r="11.1"/>
<circle cx="307.3" cy="683.6" r="11.1"/>
<circle cx="237.7" cy="746.2" r="11.1"/>
<circle cx="135.5" cy="851.1" r="11.1"/>
<circle cx="190.4" cy="837.0" r="11.1"/>
<circle cx="173.6" cy="834.0" r="11.1"/>
<circle cx="378.5" cy="552.3" r="11.1"/>
<circle cx="173.3" cy="836.7" r="11.1"/>
<circle cx="141.4" cy="849.7" r="11.1"/>
<circle cx="178.5" cy="798.3" r="11.1"/>
<circle cx="132.7" cy="838.0" r="11.1"/>
<circle cx="148.2" cy="831.7" r="11.1"/>
<circle cx="181.3" cy="776.3" r="11.1"/>
<circle cx="400.5" cy="585.9" r="11.1"/>
<circle cx="711.6" cy="264.6" r="11.1"/>
<circle cx="172.9" cy="805.6" r="11.1"/>
<circle cx="228.4" cy="719.2" r="11.1"/>
<circle cx="264.4" cy="672.5" r="11.1"/>
<circle cx="508.5" cy="486.9" r="11.1"/>
<circle cx="349.4" cy="634.3" r="11.1"/>
<circle cx="224.0" cy="726.7" r="11.1"/>
<circle cx="155.0" cy="778.7" r="11.1"/>
<circle cx="288.3" cy="678.9" r="11.1"/>
<circle cx="156.5" cy="852.4" r="11.1"/>
<circle cx="323.9" cy="683.8" r="11.1"/>
<circle cx="519.2" cy="372.2" r="11.1"/>
<circle cx="313.5" cy="632.6" r="11.1"/>
<circle cx="323.3" cy="687.5" r="11.1"/>
<circle cx="135.2" cy="843.1" r="11.1"/>
<circle cx="355.1" cy="562.4" r="11.1"/>
<circle cx="173.5" cy="794.7" r="11.1"/>
<circle cx="234.3" cy="725.3" r="11.1"/>
<circle cx="232.9" cy="730.1" r="11.1"/>
<circle cx="151.0" cy="826.0" r="11.1"/>
<circle cx="351.5" cy="623.1" r="11.1"/>
<circle cx="209.9" cy="757.6" r="11.1"/>
<circle cx="282.3" cy="741.6" r="11.1"/>
<circle cx="490.7" cy="467.2" r="11.1"/>
<circle cx="244.7" cy="708.9" r="11.1"/>
<circle cx="139.8" cy="840.9" r="11.1"/>
<circle cx="349.7" cy="556.6" r="11.1"/>
<circle cx="290.4" cy="663.4" r="11.1"/>
<circle cx="779.2" cy="223.5" r="11.1"/>
<circle cx="266.0" cy="750.6" r="11.1"/>
<circle cx="322.7" cy="619.5" r="11.1"/>
<circle cx="161.3" cy="834.2" r="11.1"/>
<circle cx="219.5" cy="724.4" r="11.1"/>
<circle cx="309.4" cy="648.4" r="11.1"/>
<circle cx="169.9" cy="757.2" r="11.1"/>
<circle cx="181.7" cy="780.1" r="11.1"/>
<circle cx="260.7" cy="721.5" r="11.1"/>
<circle cx="172.3" cy="767.2" r="11.1"/>
<circle cx="193.8" cy="730.9" r="11.1"/>
<circle cx="356.7" cy="557.8" r="11.1"/>
<circle cx="154.7" cy="835.4" r="11.1"/>
<circle cx="165.0" cy="808.2" r="11.1"/>
<circle cx="132.8" cy="821.5" r="11.1"/>
<circle cx="356.3" cy="571.7" r="11.1"/>
<circle cx="311.5" cy="662.8" r="11.1"/>
<circle cx="131.5" cy="835.9" r="11.1"/>
<circle cx="341.4" cy="657.1" r="11.1"/>
<circle cx="303.4" cy="714.0" r="11.1"/>
<circle cx="159.9" cy="800.7" r="11.1"/>
<circle cx="229.2" cy="718.1" r="11.1"/>
<circle cx="148.9" cy="819.6" r="11.1"/>
<circle cx="226.3" cy="762.9" r="11.1"/>
<circle cx="140.8" cy="820.4" r="11.1"/>
<circle cx="181.6" cy="824.1" r="11.1"/>
<circle cx="290.0" cy="729.1" r="11.1"/>
<circle cx="216.2" cy="763.5" r="11.1"/>
<circle cx="523.4" cy="379.9" r="11.1"/>
<circle cx="165.1" cy="818.3" r="11.1"/>
<circle cx="241.6" cy="763.3" r="11.1"/>
<circle cx="146.1" cy="833.6" r="11.1"/>
<circle cx="212.0" cy="737.0" r="11.1"/>
<circle cx="522.8" cy="404.5" r="11.1"/>
<circle cx="144.8" cy="811.5" r="11.1"/>
<circle cx="137.0" cy="838.4" r="11.1"/>
<circle cx="177.5" cy="801.0" r="11.1"/>
<circle cx="681.4" cy="278.9" r="11.1"/>
<circle cx="177.6" cy="747.2" r="11.1"/>
<circle cx="143.6" cy="850.1" r="11.1"/>
<circle cx="152.7" cy="822.4" r="11.1"/>
<circle cx="236.5" cy="736.1" r="11.1"/>
<circle cx="261.4" cy="711.2" r="11.1"/>
<circle cx="157.8" cy="793.0" r="11.1"/>
<circle cx="274.0" cy="666.3" r="11.1"/>
<circle cx="132.3" cy="846.4" r="11.1"/>
<circle cx="326.3" cy="641.3" r="11.1"/>
<circle cx="251.8" cy="774.0" r="11.1"/>
<circle cx="322.9" cy="693.2" r="11.1"/>
<circle cx="153.4" cy="804.1" r="11.1"/>
<circle cx="132.3" cy="847.7" r="11.1"/>
<circle cx="139.9" cy="816.9" r="11.1"/>
<circle cx="172.1" cy="783.9" r="11.1"/>
<circle cx="375.2" cy="625.2" r="11.1"/>
<circle cx="242.0" cy="712.1" r="11.1"/>
<circle cx="163.9" cy="796.7" r="11.1"/>
<circle cx="148.2" cy="826.1" r="11.1"/>
<circle cx="134.2" cy="852.8" r="11.1"/>
<circle cx="138.1" cy="852.0" r="11.1"/>
<circle cx="147.5" cy="813.7" r="11.1"/>
<circle cx="167.3" cy="832.5" r="11.1"/>
<circle cx="150.5" cy="785.9" r="11.1"/>
<circle cx="338.1" cy="646.0" r="11.1"/>
<circle cx="225.2" cy="693.0" r="11.1"/>
<circle cx="360.8" cy="593.0" r="11.1"/>
<circle cx="313.5" cy="704.7" r="11.1"/>
<circle cx="286.2" cy="652.7" r="11.1"/>
<circle cx="204.0" cy="778.9" r="11.1"/>
<circle cx="336.6" cy="616.3" r="11.1"/>
<circle cx="224.7" cy="747.4" r="11.1"/>
<circle cx="134.6" cy="849.5" r="11.1"/>
<circle cx="271.5" cy="680.2" r="11.1"/>
<circle cx="158.6" cy="828.4" r="11.1"/>
<circle cx="138.6" cy="848.7" r="11.1"/>
<circle cx="328.7" cy="621.6" r="11.1"/>
<circle cx="262.3" cy="696.0" r="11.1"/>
<circle cx="177.7" cy="808.2" r="11.1"/>
<circle cx="262.4" cy="740.1" r="11.1"/>
<circle cx="203.7" cy="807.1" r="11.1"/>
<circle cx="345.8" cy="592.6" r="11.1"/>
<circle cx="229.9" cy="757.5" r="11.1"/>
<circle cx="343.6" cy="599.5" r="11.1"/>
<circle cx="205.8" cy="760.9" r="11.1"/>
<circle cx="153.4" cy="826.1" r="11.1"/>
<circle cx="301.9" cy="666.2" r="11.1"/>
<circle cx="147.4" cy="835.7" r="11.1"/>
<circle cx="346.6" cy="608.0" r="11.1"/>
<circle cx="339.4" cy="486.8" r="11.1"/>
<circle cx="476.6" cy="481.0" r="11.1"/>
<circle cx="176.6" cy="772.6" r="11.1"/>
<circle cx="555.1" cy="480.4" r="11.1"/>
<circle cx="142.2" cy="818.3" r="11.1"/>
<circle cx="368.4" cy="556.7" r="11.1"/>
<circle cx="207.3" cy="770.2" r="11.1"/>
<circle cx="560.6" cy="483.9" r="11.1"/>
<circle cx="195.6" cy="780.4" r="11.1"/>
<circle cx="297.7" cy="652.4" r="11.1"/>
<circle cx="288.7" cy="677.9" r="11.1"/>
<circle cx="161.9" cy="819.4" r="11.1"/>
<circle cx="286.6" cy="737.1" r="11.1"/>
<circle cx="134.7" cy="842.1" r="11.1"/>
<circle cx="233.8" cy="701.0" r="11.1"/>
<circle cx="208.0" cy="802.8" r="11.1"/>
<circle cx="131.6" cy="824.5" r="11.1"/>
<circle cx="260.6" cy="678.3" r="11.1"/>
<circle cx="203.7" cy="762.2" r="11.1"/>
<circle cx="194.5" cy="768.0" r="11.1"/>
<circle cx="145.2" cy="847.6" r="11.1"/>
<circle cx="172.6" cy="780.4" r="11.1"/>
<circle cx="341.8" cy="641.1" r="11.1"/>
<circle cx="360.9" cy="549.4" r="11.1"/>
<circle cx="204.9" cy="724.3" r="11.1"/>
<circle cx="216.3" cy="784.9" r="11.1"/>
<circle cx="160.8" cy="777.2" r="11.1"/>
<circle cx="189.7" cy="803.5" r="11.1"/>
<circle cx="155.6" cy="827.9" r="11.1"/>
<circle cx="299.5" cy="632.1" r="11.1"/>
<circle cx="179.2" cy="777.6" r="11.1"/>
<circle cx="147.1" cy="816.1" r="11.1"/>
<circle cx="196.6" cy="747.8" r="11.1"/>
<circle cx="157.9" cy="795.2" r="11.1"/>
<circle cx="133.0" cy="840.3" r="11.1"/>
<circle cx="535.4" cy="341.8" r="11.1"/>
<circle cx="251.1" cy="710.4" r="11.1"/>
<circle cx="181.9" cy="808.2" r="11.1"/>
<circle cx="306.8" cy="672.9" r="11.1"/>
<circle cx="138.7" cy="852.6" r="11.1"/>
<circle cx="141.3" cy="852.5" r="11.1"/>
<circle cx="264.7" cy="693.3" r="11.1"/>
<circle cx="165.3" cy="848.6" r="11.1"/>
<circle cx="188.4" cy="793.2" r="11.1"/>
<circle cx="323.4" cy="650.8" r="11.1"/>
<circle cx="210.6" cy="732.4" r="11.1"/>
<circle cx="369.7" cy="579.6" r="11.1"/>
<circle cx="702.2" cy="343.3" r="11.1"/>
<circle cx="188.0" cy="811.9" r="11.1"/>
<circle cx="142.2" cy="841.3" r="11.1"/>
<circle cx="209.2" cy="753.7" r="11.1"/>
<circle cx="327.5" cy="651.1" r="11.1"/>
<circle cx="146.2" cy="816.8" r="11.1"/>
<circle cx="227.1" cy="774.4" r="11.1"/>
<circle cx="357.8" cy="582.7" r="11.1"/>
<circle cx="144.6" cy="829.9" r="11.1"/>
<circle cx="483.3" cy="473.0" r="11.1"/>
<circle cx="179.7" cy="800.1" r="11.1"/>
<circle cx="145.9" cy="816.6" r="11.1"/>
<circle cx="285.1" cy="655.0" r="11.1"/>
<circle cx="145.7" cy="816.9" r="11.1"/>
<circle cx="151.9" cy="822.3" r="11.1"/>
<circle cx="136.3" cy="848.9" r="11.1"/>
<circle cx="328.5" cy="582.7" r="11.1"/>
<circle cx="198.0" cy="737.5" r="11.1"/>
<circle cx="259.8" cy="761.3" r="11.1"/>
<circle cx="154.0" cy="842.7" r="11.1"/>
<circle cx="195.0" cy="689.9" r="11.1"/>
<circle cx="197.5" cy="753.2" r="11.1"/>
<circle cx="445.2" cy="529.5" r="11.1"/>
<circle cx="428.7" cy="528.2" r="11.1"/>
<circle cx="151.7" cy="812.4" r="11.1"/>
<circle cx="397.5" cy="667.2" r="11.1"/>
<circle cx="333.3" cy="670.0" r="11.1"/>
<circle cx="156.2" cy="816.3" r="11.1"/>
<circle cx="158.2" cy="846.8" r="11.1"/>
<circle cx="269.8" cy="645.1" r="11.1"/>
<circle cx="315.2" cy="703.6" r="11.1"/>
<circle cx="155.6" cy="836.3" r="11.1"/>
<circle cx="191.1" cy="740.4" r="11.1"/>
<circle cx="155.7" cy="796.8" r="11.1"/>
<circle cx="177.3" cy="771.4" r="11.1"/>
<circle cx="149.3" cy="822.7" r="11.1"/>
<circle cx="150.9" cy="829.1" r="11.1"/>
<circle cx="144.3" cy="805.1" r="11.1"/>
<circle cx="225.0" cy="738.1" r="11.1"/>
<circle cx="328.6" cy="654.5" r="11.1"/>
<circle cx="179.8" cy="824.1" r="11.1"/>
<circle cx="499.9" cy="439.3" r="11.1"/>
<circle cx="144.8" cy="824.2" r="11.1"/>
<circle cx="368.1" cy="533.2" r="11.1"/>
<circle cx="223.2" cy="748.1" r="11.1"/>
<circle cx="220.1" cy="728.1" r="11.1"/>
<circle cx="202.8" cy="789.7" r="11.1"/>
<circle cx="151.5" cy="814.7" r="11.1"/>
<circle cx="202.5" cy="753.9" r="11.1"/>
<circle cx="141.4" cy="844.6" r="11.1"/>
<circle cx="345.6" cy="659.3" r="11.1"/>
<circle cx="187.9" cy="812.4" r="11.1"/>
<circle cx="347.8" cy="583.8" r="11.1"/>
<circle cx="212.2" cy="707.2" r="11.1"/>
<circle cx="191.4" cy="820.5" r="11.1"/>
<circle cx="224.1" cy="752.5" r="11.1"/>
<circle cx="177.9" cy="774.9" r="11.1"/>
<circle cx="134.8" cy="844.7" r="11.1"/>
<circle cx="147.8" cy="810.5" r="11.1"/>
<circle cx="146.3" cy="848.9" r="11.1"/>
<circle cx="243.0" cy="721.0" r="11.1"/>
<circle cx="149.5" cy="834.8" r="11.1"/>
<circle cx="326.5" cy="626.7" r="11.1"/>
<circle cx="178.6" cy="802.0" r="11.1"/>
<circle cx="456.4" cy="478.2" r="11.1"/>
<circle cx="475.7" cy="514.7" r="11.1"/>
<circle cx="191.0" cy="761.0" r="11.1"/>
<circle cx="346.4" cy="623.8" r="11.1"/>
<circle cx="209.7" cy="747.2" r="11.1"/>
<circle cx="140.6" cy="830.1" r="11.1"/>
<circle cx="276.3" cy="733.2" r="11.1"/>
<circle cx="141.7" cy="819.6" r="11.1"/>
<circle cx="148.9" cy="839.1" r="11.1"/>
<circle cx="358.3" cy="585.3" r="11.1"/>
<circle cx="144.3" cy="796.9" r="11.1"/>
<circle cx="207.8" cy="727.6" r="11.1"/>
<circle cx="140.5" cy="847.8" r="11.1"/>
<circle cx="320.8" cy="610.2" r="11.1"/>
<circle cx="149.3" cy="849.0" r="11.1"/>
<circle cx="174.2" cy="801.4" r="11.1"/>
<circle cx="151.8" cy="837.9" r="11.1"/>
<circle cx="189.3" cy="812.3" r="11.1"/>
<circle cx="451.5" cy="528.3" r="11.1"/>
<circle cx="372.9" cy="591.8" r="11.1"/>
<circle cx="197.7" cy="821.5" r="11.1"/>
<circle cx="147.3" cy="735.4" r="11.1"/>
<circle cx="251.5" cy="686.3" r="11.1"/>
<circle cx="286.8" cy="694.1" r="11.1"/>
<circle cx="363.7" cy="605.2" r="11.1"/>
<circle cx="196.4" cy="771.1" r="11.1"/>
<circle cx="166.5" cy="816.0" r="11.1"/>
<circle cx="186.4" cy="820.3" r="11.1"/>
<circle cx="152.6" cy="852.8" r="11.1"/>
<circle cx="160.8" cy="784.4" r="11.1"/>
<circle cx="340.0" cy="649.3" r="11.1"/>
<circle cx="269.4" cy="664.8" r="11.1"/>
<circle cx="359.3" cy="606.2" r="11.1"/>
<circle cx="201.2" cy="755.2" r="11.1"/>
<circle cx="206.9" cy="801.6" r="11.1"/>
<circle cx="132.5" cy="853.2" r="11.1"/>
<circle cx="352.8" cy="635.1" r="11.1"/>
<circle cx="161.1" cy="853.1" r="11.1"/>
<circle cx="304.5" cy="671.8" r="11.1"/>
<circle cx="305.8" cy="674.4" r="11.1"/>
<circle cx="253.3" cy="742.9" r="11.1"/>
<circle cx="141.9" cy="827.5" r="11.1"/>
<circle cx="207.7" cy="819.9" r="11.1"/>
<circle cx="266.0" cy="716.8" r="11.1"/>
<circle cx="229.5" cy="728.2" r="11.1"/>
<circle cx="361.9" cy="511.4" r="11.1"/>
<circle cx="177.9" cy="824.9" r="11.1"/>
<circle cx="340.1" cy="592.0" r="11.1"/>
<circle cx="317.7" cy="614.8" r="11.1"/>
<circle cx="361.9" cy="611.6" r="11.1"/>
<circle cx="326.6" cy="670.3" r="11.1"/>
<circle cx="173.8" cy="830.8" r="11.1"/>
<circle cx="134.2" cy="853.2" r="11.1"/>
<circle cx="347.5" cy="588.5" r="11.1"/>
<circle cx="336.4" cy="653.4" r="11.1"/>
<circle cx="152.9" cy="847.8" r="11.1"/>
<circle cx="230.7" cy="758.4" r="11.1"/>
<circle cx="262.0" cy="689.7" r="11.1"/>
<circle cx="320.7" cy="616.8" r="11.1"/>
<circle cx="146.5" cy="847.9" r="11.1"/>
<circle cx="131.9" cy="848.9" r="11.1"/>
<circle cx="160.5" cy="792.9" r="11.1"/>
<circle cx="312.8" cy="673.1" r="11.1"/>
<circle cx="165.6" cy="818.6" r="11.1"/>
<circle cx="133.4" cy="846.9" r="11.1"/>
<circle cx="298.5" cy="656.0" r="11.1"/>
<circle cx="489.6" cy="439.2" r="11.1"/>
<circle cx="246.7" cy="705.9" r="11.1"/>
<circle cx="152.7" cy="835.6" r="11.1"/>
<circle cx="168.1" cy="801.4" r="11.1"/>
<circle cx="168.3" cy="843.7" r="11.1"/>
<circle cx="139.0" cy="847.6" r="11.1"/>
<circle cx="131.1" cy="851.7" r="11.1"/>
<circle cx="220.4" cy="776.8" r="11.1"/>
<circle cx="288.3" cy="691.5" r="11.1"/>
<circle cx="201.8" cy="771.9" r="11.1"/>
<circle cx="152.6" cy="782.4" r="11.1"/>
<circle cx="144.8" cy="822.4" r="11.1"/>
<circle cx="246.1" cy="743.2" r="11.1"/>
<circle cx="226.4" cy="666.1" r="11.1"/>
<circle cx="137.0" cy="843.1" r="11.1"/>
<circle cx="353.6" cy="572.5" r="11.1"/>
<circle cx="185.1" cy="781.9" r="11.1"/>
<circle cx="144.6" cy="809.5" r="11.1"/>
<circle cx="350.5" cy="592.6" r="11.1"/>
<circle cx="185.4" cy="760.0" r="11.1"/>
<circle cx="212.5" cy="732.0" r="11.1"/>
<circle cx="143.0" cy="812.2" r="11.1"/>
<circle cx="134.6" cy="847.7" r="11.1"/>
<circle cx="223.9" cy="786.4" r="11.1"/>
<circle cx="156.9" cy="825.6" r="11.1"/>
<circle cx="243.0" cy="726.9" r="11.1"/>
<circle cx="160.7" cy="842.1" r="11.1"/>
<circle cx="367.2" cy="588.4" r="11.1"/>
<circle cx="142.0" cy="844.4" r="11.1"/>
<circle cx="169.9" cy="804.7" r="11.1"/>
<circle cx="186.0" cy="755.7" r="11.1"/>
<circle cx="242.5" cy="756.6" r="11.1"/>
<circle cx="210.3" cy="711.0" r="11.1"/>
<circle cx="393.4" cy="521.3" r="11.1"/>
<circle cx="327.0" cy="636.5" r="11.1"/>
<circle cx="193.1" cy="771.7" r="11.1"/>
<circle cx="233.3" cy="751.8" r="11.1"/>
<circle cx="166.8" cy="843.2" r="11.1"/>
<circle cx="187.3" cy="783.6" r="11.1"/>
<circle cx="131.6" cy="846.3" r="11.1"/>
<circle cx="191.9" cy="835.5" r="11.1"/>
<circle cx="244.5" cy="717.4" r="11.1"/>
<circle cx="163.5" cy="813.6" r="11.1"/>
<circle cx="150.0" cy="789.1" r="11.1"/>
<circle cx="144.4" cy="833.6" r="11.1"/>
<circle cx="211.3" cy="739.1" r="11.1"/>
<circle cx="186.6" cy="736.3" r="11.1"/>
<circle cx="346.4" cy="628.7" r="11.1"/>
<circle cx="342.2" cy="602.9" r="11.1"/>
<circle cx="146.4" cy="832.6" r="11.1"/>
<circle cx="173.4" cy="780.7" r="11.1"/>
<circle cx="134.2" cy="836.6" r="11.1"/>
<circle cx="223.7" cy="775.3" r="11.1"/>
<circle cx="201.0" cy="761.2" r="11.1"/>
<circle cx="183.8" cy="821.2" r="11.1"/>
<circle cx="303.5" cy="629.3" r="11.1"/>
<circle cx="134.0" cy="846.3" r="11.1"/>
<circle cx="298.3" cy="679.7" r="11.1"/>
<circle cx="180.3" cy="743.9" r="11.1"/>
<circle cx="194.2" cy="739.7" r="11.1"/>
<circle cx="161.5" cy="792.9" r="11.1"/>
<circle cx="188.9" cy="768.2" r="11.1"/>
<circle cx="207.0" cy="778.0" r="11.1"/>
<circle cx="182.4" cy="810.8" r="11.1"/>
<circle cx="239.5" cy="699.6" r="11.1"/>
<circle cx="268.6" cy="667.2" r="11.1"/>
<circle cx="373.3" cy="561.8" r="11.1"/>
<circle cx="182.8" cy="794.0" r="11.1"/>
<circle cx="143.5" cy="836.6" r="11.1"/>
<circle cx="191.2" cy="753.3" r="11.1"/>
<circle cx="132.0" cy="851.0" r="11.1"/>
<circle cx="302.8" cy="719.9" r="11.1"/>
<circle cx="203.3" cy="786.3" r="11.1"/>
<circle cx="270.1" cy="665.0" r="11.1"/>
<circle cx="136.2" cy="827.7" r="11.1"/>
<circle cx="191.0" cy="817.1" r="11.1"/>
<circle cx="263.3" cy="694.4" r="11.1"/>
<circle cx="138.8" cy="853.0" r="11.1"/>
<circle cx="153.7" cy="832.3" r="11.1"/>
<circle cx="132.2" cy="852.5" r="11.1"/>
<circle cx="247.1" cy="752.8" r="11.1"/>
<circle cx="378.2" cy="649.3" r="11.1"/>
<circle cx="134.0" cy="847.6" r="11.1"/>
<circle cx="251.1" cy="715.8" r="11.1"/>
<circle cx="384.2" cy="505.6" r="11.1"/>
<circle cx="220.7" cy="697.9" r="11.1"/>
<circle cx="140.9" cy="851.5" r="11.1"/>
<circle cx="222.7" cy="772.1" r="11.1"/>
<circle cx="572.2" cy="380.0" r="11.1"/>
<circle cx="218.2" cy="718.4" r="11.1"/>
<circle cx="135.6" cy="815.9" r="11.1"/>
<circle cx="142.7" cy="835.4" r="11.1"/>
<circle cx="145.8" cy="794.2" r="11.1"/>
<circle cx="163.7" cy="809.4" r="11.1"/>
<circle cx="138.4" cy="839.7" r="11.1"/>
<circle cx="141.4" cy="852.5" r="11.1"/>
<circle cx="188.3" cy="778.7" r="11.1"/>
<circle cx="182.0" cy="784.2" r="11.1"/>
<circle cx="194.7" cy="754.0" r="11.1"/>
<circle cx="353.8" cy="647.4" r="11.1"/>
<circle cx="149.3" cy="820.6" r="11.1"/>
<circle cx="248.8" cy="698.4" r="11.1"/>
<circle cx="259.0" cy="752.6" r="11.1"/>
<circle cx="136.9" cy="830.1" r="11.1"/>
<circle cx="302.0" cy="634.6" r="11.1"/>
<circle cx="239.0" cy="703.7" r="11.1"/>
<circle cx="611.2" cy="371.3" r="11.1"/>
<circle cx="135.7" cy="843.4" r="11.1"/>
<circle cx="211.0" cy="816.5" r="11.1"/>
<circle cx="132.2" cy="848.8" r="11.1"/>
<circle cx="191.1" cy="836.3" r="11.1"/>
<circle cx="286.7" cy="725.4" r="11.1"/>
<circle cx="164.8" cy="785.9" r="11.1"/>
<circle cx="200.7" cy="720.0" r="11.1"/>
<circle cx="142.7" cy="849.2" r="11.1"/>
<circle cx="298.1" cy="713.3" r="11.1"/>
<circle cx="381.3" cy="538.8" r="11.1"/>
<circle cx="279.4" cy="711.7" r="11.1"/>
<circle cx="299.2" cy="699.8" r="11.1"/>
<circle cx="457.9" cy="465.1" r="11.1"/>
<circle cx="181.6" cy="830.6" r="11.1"/>
<circle cx="162.2" cy="818.1" r="11.1"/>
<circle cx="158.1" cy="820.1" r="11.1"/>
<circle cx="207.9" cy="764.4" r="11.1"/>
<circle cx="312.7" cy="650.4" r="11.1"/>
<circle cx="139.7" cy="848.3" r="11.1"/>
<circle cx="200.3" cy="822.9" r="11.1"/>
<circle cx="180.6" cy="792.8" r="11.1"/>
<circle cx="136.7" cy="829.9" r="11.1"/>
<circle cx="342.0" cy="617.4" r="11.1"/>
<circle cx="233.4" cy="736.3" r="11.1"/>
<circle cx="209.9" cy="814.0" r="11.1"/>
<circle cx="347.5" cy="617.5" r="11.1"/>
<circle cx="200.0" cy="720.8" r="11.1"/>
<circle cx="145.8" cy="798.3" r="11.1"/>
<circle cx="188.1" cy="797.1" r="11.1"/>
<circle cx="145.4" cy="847.8" r="11.1"/>
<circle cx="339.8" cy="662.8" r="11.1"/>
<circle cx="353.8" cy="618.0" r="11.1"/>
<circle cx="165.3" cy="788.6" r="11.1"/>
<circle cx="595.3" cy="356.9" r="11.1"/>
<circle cx="188.0" cy="757.2" r="11.1"/>
<circle cx="269.0" cy="691.2" r="11.1"/>
<circle cx="179.8" cy="744.5" r="11.1"/>
<circle cx="372.2" cy="560.8" r="11.1"/>
<circle cx="357.6" cy="666.8" r="11.1"/>
<circle cx="370.1" cy="597.2" r="11.1"/>
<circle cx="191.7" cy="771.0" r="11.1"/>
<circle cx="193.0" cy="758.6" r="11.1"/>
<circle cx="162.7" cy="816.8" r="11.1"/>
<circle cx="455.9" cy="501.1" r="11.1"/>
<circle cx="296.8" cy="726.3" r="11.1"/>
<circle cx="213.4" cy="726.0" r="11.1"/>
<circle cx="177.8" cy="747.0" r="11.1"/>
<circle cx="205.3" cy="764.2" r="11.1"/>
<circle cx="135.4" cy="848.5" r="11.1"/>
<circle cx="133.3" cy="820.4" r="11.1"/>
<circle cx="317.2" cy="665.7" r="11.1"/>
<circle cx="257.6" cy="724.7" r="11.1"/>
<circle cx="235.4" cy="718.1" r="11.1"/>
<circle cx="750.6" cy="196.4" r="11.1"/>
<circle cx="149.2" cy="816.8" r="11.1"/>
<circle cx="182.8" cy="740.9" r="11.1"/>
<circle cx="171.4" cy="814.0" r="11.1"/>
<circle cx="191.9" cy="786.9" r="11.1"/>
<circle cx="188.3" cy="807.3" r="11.1"/>
<circle cx="151.1" cy="826.2" r="11.1"/>
<circle cx="170.8" cy="809.6" r="11.1"/>
<circle cx="180.9" cy="820.4" r="11.1"/>
<circle cx="290.7" cy="636.0" r="11.1"/>
<circle cx="358.4" cy="552.7" r="11.1"/>
<circle cx="346.8" cy="587.4" r="11.1"/>
<circle cx="201.4" cy="750.9" r="11.1"/>
<circle cx="141.3" cy="849.2" r="11.1"/>
<circle cx="240.0" cy="728.7" r="11.1"/>
<circle cx="142.1" cy="838.6" r="11.1"/>
<circle cx="133.5" cy="831.3" r="11.1"/>
<circle cx="211.6" cy="750.8" r="11.1"/>
<circle cx="160.4" cy="818.9" r="11.1"/>
<circle cx="263.7" cy="703.3" r="11.1"/>
<circle cx="477.1" cy="440.7" r="11.1"/>
<circle cx="131.1" cy="852.4" r="11.1"/>
<circle cx="505.8" cy="567.7" r="11.1"/>
<circle cx="147.2" cy="846.3" r="11.1"/>
<circle cx="148.0" cy="814.6" r="11.1"/>
<circle cx="176.6" cy="830.7" r="11.1"/>
<circle cx="139.5" cy="806.4" r="11.1"/>
<circle cx="137.7" cy="828.0" r="11.1"/>
<circle cx="243.4" cy="750.1" r="11.1"/>
<circle cx="199.0" cy="774.8" r="11.1"/>
<circle cx="135.3" cy="847.4" r="11.1"/>
<circle cx="181.5" cy="801.7" r="11.1"/>
<circle cx="316.4" cy="685.1" r="11.1"/>
<circle cx="143.0" cy="844.1" r="11.1"/>
<circle cx="414.7" cy="517.4" r="11.1"/>
<circle cx="134.6" cy="851.5" r="11.1"/>
<circle cx="153.5" cy="811.1" r="11.1"/>
<circle cx="133.0" cy="853.3" r="11.1"/>
<circle cx="217.0" cy="750.7" r="11.1"/>
<circle cx="257.0" cy="712.6" r="11.1"/>
<circle cx="609.7" cy="332.3" r="11.1"/>
<circle cx="171.1" cy="825.2" r="11.1"/>
<circle cx="136.1" cy="851.3" r="11.1"/>
<circle cx="257.2" cy="767.6" r="11.1"/>
<circle cx="288.8" cy="662.8" r="11.1"/>
<circle cx="150.7" cy="827.8" r="11.1"/>
<circle cx="265.2" cy="691.3" r="11.1"/>
<circle cx="245.4" cy="712.8" r="11.1"/>
<circle cx="343.9" cy="609.7" r="11.1"/>
<circle cx="271.6" cy="656.6" r="11.1"/>
<circle cx="142.9" cy="837.1" r="11.1"/>
<circle cx="174.7" cy="767.3" r="11.1"/>
<circle cx="355.1" cy="668.9" r="11.1"/>
<circle cx="141.7" cy="832.7" r="11.1"/>
<circle cx="140.6" cy="851.3" r="11.1"/>
<circle cx="195.0" cy="795.1" r="11.1"/>
<circle cx="215.2" cy="737.8" r="11.1"/>
<circle cx="348.4" cy="611.8" r="11.1"/>
<circle cx="219.3" cy="712.8" r="11.1"/>
<circle cx="152.7" cy="843.4" r="11.1"/>
<circle cx="208.5" cy="795.7" r="11.1"/>
<circle cx="145.2" cy="811.2" r="11.1"/>
<circle cx="234.4" cy="762.5" r="11.1"/>
<circle cx="325.1" cy="624.5" r="11.1"/>
<circle cx="187.2" cy="538.8" r="11.1"/>
<circle cx="243.6" cy="712.5" r="11.1"/>
<circle cx="369.5" cy="595.1" r="11.1"/>
<circle cx="320.2" cy="626.9" r="11.1"/>
<circle cx="165.9" cy="786.1" r="11.1"/>
<circle cx="279.0" cy="679.0" r="11.1"/>
<circle cx="361.6" cy="618.7" r="11.1"/>
<circle cx="159.8" cy="797.9" r="11.1"/>
<circle cx="426.6" cy="503.3" r="11.1"/>
<circle cx="348.2" cy="606.9" r="11.1"/>
<circle cx="143.3" cy="812.9" r="11.1"/>
<circle cx="194.1" cy="771.8" r="11.1"/>
<circle cx="161.2" cy="785.6" r="11.1"/>
<circle cx="216.4" cy="718.1" r="11.1"/>
<circle cx="370.4" cy="574.6" r="11.1"/>
<circle cx="256.5" cy="748.9" r="11.1"/>
<circle cx="177.1" cy="775.6" r="11.1"/>
<circle cx="183.5" cy="777.8" r="11.1"/>
<circle cx="138.2" cy="827.8" r="11.1"/>
<circle cx="219.7" cy="771.9" r="11.1"/>
<circle cx="322.2" cy="629.4" r="11.1"/>
<circle cx="182.8" cy="740.8" r="11.1"/>
<circle cx="149.0" cy="847.7" r="11.1"/>
<circle cx="153.8" cy="848.4" r="11.1"/>
<circle cx="154.8" cy="831.4" r="11.1"/>
<circle cx="170.8" cy="791.4" r="11.1"/>
<circle cx="141.9" cy="853.4" r="11.1"/>
<circle cx="290.0" cy="651.7" r="11.1"/>
<circle cx="229.7" cy="743.4" r="11.1"/>
<circle cx="361.5" cy="615.7" r="11.1"/>
<circle cx="531.8" cy="425.8" r="11.1"/>
<circle cx="185.6" cy="803.7" r="11.1"/>
<circle cx="147.9" cy="838.8" r="11.1"/>
<circle cx="178.0" cy="815.6" r="11.1"/>
<circle cx="283.9" cy="582.1" r="11.1"/>
<circle cx="230.7" cy="763.7" r="11.1"/>
<circle cx="216.0" cy="801.2" r="11.1"/>
<circle cx="133.2" cy="851.5" r="11.1"/>
<circle cx="295.2" cy="699.2" r="11.1"/>
<circle cx="132.3" cy="851.8" r="11.1"/>
<circle cx="302.1" cy="639.1" r="11.1"/>
<circle cx="258.0" cy="671.9" r="11.1"/>
<circle cx="321.8" cy="646.0" r="11.1"/>
<circle cx="322.9" cy="593.6" r="11.1"/>
<circle cx="153.8" cy="838.6" r="11.1"/>
<circle cx="163.8" cy="813.2" r="11.1"/>
<circle cx="167.7" cy="806.5" r="11.1"/>
<circle cx="225.5" cy="772.4" r="11.1"/>
<circle cx="255.9" cy="664.0" r="11.1"/>
<circle cx="231.9" cy="765.6" r="11.1"/>
<circle cx="219.3" cy="721.7" r="11.1"/>
<circle cx="153.0" cy="851.1" r="11.1"/>
<circle cx="223.5" cy="778.4" r="11.1"/>
<circle cx="306.7" cy="715.7" r="11.1"/>
<circle cx="227.0" cy="736.8" r="11.1"/>
<circle cx="145.6" cy="822.4" r="11.1"/>
<circle cx="230.9" cy="772.9" r="11.1"/>
<circle cx="145.9" cy="810.7" r="11.1"/>
<circle cx="208.4" cy="722.3" r="11.1"/>
<circle cx="268.2" cy="689.9" r="11.1"/>
<circle cx="219.2" cy="699.5" r="11.1"/>
<circle cx="216.7" cy="786.0" r="11.1"/>
<circle cx="158.5" cy="773.2" r="11.1"/>
<circle cx="226.6" cy="733.9" r="11.1"/>
<circle cx="335.2" cy="627.7" r="11.1"/>
<circle cx="179.4" cy="808.1" r="11.1"/>
<circle cx="159.0" cy="813.8" r="11.1"/>
<circle cx="368.9" cy="551.1" r="11.1"/>
<circle cx="138.6" cy="851.1" r="11.1"/>
<circle cx="178.1" cy="819.4" r="11.1"/>
<circle cx="323.5" cy="639.1" r="11.1"/>
<circle cx="329.9" cy="587.7" r="11.1"/>
<circle cx="492.4" cy="513.6" r="11.1"/>
<circle cx="359.7" cy="587.3" r="11.1"/>
<circle cx="287.7" cy="656.9" r="11.1"/>
<circle cx="149.3" cy="787.9" r="11.1"/>
<circle cx="145.6" cy="839.9" r="11.1"/>
<circle cx="185.5" cy="770.9" r="11.1"/>
<circle cx="305.5" cy="691.5" r="11.1"/>
<circle cx="162.6" cy="815.3" r="11.1"/>
<circle cx="164.0" cy="845.3" r="11.1"/>
<circle cx="184.8" cy="775.2" r="11.1"/>
<circle cx="368.0" cy="606.2" r="11.1"/>
<circle cx="183.8" cy="739.7" r="11.1"/>
<circle cx="145.9" cy="812.8" r="11.1"/>
<circle cx="332.9" cy="604.9" r="11.1"/>
<circle cx="300.4" cy="561.9" r="11.1"/>
<circle cx="168.3" cy="825.4" r="11.1"/>
<circle cx="208.6" cy="720.1" r="11.1"/>
<circle cx="146.3" cy="851.4" r="11.1"/>
<circle cx="183.0" cy="805.7" r="11.1"/>
<circle cx="190.1" cy="732.1" r="11.1"/>
<circle cx="684.8" cy="325.1" r="11.1"/>
<circle cx="333.5" cy="622.6" r="11.1"/>
<circle cx="144.4" cy="831.9" r="11.1"/>
<circle cx="264.1" cy="676.0" r="11.1"/>
<circle cx="366.1" cy="560.7" r="11.1"/>
<circle cx="169.8" cy="802.3" r="11.1"/>
<circle cx="151.3" cy="814.4" r="11.1"/>
<circle cx="136.7" cy="834.1" r="11.1"/>
<circle cx="342.8" cy="648.5" r="11.1"/>
<circle cx="567.6" cy="407.1" r="11.1"/>
<circle cx="200.5" cy="720.3" r="11.1"/>
<circle cx="371.2" cy="553.9" r="11.1"/>
<circle cx="391.3" cy="568.1" r="11.1"/>
<circle cx="541.9" cy="361.2" r="11.1"/>
<circle cx="253.1" cy="743.5" r="11.1"/>
<circle cx="144.9" cy="833.4" r="11.1"/>
<circle cx="190.1" cy="805.7" r="11.1"/>
<circle cx="186.3" cy="783.1" r="11.1"/>
<circle cx="159.7" cy="808.8" r="11.1"/>
<circle cx="366.4" cy="604.3" r="11.1"/>
<circle cx="150.3" cy="819.1" r="11.1"/>
<circle cx="227.2" cy="769.9" r="11.1"/>
<circle cx="288.1" cy="708.1" r="11.1"/>
<circle cx="251.7" cy="736.9" r="11.1"/>
<circle cx="189.1" cy="815.7" r="11.1"/>
<circle cx="140.2" cy="842.6" r="11.1"/>
<circle cx="203.5" cy="824.1" r="11.1"/>
<circle cx="201.9" cy="729.9" r="11.1"/>
<circle cx="152.6" cy="838.7" r="11.1"/>
<circle cx="138.1" cy="847.7" r="11.1"/>
</g>
<g stroke="#4472C4">
<circle cx="158.0" cy="835.3" r="11.1"/>
<circle cx="151.0" cy="849.5" r="11.1"/>
<circle cx="163.5" cy="836.0" r="11.1"/>
<circle cx="246.1" cy="758.9" r="11.1"/>
<circle cx="200.5" cy="728.5" r="11.1"/>
<circle cx="219.3" cy="710.3" r="11.1"/>
<circle cx="159.2" cy="804.9" r="11.1"/>
<circle cx="140.5" cy="828.7" r="11.1"/>
<circle cx="315.2" cy="629.5" r="11.1"/>
<circle cx="326.6" cy="703.3" r="11.1"/>
<circle cx="336.6" cy="622.4" r="11.1"/>
<circle cx="225.5" cy="758.2" r="11.1"/>
<circle cx="200.3" cy="760.1" r="11.1"/>
<circle cx="153.8" cy="831.2" r="11.1"/>
<circle cx="151.3" cy="823.8" r="11.1"/>
<circle cx="146.3" cy="840.4" r="11.1"/>
<circle cx="308.8" cy="697.6" r="11.1"/>
<circle cx="295.2" cy="678.1" r="11.1"/>
<circle cx="227.0" cy="740.6" r="11.1"/>
<circle cx="233.4" cy="744.9" r="11.1"/>
<circle cx="212.0" cy="738.3" r="11.1"/>
<circle cx="188.9" cy="792.0" r="11.1"/>
<circle cx="349.0" cy="656.6" r="11.1"/>
<circle cx="445.2" cy="565.7" r="11.1"/>
<circle cx="368.7" cy="546.1" r="11.1"/>
<circle cx="132.8" cy="848.7" r="11.1"/>
<circle cx="341.4" cy="630.7" r="11.1"/>
<circle cx="147.9" cy="814.1" r="11.1"/>
<circle cx="258.2" cy="777.2" r="11.1"/>
<circle cx="144.6" cy="821.2" r="11.1"/>
<circle cx="354.1" cy="679.1" r="11.1"/>
<circle cx="151.5" cy="831.8" r="11.1"/>
<circle cx="147.5" cy="818.8" r="11.1"/>
<circle cx="144.6" cy="837.3" r="11.1"/>
<circle cx="330.9" cy="639.5" r="11.1"/>
<circle cx="379.1" cy="722.4" r="11.1"/>
<circle cx="203.7" cy="758.6" r="11.1"/>
<circle cx="209.2" cy="751.3" r="11.1"/>
<circle cx="197.1" cy="769.0" r="11.1"/>
<circle cx="242.5" cy="758.2" r="11.1"/>
<circle cx="193.5" cy="816.6" r="11.1"/>
<circle cx="307.7" cy="652.7" r="11.1"/>
<circle cx="177.6" cy="804.1" r="11.1"/>
<circle cx="153.4" cy="812.7" r="11.1"/>
<circle cx="155.4" cy="850.2" r="11.1"/>
<circle cx="157.4" cy="852.2" r="11.1"/>
<circle cx="186.4" cy="806.5" r="11.1"/>
<circle cx="259.0" cy="741.3" r="11.1"/>
<circle cx="320.7" cy="612.8" r="11.1"/>
<circle cx="144.9" cy="846.8" r="11.1"/>
<circle cx="225.3" cy="689.9" r="11.1"/>
<circle cx="217.0" cy="777.1" r="11.1"/>
<circle cx="176.6" cy="809.3" r="11.1"/>
<circle cx="181.9" cy="797.3" r="11.1"/>
<circle cx="210.7" cy="776.9" r="11.1"/>
<circle cx="356.7" cy="576.4" r="11.1"/>
<circle cx="202.8" cy="755.7" r="11.1"/>
<circle cx="197.7" cy="810.8" r="11.1"/>
<circle cx="140.4" cy="826.4" r="11.1"/>
<circle cx="460.7" cy="416.9" r="11.1"/>
<circle cx="329.3" cy="603.8" r="11.1"/>
<circle cx="340.0" cy="694.4" r="11.1"/>
<circle cx="189.3" cy="810.9" r="11.1"/>
<circle cx="312.8" cy="671.8" r="11.1"/>
<circle cx="132.8" cy="850.1" r="11.1"/>
<circle cx="264.4" cy="686.5" r="11.1"/>
<circle cx="182.8" cy="768.4" r="11.1"/>
<circle cx="149.1" cy="803.6" r="11.1"/>
<circle cx="298.1" cy="709.9" r="11.1"/>
<circle cx="138.8" cy="849.1" r="11.1"/>
<circle cx="338.1" cy="675.1" r="11.1"/>
<circle cx="194.5" cy="669.4" r="11.1"/>
<circle cx="182.0" cy="809.7" r="11.1"/>
<circle cx="150.0" cy="803.7" r="11.1"/>
<circle cx="241.6" cy="717.5" r="11.1"/>
<circle cx="146.3" cy="799.8" r="11.1"/>
<circle cx="173.5" cy="796.3" r="11.1"/>
<circle cx="190.6" cy="831.0" r="11.1"/>
<circle cx="234.3" cy="710.6" r="11.1"/>
<circle cx="191.4" cy="758.1" r="11.1"/>
<circle cx="194.1" cy="759.0" r="11.1"/>
<circle cx="133.5" cy="828.7" r="11.1"/>
<circle cx="522.8" cy="544.6" r="11.1"/>
<circle cx="146.4" cy="848.6" r="11.1"/>
<circle cx="191.7" cy="755.7" r="11.1"/>
<circle cx="348.2" cy="628.1" r="11.1"/>
<circle cx="268.4" cy="753.9" r="11.1"/>
<circle cx="149.4" cy="804.4" r="11.1"/>
<circle cx="132.3" cy="853.2" r="11.1"/>
<circle cx="196.6" cy="749.0" r="11.1"/>
<circle cx="232.2" cy="753.9" r="11.1"/>
<circle cx="184.4" cy="760.7" r="11.1"/>
<circle cx="145.7" cy="826.0" r="11.1"/>
<circle cx="134.6" cy="852.9" r="11.1"/>
<circle cx="342.8" cy="612.1" r="11.1"/>
<circle cx="165.3" cy="813.4" r="11.1"/>
<circle cx="140.8" cy="837.2" r="11.1"/>
<circle cx="136.0" cy="820.2" r="11.1"/>
<circle cx="531.5" cy="400.7" r="11.1"/>
<circle cx="141.1" cy="827.5" r="11.1"/>
<circle cx="139.7" cy="842.2" r="11.1"/>
<circle cx="233.3" cy="724.9" r="11.1"/>
<circle cx="345.6" cy="639.6" r="11.1"/>
<circle cx="133.0" cy="852.1" r="11.1"/>
<circle cx="149.3" cy="852.8" r="11.1"/>
<circle cx="191.1" cy="808.0" r="11.1"/>
<circle cx="138.6" cy="843.0" r="11.1"/>
<circle cx="293.8" cy="690.3" r="11.1"/>
<circle cx="596.8" cy="505.0" r="11.1"/>
<circle cx="475.7" cy="497.3" r="11.1"/>
<circle cx="321.8" cy="687.6" r="11.1"/>
<circle cx="204.9" cy="801.1" r="11.1"/>
<circle cx="207.0" cy="807.7" r="11.1"/>
<circle cx="159.0" cy="848.5" r="11.1"/>
<circle cx="178.5" cy="787.7" r="11.1"/>
<circle cx="132.0" cy="847.7" r="11.1"/>
<circle cx="300.0" cy="707.3" r="11.1"/>
<circle cx="150.0" cy="798.2" r="11.1"/>
<circle cx="149.4" cy="825.2" r="11.1"/>
<circle cx="282.3" cy="712.4" r="11.1"/>
<circle cx="370.3" cy="553.0" r="11.1"/>
<circle cx="163.7" cy="813.0" r="11.1"/>
<circle cx="136.5" cy="849.6" r="11.1"/>
<circle cx="133.0" cy="840.3" r="11.1"/>
<circle cx="137.0" cy="844.3" r="11.1"/>
<circle cx="208.8" cy="747.1" r="11.1"/>
<circle cx="145.8" cy="829.8" r="11.1"/>
<circle cx="135.6" cy="846.7" r="11.1"/>
<circle cx="370.1" cy="626.3" r="11.1"/>
<circle cx="203.3" cy="789.0" r="11.1"/>
<circle cx="565.8" cy="517.1" r="11.1"/>
<circle cx="345.8" cy="593.3" r="11.1"/>
<circle cx="320.2" cy="674.8" r="11.1"/>
<circle cx="158.9" cy="821.5" r="11.1"/>
<circle cx="154.3" cy="810.3" r="11.1"/>
<circle cx="263.1" cy="662.4" r="11.1"/>
<circle cx="360.9" cy="563.3" r="11.1"/>
<circle cx="241.7" cy="726.9" r="11.1"/>
<circle cx="322.4" cy="711.2" r="11.1"/>
<circle cx="492.4" cy="553.8" r="11.1"/>
<circle cx="416.5" cy="486.2" r="11.1"/>
<circle cx="339.4" cy="492.6" r="11.1"/>
<circle cx="264.1" cy="697.1" r="11.1"/>
<circle cx="361.9" cy="633.3" r="11.1"/>
<circle cx="200.2" cy="746.3" r="11.1"/>
<circle cx="339.8" cy="670.9" r="11.1"/>
<circle cx="177.9" cy="754.3" r="11.1"/>
<circle cx="360.9" cy="565.5" r="11.1"/>
<circle cx="288.7" cy="668.7" r="11.1"/>
<circle cx="198.5" cy="805.5" r="11.1"/>
<circle cx="179.7" cy="803.6" r="11.1"/>
<circle cx="159.9" cy="792.1" r="11.1"/>
<circle cx="428.7" cy="563.0" r="11.1"/>
<circle cx="144.3" cy="845.8" r="11.1"/>
<circle cx="346.4" cy="630.2" r="11.1"/>
<circle cx="228.4" cy="748.5" r="11.1"/>
<circle cx="352.8" cy="617.4" r="11.1"/>
<circle cx="134.7" cy="840.8" r="11.1"/>
<circle cx="459.2" cy="606.7" r="11.1"/>
<circle cx="367.9" cy="571.3" r="11.1"/>
<circle cx="159.8" cy="797.6" r="11.1"/>
<circle cx="210.6" cy="736.6" r="11.1"/>
<circle cx="142.2" cy="824.8" r="11.1"/>
<circle cx="136.6" cy="846.6" r="11.1"/>
<circle cx="139.9" cy="813.1" r="11.1"/>
<circle cx="191.2" cy="775.4" r="11.1"/>
<circle cx="142.2" cy="848.5" r="11.1"/>
<circle cx="188.0" cy="827.7" r="11.1"/>
<circle cx="304.5" cy="690.4" r="11.1"/>
<circle cx="160.1" cy="817.0" r="11.1"/>
<circle cx="306.8" cy="668.2" r="11.1"/>
<circle cx="312.3" cy="697.0" r="11.1"/>
<circle cx="131.5" cy="851.6" r="11.1"/>
<circle cx="247.5" cy="778.8" r="11.1"/>
<circle cx="139.8" cy="848.7" r="11.1"/>
<circle cx="221.9" cy="776.1" r="11.1"/>
<circle cx="313.5" cy="613.2" r="11.1"/>
<circle cx="366.4" cy="657.4" r="11.1"/>
<circle cx="177.3" cy="778.0" r="11.1"/>
<circle cx="219.2" cy="767.4" r="11.1"/>
<circle cx="161.9" cy="814.8" r="11.1"/>
<circle cx="254.0" cy="720.8" r="11.1"/>
<circle cx="144.2" cy="852.7" r="11.1"/>
<circle cx="154.7" cy="804.4" r="11.1"/>
<circle cx="366.3" cy="599.4" r="11.1"/>
<circle cx="139.5" cy="850.4" r="11.1"/>
<circle cx="208.4" cy="765.2" r="11.1"/>
<circle cx="140.2" cy="824.0" r="11.1"/>
<circle cx="262.4" cy="743.6" r="11.1"/>
<circle cx="309.4" cy="669.3" r="11.1"/>
<circle cx="328.7" cy="645.4" r="11.1"/>
<circle cx="246.7" cy="694.0" r="11.1"/>
<circle cx="160.5" cy="814.9" r="11.1"/>
<circle cx="227.2" cy="794.7" r="11.1"/>
<circle cx="137.0" cy="851.9" r="11.1"/>
<circle cx="195.6" cy="754.8" r="11.1"/>
<circle cx="329.3" cy="625.5" r="11.1"/>
<circle cx="350.1" cy="661.7" r="11.1"/>
<circle cx="250.7" cy="709.3" r="11.1"/>
<circle cx="588.1" cy="444.1" r="11.1"/>
<circle cx="132.2" cy="847.9" r="11.1"/>
<circle cx="147.2" cy="849.3" r="11.1"/>
<circle cx="350.5" cy="618.2" r="11.1"/>
<circle cx="172.1" cy="812.1" r="11.1"/>
<circle cx="295.8" cy="663.2" r="11.1"/>
<circle cx="219.6" cy="733.5" r="11.1"/>
<circle cx="257.2" cy="778.3" r="11.1"/>
<circle cx="265.2" cy="734.9" r="11.1"/>
<circle cx="302.0" cy="683.1" r="11.1"/>
<circle cx="136.9" cy="847.7" r="11.1"/>
<circle cx="235.4" cy="717.0" r="11.1"/>
<circle cx="288.2" cy="679.4" r="11.1"/>
<circle cx="272.8" cy="726.7" r="11.1"/>
<circle cx="138.8" cy="837.0" r="11.1"/>
<circle cx="158.5" cy="788.5" r="11.1"/>
<circle cx="336.1" cy="610.7" r="11.1"/>
<circle cx="156.6" cy="812.1" r="11.1"/>
<circle cx="151.9" cy="849.7" r="11.1"/>
<circle cx="216.7" cy="728.3" r="11.1"/>
<circle cx="145.9" cy="805.0" r="11.1"/>
<circle cx="522.8" cy="514.3" r="11.1"/>
<circle cx="147.5" cy="837.8" r="11.1"/>
<circle cx="134.6" cy="844.9" r="11.1"/>
<circle cx="312.7" cy="645.5" r="11.1"/>
<circle cx="215.8" cy="762.7" r="11.1"/>
<circle cx="150.7" cy="849.9" r="11.1"/>
<circle cx="473.7" cy="403.1" r="11.1"/>
<circle cx="153.5" cy="827.6" r="11.1"/>
<circle cx="137.0" cy="830.0" r="11.1"/>
<circle cx="269.0" cy="766.2" r="11.1"/>
<circle cx="165.1" cy="837.1" r="11.1"/>
<circle cx="136.9" cy="848.9" r="11.1"/>
<circle cx="189.4" cy="820.3" r="11.1"/>
<circle cx="140.5" cy="851.3" r="11.1"/>
<circle cx="236.5" cy="742.0" r="11.1"/>
<circle cx="164.0" cy="850.4" r="11.1"/>
<circle cx="176.6" cy="806.7" r="11.1"/>
<circle cx="173.5" cy="832.3" r="11.1"/>
<circle cx="145.2" cy="853.4" r="11.1"/>
<circle cx="167.3" cy="811.7" r="11.1"/>
<circle cx="161.2" cy="800.4" r="11.1"/>
<circle cx="269.4" cy="742.4" r="11.1"/>
<circle cx="207.3" cy="737.8" r="11.1"/>
<circle cx="172.7" cy="773.7" r="11.1"/>
<circle cx="185.5" cy="815.4" r="11.1"/>
<circle cx="156.2" cy="784.9" r="11.1"/>
<circle cx="327.0" cy="634.8" r="11.1"/>
<circle cx="236.5" cy="758.4" r="11.1"/>
<circle cx="236.1" cy="705.1" r="11.1"/>
<circle cx="325.2" cy="643.3" r="11.1"/>
<circle cx="368.2" cy="600.8" r="11.1"/>
<circle cx="225.2" cy="730.4" r="11.1"/>
<circle cx="132.8" cy="851.5" r="11.1"/>
<circle cx="284.3" cy="681.8" r="11.1"/>
<circle cx="260.6" cy="666.6" r="11.1"/>
<circle cx="134.2" cy="851.2" r="11.1"/>
<circle cx="141.7" cy="851.4" r="11.1"/>
<circle cx="283.1" cy="676.0" r="11.1"/>
<circle cx="478.7" cy="583.8" r="11.1"/>
<circle cx="148.2" cy="827.2" r="11.1"/>
<circle cx="151.1" cy="847.5" r="11.1"/>
<circle cx="359.2" cy="611.6" r="11.1"/>
<circle cx="370.4" cy="622.4" r="11.1"/>
<circle cx="358.4" cy="607.9" r="11.1"/>
<circle cx="132.3" cy="850.4" r="11.1"/>
<circle cx="149.3" cy="820.0" r="11.1"/>
<circle cx="368.0" cy="647.2" r="11.1"/>
<circle cx="133.2" cy="851.4" r="11.1"/>
<circle cx="189.7" cy="840.6" r="11.1"/>
<circle cx="165.0" cy="838.2" r="11.1"/>
<circle cx="154.7" cy="801.9" r="11.1"/>
<circle cx="142.4" cy="850.0" r="11.1"/>
<circle cx="193.0" cy="736.8" r="11.1"/>
<circle cx="298.3" cy="673.8" r="11.1"/>
<circle cx="147.9" cy="847.6" r="11.1"/>
<circle cx="323.4" cy="610.5" r="11.1"/>
<circle cx="191.8" cy="804.1" r="11.1"/>
<circle cx="391.3" cy="541.8" r="11.1"/>
<circle cx="337.7" cy="645.8" r="11.1"/>
<circle cx="149.3" cy="824.2" r="11.1"/>
<circle cx="179.2" cy="808.0" r="11.1"/>
<circle cx="254.5" cy="751.7" r="11.1"/>
<circle cx="131.9" cy="849.2" r="11.1"/>
<circle cx="199.7" cy="809.3" r="11.1"/>
<circle cx="153.8" cy="850.7" r="11.1"/>
<circle cx="131.6" cy="848.0" r="11.1"/>
<circle cx="552.6" cy="424.5" r="11.1"/>
<circle cx="286.9" cy="711.8" r="11.1"/>
<circle cx="172.3" cy="806.0" r="11.1"/>
<circle cx="139.7" cy="853.2" r="11.1"/>
<circle cx="355.1" cy="682.1" r="11.1"/>
<circle cx="181.9" cy="791.4" r="11.1"/>
<circle cx="361.0" cy="583.6" r="11.1"/>
<circle cx="140.6" cy="836.4" r="11.1"/>
<circle cx="140.8" cy="837.5" r="11.1"/>
<circle cx="256.5" cy="764.7" r="11.1"/>
<circle cx="195.8" cy="833.8" r="11.1"/>
<circle cx="252.1" cy="748.4" r="11.1"/>
<circle cx="132.1" cy="852.2" r="11.1"/>
<circle cx="145.6" cy="852.0" r="11.1"/>
<circle cx="168.3" cy="843.2" r="11.1"/>
<circle cx="145.1" cy="835.7" r="11.1"/>
<circle cx="358.0" cy="595.0" r="11.1"/>
<circle cx="241.1" cy="720.8" r="11.1"/>
<circle cx="235.7" cy="754.2" r="11.1"/>
<circle cx="317.7" cy="653.5" r="11.1"/>
<circle cx="398.6" cy="603.8" r="11.1"/>
<circle cx="190.5" cy="792.9" r="11.1"/>
<circle cx="348.4" cy="624.9" r="11.1"/>
<circle cx="227.1" cy="785.6" r="11.1"/>
<circle cx="155.6" cy="828.7" r="11.1"/>
<circle cx="160.4" cy="843.6" r="11.1"/>
<circle cx="351.5" cy="646.5" r="11.1"/>
<circle cx="276.3" cy="752.1" r="11.1"/>
<circle cx="160.8" cy="788.9" r="11.1"/>
<circle cx="226.6" cy="741.7" r="11.1"/>
<circle cx="329.9" cy="600.9" r="11.1"/>
<circle cx="346.4" cy="643.4" r="11.1"/>
<circle cx="196.4" cy="806.8" r="11.1"/>
<circle cx="144.8" cy="846.1" r="11.1"/>
<circle cx="177.9" cy="789.6" r="11.1"/>
<circle cx="151.8" cy="823.8" r="11.1"/>
<circle cx="344.6" cy="598.5" r="11.1"/>
<circle cx="229.5" cy="741.2" r="11.1"/>
<circle cx="138.7" cy="851.5" r="11.1"/>
<circle cx="155.6" cy="835.0" r="11.1"/>
<circle cx="453.5" cy="489.7" r="11.1"/>
<circle cx="136.7" cy="844.1" r="11.1"/>
<circle cx="284.4" cy="704.5" r="11.1"/>
<circle cx="160.7" cy="844.0" r="11.1"/>
<circle cx="361.6" cy="664.9" r="11.1"/>
<circle cx="371.2" cy="543.0" r="11.1"/>
<circle cx="433.6" cy="563.4" r="11.1"/>
<circle cx="135.4" cy="848.7" r="11.1"/>
<circle cx="165.3" cy="834.9" r="11.1"/>
<circle cx="202.5" cy="767.9" r="11.1"/>
<circle cx="173.8" cy="831.7" r="11.1"/>
<circle cx="181.6" cy="823.8" r="11.1"/>
<circle cx="165.6" cy="815.7" r="11.1"/>
<circle cx="146.1" cy="842.2" r="11.1"/>
<circle cx="508.5" cy="458.3" r="11.1"/>
<circle cx="167.5" cy="786.3" r="11.1"/>
<circle cx="147.9" cy="851.4" r="11.1"/>
<circle cx="210.1" cy="718.0" r="11.1"/>
<circle cx="135.5" cy="832.9" r="11.1"/>
<circle cx="342.4" cy="667.1" r="11.1"/>
<circle cx="133.3" cy="831.0" r="11.1"/>
<circle cx="138.6" cy="849.4" r="11.1"/>
<circle cx="474.4" cy="583.1" r="11.1"/>
<circle cx="268.9" cy="757.4" r="11.1"/>
<circle cx="152.7" cy="818.8" r="11.1"/>
<circle cx="153.6" cy="820.2" r="11.1"/>
<circle cx="245.8" cy="785.5" r="11.1"/>
<circle cx="179.8" cy="850.2" r="11.1"/>
<circle cx="143.0" cy="850.7" r="11.1"/>
<circle cx="158.1" cy="817.5" r="11.1"/>
<circle cx="251.8" cy="746.7" r="11.1"/>
<circle cx="259.8" cy="773.9" r="11.1"/>
<circle cx="178.6" cy="811.3" r="11.1"/>
<circle cx="181.3" cy="828.1" r="11.1"/>
<circle cx="145.9" cy="842.0" r="11.1"/>
<circle cx="279.0" cy="685.0" r="11.1"/>
<circle cx="298.9" cy="663.1" r="11.1"/>
<circle cx="240.0" cy="747.1" r="11.1"/>
<circle cx="141.3" cy="852.1" r="11.1"/>
<circle cx="519.2" cy="404.4" r="11.1"/>
<circle cx="193.9" cy="719.2" r="11.1"/>
<circle cx="303.5" cy="621.9" r="11.1"/>
<circle cx="169.9" cy="790.2" r="11.1"/>
<circle cx="496.8" cy="582.1" r="11.1"/>
<circle cx="137.9" cy="847.6" r="11.1"/>
<circle cx="638.1" cy="462.3" r="11.1"/>
<circle cx="462.1" cy="560.5" r="11.1"/>
<circle cx="224.7" cy="719.3" r="11.1"/>
<circle cx="372.4" cy="608.4" r="11.1"/>
<circle cx="194.5" cy="751.1" r="11.1"/>
<circle cx="347.5" cy="650.0" r="11.1"/>
<circle cx="523.4" cy="365.4" r="11.1"/>
<circle cx="552.0" cy="388.1" r="11.1"/>
<circle cx="143.9" cy="852.3" r="11.1"/>
<circle cx="345.0" cy="632.9" r="11.1"/>
<circle cx="263.3" cy="663.6" r="11.1"/>
<circle cx="279.4" cy="700.5" r="11.1"/>
<circle cx="135.2" cy="851.1" r="11.1"/>
<circle cx="180.6" cy="833.9" r="11.1"/>
<circle cx="256.7" cy="795.0" r="11.1"/>
<circle cx="154.8" cy="835.2" r="11.1"/>
<circle cx="131.6" cy="830.5" r="11.1"/>
<circle cx="232.8" cy="754.6" r="11.1"/>
<circle cx="136.1" cy="853.4" r="11.1"/>
<circle cx="231.9" cy="800.2" r="11.1"/>
<circle cx="357.5" cy="600.0" r="11.1"/>
<circle cx="372.2" cy="595.0" r="11.1"/>
<circle cx="274.5" cy="758.9" r="11.1"/>
<circle cx="159.3" cy="848.7" r="11.1"/>
<circle cx="207.8" cy="820.9" r="11.1"/>
<circle cx="574.5" cy="347.6" r="11.1"/>
<circle cx="166.8" cy="848.0" r="11.1"/>
<circle cx="131.7" cy="849.6" r="11.1"/>
<circle cx="187.3" cy="793.4" r="11.1"/>
<circle cx="158.7" cy="779.7" r="11.1"/>
<circle cx="322.4" cy="663.0" r="11.1"/>
<circle cx="577.4" cy="566.2" r="11.1"/>
<circle cx="287.2" cy="741.1" r="11.1"/>
<circle cx="496.8" cy="431.4" r="11.1"/>
<circle cx="258.0" cy="690.2" r="11.1"/>
<circle cx="136.5" cy="850.3" r="11.1"/>
<circle cx="177.1" cy="788.7" r="11.1"/>
<circle cx="150.5" cy="798.1" r="11.1"/>
<circle cx="184.8" cy="809.7" r="11.1"/>
<circle cx="160.5" cy="826.0" r="11.1"/>
<circle cx="177.5" cy="811.6" r="11.1"/>
<circle cx="233.8" cy="733.7" r="11.1"/>
<circle cx="248.7" cy="758.4" r="11.1"/>
<circle cx="335.2" cy="635.7" r="11.1"/>
<circle cx="156.0" cy="824.7" r="11.1"/>
<circle cx="143.5" cy="832.4" r="11.1"/>
<circle cx="181.5" cy="807.9" r="11.1"/>
<circle cx="177.7" cy="851.8" r="11.1"/>
<circle cx="142.7" cy="850.2" r="11.1"/>
<circle cx="326.5" cy="670.1" r="11.1"/>
<circle cx="220.7" cy="762.0" r="11.1"/>
<circle cx="220.1" cy="743.6" r="11.1"/>
<circle cx="178.0" cy="784.8" r="11.1"/>
<circle cx="406.7" cy="526.7" r="11.1"/>
<circle cx="201.9" cy="758.9" r="11.1"/>
<circle cx="138.1" cy="840.6" r="11.1"/>
<circle cx="193.8" cy="792.9" r="11.1"/>
<circle cx="140.3" cy="848.7" r="11.1"/>
<circle cx="305.9" cy="647.1" r="11.1"/>
<circle cx="346.6" cy="623.9" r="11.1"/>
<circle cx="188.0" cy="804.6" r="11.1"/>
<circle cx="323.9" cy="663.9" r="11.1"/>
<circle cx="218.4" cy="721.9" r="11.1"/>
<circle cx="162.2" cy="815.1" r="11.1"/>
<circle cx="328.5" cy="595.0" r="11.1"/>
<circle cx="246.9" cy="676.9" r="11.1"/>
<circle cx="188.1" cy="821.6" r="11.1"/>
<circle cx="185.6" cy="789.5" r="11.1"/>
<circle cx="733.4" cy="479.0" r="11.1"/>
<circle cx="232.7" cy="757.5" r="11.1"/>
<circle cx="505.8" cy="533.0" r="11.1"/>
<circle cx="136.5" cy="841.2" r="11.1"/>
<circle cx="482.3" cy="544.6" r="11.1"/>
<circle cx="687.7" cy="369.0" r="11.1"/>
<circle cx="163.8" cy="836.3" r="11.1"/>
<circle cx="223.2" cy="747.9" r="11.1"/>
<circle cx="140.8" cy="851.3" r="11.1"/>
<circle cx="241.1" cy="743.4" r="11.1"/>
<circle cx="313.5" cy="688.5" r="11.1"/>
<circle cx="200.5" cy="783.0" r="11.1"/>
<circle cx="187.2" cy="551.8" r="11.1"/>
<circle cx="173.3" cy="851.4" r="11.1"/>
<circle cx="151.9" cy="823.1" r="11.1"/>
<circle cx="353.6" cy="566.1" r="11.1"/>
<circle cx="134.5" cy="849.3" r="11.1"/>
<circle cx="206.5" cy="803.4" r="11.1"/>
<circle cx="318.8" cy="622.4" r="11.1"/>
<circle cx="203.7" cy="769.7" r="11.1"/>
<circle cx="234.4" cy="781.3" r="11.1"/>
<circle cx="152.5" cy="847.6" r="11.1"/>
<circle cx="251.1" cy="732.7" r="11.1"/>
<circle cx="165.9" cy="801.8" r="11.1"/>
<circle cx="311.5" cy="646.4" r="11.1"/>
<circle cx="324.5" cy="617.3" r="11.1"/>
<circle cx="173.4" cy="815.4" r="11.1"/>
<circle cx="389.9" cy="447.8" r="11.1"/>
<circle cx="305.5" cy="689.1" r="11.1"/>
<circle cx="212.2" cy="715.7" r="11.1"/>
<circle cx="503.1" cy="444.4" r="11.1"/>
<circle cx="499.7" cy="463.7" r="11.1"/>
<circle cx="224.1" cy="727.4" r="11.1"/>
<circle cx="326.3" cy="674.3" r="11.1"/>
<circle cx="299.9" cy="643.7" r="11.1"/>
<circle cx="220.4" cy="769.0" r="11.1"/>
<circle cx="325.8" cy="560.5" r="11.1"/>
<circle cx="248.8" cy="738.2" r="11.1"/>
<circle cx="143.3" cy="821.2" r="11.1"/>
<circle cx="257.0" cy="731.0" r="11.1"/>
<circle cx="174.3" cy="771.8" r="11.1"/>
<circle cx="141.4" cy="815.0" r="11.1"/>
<circle cx="182.8" cy="766.6" r="11.1"/>
<circle cx="141.9" cy="835.7" r="11.1"/>
<circle cx="349.6" cy="594.1" r="11.1"/>
<circle cx="181.6" cy="810.6" r="11.1"/>
<circle cx="276.3" cy="706.0" r="11.1"/>
<circle cx="363.7" cy="605.8" r="11.1"/>
<circle cx="243.8" cy="779.3" r="11.1"/>
<circle cx="148.9" cy="848.4" r="11.1"/>
<circle cx="180.3" cy="751.4" r="11.1"/>
<circle cx="289.5" cy="679.9" r="11.1"/>
<circle cx="171.8" cy="844.8" r="11.1"/>
<circle cx="183.5" cy="778.2" r="11.1"/>
<circle cx="146.2" cy="811.7" r="11.1"/>
<circle cx="158.0" cy="835.7" r="11.1"/>
<circle cx="299.5" cy="655.6" r="11.1"/>
<circle cx="382.7" cy="476.1" r="11.1"/>
<circle cx="137.8" cy="819.9" r="11.1"/>
<circle cx="733.4" cy="326.5" r="11.1"/>
<circle cx="171.7" cy="770.8" r="11.1"/>
<circle cx="164.4" cy="836.7" r="11.1"/>
<circle cx="139.5" cy="812.7" r="11.1"/>
<circle cx="212.2" cy="715.8" r="11.1"/>
<circle cx="155.6" cy="820.8" r="11.1"/>
<circle cx="401.5" cy="553.2" r="11.1"/>
<circle cx="149.5" cy="826.4" r="11.1"/>
<circle cx="323.5" cy="662.5" r="11.1"/>
<circle cx="322.9" cy="627.4" r="11.1"/>
<circle cx="361.6" cy="623.0" r="11.1"/>
<circle cx="436.1" cy="495.5" r="11.1"/>
<circle cx="261.4" cy="680.8" r="11.1"/>
<circle cx="202.3" cy="789.6" r="11.1"/>
<circle cx="147.1" cy="806.8" r="11.1"/>
<circle cx="149.0" cy="848.7" r="11.1"/>
<circle cx="286.2" cy="665.3" r="11.1"/>
<circle cx="179.4" cy="800.9" r="11.1"/>
<circle cx="189.6" cy="740.6" r="11.1"/>
<circle cx="155.7" cy="834.3" r="11.1"/>
<circle cx="337.3" cy="645.0" r="11.1"/>
<circle cx="212.5" cy="759.7" r="11.1"/>
<circle cx="491.0" cy="408.3" r="11.1"/>
<circle cx="134.4" cy="846.9" r="11.1"/>
<circle cx="482.3" cy="456.5" r="11.1"/>
<circle cx="349.4" cy="593.8" r="11.1"/>
<circle cx="138.1" cy="837.0" r="11.1"/>
<circle cx="211.3" cy="779.8" r="11.1"/>
<circle cx="335.7" cy="724.6" r="11.1"/>
<circle cx="302.8" cy="714.3" r="11.1"/>
<circle cx="427.5" cy="433.4" r="11.1"/>
<circle cx="216.8" cy="786.6" r="11.1"/>
<circle cx="138.2" cy="850.3" r="11.1"/>
<circle cx="197.9" cy="635.6" r="11.1"/>
<circle cx="331.5" cy="623.4" r="11.1"/>
<circle cx="151.7" cy="834.1" r="11.1"/>
<circle cx="144.3" cy="829.8" r="11.1"/>
<circle cx="159.7" cy="793.1" r="11.1"/>
<circle cx="211.6" cy="793.3" r="11.1"/>
<circle cx="199.3" cy="793.9" r="11.1"/>
<circle cx="153.7" cy="850.4" r="11.1"/>
<circle cx="262.9" cy="715.8" r="11.1"/>
<circle cx="322.2" cy="636.0" r="11.1"/>
<circle cx="149.5" cy="834.1" r="11.1"/>
<circle cx="211.0" cy="825.0" r="11.1"/>
<circle cx="169.8" cy="818.1" r="11.1"/>
<circle cx="140.6" cy="833.4" r="11.1"/>
<circle cx="408.3" cy="641.9" r="11.1"/>
<circle cx="224.0" cy="743.3" r="11.1"/>
<circle cx="165.3" cy="852.0" r="11.1"/>
<circle cx="150.9" cy="824.7" r="11.1"/>
<circle cx="183.3" cy="747.9" r="11.1"/>
<circle cx="680.5" cy="361.2" r="11.1"/>
<circle cx="369.5" cy="642.2" r="11.1"/>
<circle cx="169.3" cy="808.4" r="11.1"/>
<circle cx="254.3" cy="753.7" r="11.1"/>
<circle cx="141.0" cy="849.7" r="11.1"/>
<circle cx="161.9" cy="828.0" r="11.1"/>
<circle cx="174.2" cy="822.6" r="11.1"/>
<circle cx="290.7" cy="738.2" r="11.1"/>
<circle cx="159.0" cy="812.4" r="11.1"/>
<circle cx="283.9" cy="546.0" r="11.1"/>
<circle cx="239.5" cy="735.8" r="11.1"/>
<circle cx="346.8" cy="573.9" r="11.1"/>
<circle cx="400.5" cy="559.8" r="11.1"/>
<circle cx="232.9" cy="748.3" r="11.1"/>
<circle cx="141.0" cy="850.9" r="11.1"/>
<circle cx="141.7" cy="822.9" r="11.1"/>
<circle cx="296.8" cy="737.5" r="11.1"/>
<circle cx="170.8" cy="784.8" r="11.1"/>
<circle cx="168.1" cy="800.7" r="11.1"/>
<circle cx="149.8" cy="821.6" r="11.1"/>
<circle cx="455.9" cy="518.7" r="11.1"/>
<circle cx="220.2" cy="778.8" r="11.1"/>
<circle cx="176.6" cy="820.8" r="11.1"/>
<circle cx="430.4" cy="550.4" r="11.1"/>
<circle cx="150.2" cy="849.9" r="11.1"/>
<circle cx="253.4" cy="647.7" r="11.1"/>
<circle cx="181.7" cy="797.6" r="11.1"/>
<circle cx="356.4" cy="579.3" r="11.1"/>
<circle cx="149.6" cy="834.7" r="11.1"/>
<circle cx="137.7" cy="846.8" r="11.1"/>
<circle cx="349.4" cy="610.3" r="11.1"/>
<circle cx="146.2" cy="847.8" r="11.1"/>
<circle cx="288.8" cy="692.6" r="11.1"/>
<circle cx="193.1" cy="736.7" r="11.1"/>
<circle cx="228.5" cy="736.5" r="11.1"/>
<circle cx="157.9" cy="833.5" r="11.1"/>
<circle cx="135.4" cy="843.1" r="11.1"/>
<circle cx="139.5" cy="846.5" r="11.1"/>
<circle cx="292.8" cy="732.0" r="11.1"/>
<circle cx="268.6" cy="689.2" r="11.1"/>
<circle cx="208.7" cy="809.4" r="11.1"/>
<circle cx="174.3" cy="811.0" r="11.1"/>
<circle cx="142.1" cy="851.2" r="11.1"/>
<circle cx="178.1" cy="847.7" r="11.1"/>
<circle cx="222.7" cy="738.7" r="11.1"/>
<circle cx="160.8" cy="834.1" r="11.1"/>
<circle cx="335.2" cy="588.9" r="11.1"/>
<circle cx="144.4" cy="838.5" r="11.1"/>
<circle cx="135.4" cy="849.5" r="11.1"/>
<circle cx="136.3" cy="849.5" r="11.1"/>
<circle cx="190.1" cy="824.1" r="11.1"/>
<circle cx="210.3" cy="723.0" r="11.1"/>
<circle cx="263.7" cy="691.6" r="11.1"/>
<circle cx="194.2" cy="756.0" r="11.1"/>
<circle cx="131.1" cy="838.3" r="11.1"/>
<circle cx="489.6" cy="497.6" r="11.1"/>
<circle cx="203.5" cy="813.9" r="11.1"/>
<circle cx="535.4" cy="423.2" r="11.1"/>
<circle cx="186.6" cy="769.9" r="11.1"/>
<circle cx="147.9" cy="815.6" r="11.1"/>
<circle cx="301.9" cy="705.9" r="11.1"/>
<circle cx="366.1" cy="588.2" r="11.1"/>
<circle cx="333.5" cy="675.1" r="11.1"/>
<circle cx="172.6" cy="801.3" r="11.1"/>
<circle cx="133.4" cy="850.2" r="11.1"/>
<circle cx="353.8" cy="648.3" r="11.1"/>
<circle cx="155.6" cy="848.6" r="11.1"/>
<circle cx="368.4" cy="559.8" r="11.1"/>
<circle cx="328.6" cy="699.9" r="11.1"/>
<circle cx="389.9" cy="639.9" r="11.1"/>
<circle cx="284.6" cy="694.9" r="11.1"/>
<circle cx="141.4" cy="853.2" r="11.1"/>
<circle cx="306.7" cy="670.3" r="11.1"/>
<circle cx="230.7" cy="696.2" r="11.1"/>
<circle cx="263.4" cy="708.4" r="11.1"/>
<circle cx="752.7" cy="319.3" r="11.1"/>
<circle cx="378.2" cy="628.9" r="11.1"/>
<circle cx="189.1" cy="810.7" r="11.1"/>
<circle cx="208.5" cy="795.0" r="11.1"/>
<circle cx="167.7" cy="795.5" r="11.1"/>
<circle cx="201.2" cy="764.5" r="11.1"/>
<circle cx="517.0" cy="498.4" r="11.1"/>
<circle cx="178.4" cy="836.3" r="11.1"/>
<circle cx="179.8" cy="753.5" r="11.1"/>
<circle cx="174.4" cy="733.3" r="11.1"/>
<circle cx="317.2" cy="680.8" r="11.1"/>
<circle cx="161.1" cy="851.0" r="11.1"/>
<circle cx="132.7" cy="837.4" r="11.1"/>
<circle cx="187.6" cy="788.8" r="11.1"/>
<circle cx="243.6" cy="761.8" r="11.1"/>
<circle cx="172.1" cy="827.8" r="11.1"/>
<circle cx="145.8" cy="800.6" r="11.1"/>
<circle cx="135.7" cy="846.8" r="11.1"/>
<circle cx="140.0" cy="852.9" r="11.1"/>
<circle cx="555.1" cy="430.1" r="11.1"/>
<circle cx="320.8" cy="620.9" r="11.1"/>
<circle cx="209.9" cy="792.0" r="11.1"/>
<circle cx="357.8" cy="615.7" r="11.1"/>
<circle cx="295.3" cy="685.6" r="11.1"/>
<circle cx="153.7" cy="817.7" r="11.1"/>
<circle cx="257.1" cy="708.2" r="11.1"/>
<circle cx="191.0" cy="756.9" r="11.1"/>
<circle cx="241.1" cy="768.5" r="11.1"/>
<circle cx="141.9" cy="824.2" r="11.1"/>
<circle cx="316.4" cy="705.7" r="11.1"/>
<circle cx="143.1" cy="847.7" r="11.1"/>
<circle cx="358.3" cy="679.4" r="11.1"/>
<circle cx="159.7" cy="848.6" r="11.1"/>
<circle cx="253.1" cy="754.2" r="11.1"/>
<circle cx="188.3" cy="804.4" r="11.1"/>
<circle cx="531.8" cy="492.1" r="11.1"/>
<circle cx="154.7" cy="846.3" r="11.1"/>
<circle cx="145.9" cy="851.3" r="11.1"/>
<circle cx="191.1" cy="844.2" r="11.1"/>
<circle cx="297.7" cy="650.2" r="11.1"/>
<circle cx="271.5" cy="615.3" r="11.1"/>
<circle cx="183.8" cy="807.1" r="11.1"/>
<circle cx="141.4" cy="839.3" r="11.1"/>
<circle cx="779.6" cy="320.2" r="11.1"/>
<circle cx="394.9" cy="581.3" r="11.1"/>
<circle cx="258.7" cy="715.3" r="11.1"/>
<circle cx="366.8" cy="561.9" r="11.1"/>
<circle cx="159.8" cy="779.8" r="11.1"/>
<circle cx="168.3" cy="776.1" r="11.1"/>
<circle cx="342.2" cy="630.3" r="11.1"/>
<circle cx="307.3" cy="676.2" r="11.1"/>
<circle cx="477.1" cy="499.1" r="11.1"/>
<circle cx="140.9" cy="824.4" r="11.1"/>
<circle cx="315.0" cy="697.1" r="11.1"/>
<circle cx="181.2" cy="774.7" r="11.1"/>
<circle cx="135.2" cy="838.7" r="11.1"/>
<circle cx="190.1" cy="786.0" r="11.1"/>
<circle cx="186.6" cy="753.6" r="11.1"/>
<circle cx="267.5" cy="743.4" r="11.1"/>
<circle cx="168.3" cy="819.7" r="11.1"/>
<circle cx="134.8" cy="832.4" r="11.1"/>
<circle cx="347.5" cy="658.6" r="11.1"/>
<circle cx="167.4" cy="845.6" r="11.1"/>
<circle cx="353.8" cy="646.2" r="11.1"/>
<circle cx="372.2" cy="609.6" r="11.1"/>
<circle cx="369.7" cy="638.6" r="11.1"/>
<circle cx="517.1" cy="465.9" r="11.1"/>
<circle cx="602.5" cy="430.5" r="11.1"/>
<circle cx="286.7" cy="681.8" r="11.1"/>
<circle cx="182.4" cy="801.0" r="11.1"/>
<circle cx="185.6" cy="833.1" r="11.1"/>
<circle cx="357.6" cy="653.0" r="11.1"/>
<circle cx="349.7" cy="620.0" r="11.1"/>
<circle cx="239.0" cy="730.0" r="11.1"/>
<circle cx="134.0" cy="852.2" r="11.1"/>
<circle cx="142.7" cy="851.8" r="11.1"/>
<circle cx="183.3" cy="747.9" r="11.1"/>
<circle cx="172.9" cy="791.9" r="11.1"/>
<circle cx="143.0" cy="848.8" r="11.1"/>
<circle cx="237.7" cy="769.5" r="11.1"/>
<circle cx="216.4" cy="747.2" r="11.1"/>
<circle cx="145.4" cy="825.6" r="11.1"/>
<circle cx="324.0" cy="673.2" r="11.1"/>
<circle cx="207.7" cy="788.2" r="11.1"/>
<circle cx="188.4" cy="822.6" r="11.1"/>
<circle cx="144.4" cy="851.4" r="11.1"/>
<circle cx="288.1" cy="671.3" r="11.1"/>
<circle cx="260.7" cy="698.4" r="11.1"/>
<circle cx="166.5" cy="847.1" r="11.1"/>
<circle cx="214.6" cy="766.2" r="11.1"/>
<circle cx="135.7" cy="849.4" r="11.1"/>
<circle cx="349.8" cy="686.4" r="11.1"/>
<circle cx="270.1" cy="694.8" r="11.1"/>
<circle cx="144.8" cy="806.6" r="11.1"/>
<circle cx="162.4" cy="800.2" r="11.1"/>
<circle cx="375.2" cy="645.8" r="11.1"/>
<circle cx="373.3" cy="596.5" r="11.1"/>
<circle cx="139.0" cy="848.9" r="11.1"/>
<circle cx="211.2" cy="772.9" r="11.1"/>
<circle cx="262.0" cy="688.3" r="11.1"/>
<circle cx="349.8" cy="678.2" r="11.1"/>
<circle cx="197.5" cy="749.2" r="11.1"/>
<circle cx="138.7" cy="847.9" r="11.1"/>
<circle cx="134.6" cy="847.8" r="11.1"/>
<circle cx="168.2" cy="797.6" r="11.1"/>
<circle cx="329.9" cy="658.2" r="11.1"/>
<circle cx="142.7" cy="853.4" r="11.1"/>
<circle cx="179.5" cy="788.2" r="11.1"/>
<circle cx="528.9" cy="434.8" r="11.1"/>
<circle cx="178.7" cy="790.0" r="11.1"/>
<circle cx="323.4" cy="665.2" r="11.1"/>
<circle cx="232.2" cy="772.4" r="11.1"/>
<circle cx="200.1" cy="770.9" r="11.1"/>
<circle cx="490.7" cy="488.4" r="11.1"/>
<circle cx="433.2" cy="576.4" r="11.1"/>
<circle cx="285.0" cy="708.7" r="11.1"/>
<circle cx="615.5" cy="446.4" r="11.1"/>
<circle cx="142.9" cy="819.0" r="11.1"/>
<circle cx="219.2" cy="733.3" r="11.1"/>
<circle cx="145.2" cy="815.4" r="11.1"/>
<circle cx="183.8" cy="807.2" r="11.1"/>
<circle cx="262.0" cy="671.9" r="11.1"/>
<circle cx="363.7" cy="598.1" r="11.1"/>
<circle cx="271.5" cy="639.9" r="11.1"/>
<circle cx="148.4" cy="792.8" r="11.1"/>
<circle cx="156.5" cy="849.3" r="11.1"/>
<circle cx="421.7" cy="625.5" r="11.1"/>
<circle cx="177.9" cy="829.7" r="11.1"/>
<circle cx="230.9" cy="797.7" r="11.1"/>
<circle cx="341.8" cy="619.1" r="11.1"/>
<circle cx="286.6" cy="709.9" r="11.1"/>
<circle cx="371.0" cy="586.0" r="11.1"/>
<circle cx="152.6" cy="852.8" r="11.1"/>
<circle cx="158.1" cy="837.3" r="11.1"/>
<circle cx="242.0" cy="699.2" r="11.1"/>
<circle cx="151.6" cy="819.4" r="11.1"/>
<circle cx="202.2" cy="818.2" r="11.1"/>
<circle cx="140.9" cy="847.9" r="11.1"/>
<circle cx="348.7" cy="655.3" r="11.1"/>
<circle cx="288.3" cy="687.9" r="11.1"/>
<circle cx="426.6" cy="507.2" r="11.1"/>
<circle cx="365.3" cy="635.3" r="11.1"/>
<circle cx="147.4" cy="825.4" r="11.1"/>
<circle cx="559.1" cy="422.2" r="11.1"/>
<circle cx="136.5" cy="835.1" r="11.1"/>
<circle cx="152.6" cy="819.4" r="11.1"/>
<circle cx="154.0" cy="832.3" r="11.1"/>
<circle cx="149.2" cy="843.5" r="11.1"/>
<circle cx="248.3" cy="726.2" r="11.1"/>
<circle cx="132.2" cy="850.7" r="11.1"/>
<circle cx="141.3" cy="849.6" r="11.1"/>
<circle cx="140.6" cy="840.5" r="11.1"/>
<circle cx="271.5" cy="675.0" r="11.1"/>
<circle cx="291.1" cy="687.7" r="11.1"/>
<circle cx="147.8" cy="829.0" r="11.1"/>
<circle cx="177.7" cy="821.8" r="11.1"/>
<circle cx="591.0" cy="408.8" r="11.1"/>
<circle cx="141.4" cy="846.6" r="11.1"/>
<circle cx="251.1" cy="688.7" r="11.1"/>
<circle cx="175.1" cy="800.5" r="11.1"/>
<circle cx="206.9" cy="806.2" r="11.1"/>
<circle cx="173.6" cy="825.0" r="11.1"/>
<circle cx="165.9" cy="769.6" r="11.1"/>
<circle cx="277.8" cy="734.3" r="11.1"/>
<circle cx="164.8" cy="820.4" r="11.1"/>
<circle cx="336.4" cy="678.0" r="11.1"/>
<circle cx="152.6" cy="848.0" r="11.1"/>
<circle cx="208.0" cy="828.0" r="11.1"/>
<circle cx="255.9" cy="687.6" r="11.1"/>
<circle cx="325.1" cy="643.0" r="11.1"/>
<circle cx="185.1" cy="803.4" r="11.1"/>
<circle cx="198.5" cy="769.7" r="11.1"/>
<circle cx="134.2" cy="843.6" r="11.1"/>
<circle cx="244.4" cy="745.6" r="11.1"/>
<circle cx="215.2" cy="753.7" r="11.1"/>
<circle cx="150.9" cy="824.9" r="11.1"/>
<circle cx="200.7" cy="772.5" r="11.1"/>
<circle cx="138.8" cy="851.0" r="11.1"/>
<circle cx="131.8" cy="844.0" r="11.1"/>
<circle cx="141.4" cy="853.3" r="11.1"/>
<circle cx="152.9" cy="802.0" r="11.1"/>
<circle cx="499.9" cy="479.7" r="11.1"/>
<circle cx="153.9" cy="846.1" r="11.1"/>
<circle cx="146.5" cy="832.8" r="11.1"/>
<circle cx="208.6" cy="719.6" r="11.1"/>
<circle cx="368.9" cy="556.2" r="11.1"/>
<circle cx="142.5" cy="851.5" r="11.1"/>
<circle cx="201.0" cy="748.7" r="11.1"/>
<circle cx="152.7" cy="847.8" r="11.1"/>
<circle cx="207.8" cy="720.5" r="11.1"/>
<circle cx="151.0" cy="829.8" r="11.1"/>
<circle cx="372.9" cy="633.0" r="11.1"/>
<circle cx="355.1" cy="648.5" r="11.1"/>
<circle cx="160.4" cy="793.8" r="11.1"/>
<circle cx="353.7" cy="683.2" r="11.1"/>
<circle cx="243.0" cy="714.4" r="11.1"/>
<circle cx="182.8" cy="780.2" r="11.1"/>
<circle cx="138.4" cy="822.7" r="11.1"/>
<circle cx="347.8" cy="636.9" r="11.1"/>
<circle cx="403.1" cy="558.5" r="11.1"/>
<circle cx="144.3" cy="850.9" r="11.1"/>
<circle cx="338.2" cy="583.9" r="11.1"/>
<circle cx="135.7" cy="850.8" r="11.1"/>
<circle cx="136.1" cy="838.9" r="11.1"/>
<circle cx="351.5" cy="614.0" r="11.1"/>
<circle cx="329.9" cy="700.8" r="11.1"/>
<circle cx="138.8" cy="845.6" r="11.1"/>
<circle cx="212.8" cy="800.6" r="11.1"/>
<circle cx="132.3" cy="849.8" r="11.1"/>
<circle cx="148.9" cy="829.5" r="11.1"/>
<circle cx="332.9" cy="615.3" r="11.1"/>
<circle cx="195.0" cy="777.6" r="11.1"/>
<circle cx="245.4" cy="727.6" r="11.1"/>
<circle cx="223.0" cy="776.9" r="11.1"/>
<circle cx="142.9" cy="833.9" r="11.1"/>
<circle cx="156.9" cy="812.7" r="11.1"/>
<circle cx="176.3" cy="800.8" r="11.1"/>
<circle cx="298.5" cy="665.0" r="11.1"/>
<circle cx="151.7" cy="828.1" r="11.1"/>
<circle cx="303.7" cy="700.4" r="11.1"/>
<circle cx="198.0" cy="750.2" r="11.1"/>
<circle cx="139.9" cy="836.1" r="11.1"/>
<circle cx="245.4" cy="761.0" r="11.1"/>
<circle cx="149.3" cy="839.1" r="11.1"/>
<circle cx="702.2" cy="315.8" r="11.1"/>
<circle cx="134.2" cy="843.7" r="11.1"/>
<circle cx="239.6" cy="710.9" r="11.1"/>
<circle cx="150.7" cy="807.7" r="11.1"/>
<circle cx="373.0" cy="540.7" r="11.1"/>
<circle cx="161.3" cy="829.9" r="11.1"/>
<circle cx="374.4" cy="538.9" r="11.1"/>
<circle cx="290.0" cy="652.3" r="11.1"/>
<circle cx="223.7" cy="758.8" r="11.1"/>
<circle cx="144.6" cy="849.2" r="11.1"/>
<circle cx="174.7" cy="792.0" r="11.1"/>
<circle cx="245.0" cy="724.4" r="11.1"/>
<circle cx="138.7" cy="834.6" r="11.1"/>
<circle cx="141.6" cy="853.4" r="11.1"/>
<circle cx="244.7" cy="723.8" r="11.1"/>
<circle cx="154.0" cy="849.6" r="11.1"/>
<circle cx="361.5" cy="619.8" r="11.1"/>
<circle cx="554.7" cy="494.1" r="11.1"/>
<circle cx="191.9" cy="773.9" r="11.1"/>
<circle cx="141.3" cy="831.4" r="11.1"/>
<circle cx="360.6" cy="563.9" r="11.1"/>
<circle cx="157.8" cy="832.7" r="11.1"/>
<circle cx="368.1" cy="553.1" r="11.1"/>
<circle cx="145.4" cy="851.6" r="11.1"/>
<circle cx="305.8" cy="666.6" r="11.1"/>
<circle cx="266.0" cy="723.8" r="11.1"/>
<circle cx="219.3" cy="725.2" r="11.1"/>
<circle cx="145.6" cy="830.9" r="11.1"/>
<circle cx="173.4" cy="806.3" r="11.1"/>
<circle cx="173.3" cy="821.1" r="11.1"/>
<circle cx="244.5" cy="719.7" r="11.1"/>
<circle cx="201.4" cy="751.4" r="11.1"/>
<circle cx="152.7" cy="853.0" r="11.1"/>
<circle cx="151.8" cy="828.1" r="11.1"/>
<circle cx="340.5" cy="644.2" r="11.1"/>
<circle cx="348.8" cy="596.5" r="11.1"/>
<circle cx="257.6" cy="720.9" r="11.1"/>
<circle cx="243.4" cy="745.5" r="11.1"/>
<circle cx="303.3" cy="622.6" r="11.1"/>
<circle cx="150.6" cy="744.1" r="11.1"/>
<circle cx="138.1" cy="850.2" r="11.1"/>
<circle cx="226.3" cy="785.5" r="11.1"/>
<circle cx="322.7" cy="654.1" r="11.1"/>
<circle cx="251.5" cy="722.6" r="11.1"/>
<circle cx="205.8" cy="791.3" r="11.1"/>
<circle cx="164.9" cy="771.0" r="11.1"/>
<circle cx="199.2" cy="737.2" r="11.1"/>
<circle cx="177.8" cy="797.8" r="11.1"/>
<circle cx="251.7" cy="753.1" r="11.1"/>
<circle cx="414.7" cy="518.7" r="11.1"/>
<circle cx="367.6" cy="600.0" r="11.1"/>
<circle cx="149.5" cy="850.8" r="11.1"/>
<circle cx="132.2" cy="850.3" r="11.1"/>
<circle cx="131.5" cy="849.9" r="11.1"/>
<circle cx="281.6" cy="681.3" r="11.1"/>
<circle cx="614.1" cy="419.0" r="11.1"/>
<circle cx="264.7" cy="715.7" r="11.1"/>
<circle cx="297.6" cy="692.6" r="11.1"/>
<circle cx="191.4" cy="840.3" r="11.1"/>
<circle cx="185.4" cy="776.4" r="11.1"/>
<circle cx="333.3" cy="644.9" r="11.1"/>
<circle cx="201.8" cy="834.0" r="11.1"/>
<circle cx="186.0" cy="750.6" r="11.1"/>
<circle cx="231.8" cy="736.5" r="11.1"/>
<circle cx="148.0" cy="818.7" r="11.1"/>
<circle cx="288.3" cy="705.4" r="11.1"/>
<circle cx="135.3" cy="849.3" r="11.1"/>
<circle cx="131.5" cy="851.8" r="11.1"/>
<circle cx="262.3" cy="696.6" r="11.1"/>
<circle cx="150.3" cy="815.8" r="11.1"/>
<circle cx="378.5" cy="581.2" r="11.1"/>
<circle cx="247.1" cy="723.8" r="11.1"/>
<circle cx="213.4" cy="714.5" r="11.1"/>
<circle cx="219.5" cy="736.1" r="11.1"/>
<circle cx="353.4" cy="646.0" r="11.1"/>
<circle cx="463.6" cy="573.5" r="11.1"/>
<circle cx="253.3" cy="746.0" r="11.1"/>
<circle cx="134.1" cy="834.9" r="11.1"/>
<circle cx="132.4" cy="852.5" r="11.1"/>
<circle cx="187.7" cy="771.9" r="11.1"/>
<circle cx="163.9" cy="800.6" r="11.1"/>
<circle cx="322.9" cy="695.2" r="11.1"/>
<circle cx="160.8" cy="834.0" r="11.1"/>
<circle cx="154.9" cy="825.2" r="11.1"/>
<circle cx="327.5" cy="627.0" r="11.1"/>
<circle cx="457.9" cy="519.7" r="11.1"/>
<circle cx="483.3" cy="506.6" r="11.1"/>
<circle cx="150.3" cy="807.7" r="11.1"/>
<circle cx="162.6" cy="840.5" r="11.1"/>
<circle cx="199.3" cy="751.1" r="11.1"/>
<circle cx="153.0" cy="849.0" r="11.1"/>
<circle cx="223.5" cy="795.0" r="11.1"/>
<circle cx="266.0" cy="752.5" r="11.1"/>
<circle cx="200.0" cy="741.1" r="11.1"/>
<circle cx="182.8" cy="752.8" r="11.1"/>
<circle cx="150.0" cy="848.3" r="11.1"/>
<circle cx="186.3" cy="772.3" r="11.1"/>
<circle cx="360.8" cy="650.3" r="11.1"/>
<circle cx="162.7" cy="841.6" r="11.1"/>
<circle cx="132.5" cy="850.1" r="11.1"/>
<circle cx="207.9" cy="772.9" r="11.1"/>
<circle cx="173.4" cy="836.7" r="11.1"/>
<circle cx="169.8" cy="781.4" r="11.1"/>
<circle cx="276.2" cy="724.6" r="11.1"/>
<circle cx="148.2" cy="825.1" r="11.1"/>
<circle cx="303.8" cy="698.9" r="11.1"/>
<circle cx="451.5" cy="517.8" r="11.1"/>
<circle cx="151.7" cy="848.7" r="11.1"/>
<circle cx="132.3" cy="842.9" r="11.1"/>
<circle cx="183.8" cy="747.3" r="11.1"/>
<circle cx="275.4" cy="722.6" r="11.1"/>
<circle cx="307.7" cy="725.6" r="11.1"/>
<circle cx="170.1" cy="787.4" r="11.1"/>
<circle cx="187.9" cy="793.7" r="11.1"/>
<circle cx="132.7" cy="852.1" r="11.1"/>
<circle cx="149.2" cy="839.7" r="11.1"/>
<circle cx="372.9" cy="574.4" r="11.1"/>
<circle cx="136.2" cy="849.1" r="11.1"/>
<circle cx="287.7" cy="701.7" r="11.1"/>
<circle cx="243.0" cy="740.2" r="11.1"/>
<circle cx="393.4" cy="628.4" r="11.1"/>
<circle cx="299.2" cy="705.8" r="11.1"/>
<circle cx="368.8" cy="604.9" r="11.1"/>
<circle cx="229.7" cy="773.8" r="11.1"/>
<circle cx="136.7" cy="842.8" r="11.1"/>
<circle cx="139.2" cy="824.2" r="11.1"/>
<circle cx="205.3" cy="736.2" r="11.1"/>
<circle cx="183.0" cy="771.3" r="11.1"/>
<circle cx="359.3" cy="585.5" r="11.1"/>
<circle cx="228.1" cy="807.9" r="11.1"/>
<circle cx="496.8" cy="531.6" r="11.1"/>
<circle cx="155.0" cy="785.3" r="11.1"/>
<circle cx="199.0" cy="752.8" r="11.1"/>
<circle cx="204.0" cy="765.2" r="11.1"/>
<circle cx="191.0" cy="843.1" r="11.1"/>
<circle cx="144.8" cy="851.3" r="11.1"/>
<circle cx="207.2" cy="798.9" r="11.1"/>
<circle cx="359.7" cy="599.4" r="11.1"/>
<circle cx="190.4" cy="829.0" r="11.1"/>
<circle cx="290.4" cy="683.9" r="11.1"/>
<circle cx="313.4" cy="582.1" r="11.1"/>
<circle cx="342.0" cy="610.9" r="11.1"/>
<circle cx="216.2" cy="761.1" r="11.1"/>
<circle cx="142.0" cy="832.0" r="11.1"/>
<circle cx="156.0" cy="807.3" r="11.1"/>
<circle cx="131.1" cy="852.3" r="11.1"/>
<circle cx="473.7" cy="600.9" r="11.1"/>
<circle cx="313.0" cy="617.4" r="11.1"/>
<circle cx="340.1" cy="593.8" r="11.1"/>
<circle cx="286.8" cy="651.3" r="11.1"/>
<circle cx="256.5" cy="751.6" r="11.1"/>
<circle cx="171.1" cy="832.0" r="11.1"/>
<circle cx="165.2" cy="792.3" r="11.1"/>
<circle cx="194.7" cy="781.0" r="11.1"/>
<circle cx="164.8" cy="799.1" r="11.1"/>
<circle cx="229.9" cy="726.7" r="11.1"/>
<circle cx="145.6" cy="853.4" r="11.1"/>
<circle cx="180.8" cy="770.6" r="11.1"/>
<circle cx="218.2" cy="711.9" r="11.1"/>
<circle cx="133.0" cy="848.5" r="11.1"/>
<circle cx="373.1" cy="608.6" r="11.1"/>
<circle cx="346.6" cy="647.7" r="11.1"/>
<circle cx="136.2" cy="851.4" r="11.1"/>
<circle cx="216.3" cy="788.9" r="11.1"/>
<circle cx="371.0" cy="656.8" r="11.1"/>
<circle cx="290.0" cy="744.6" r="11.1"/>
<circle cx="191.9" cy="805.0" r="11.1"/>
<circle cx="192.9" cy="829.1" r="11.1"/>
<circle cx="302.1" cy="665.4" r="11.1"/>
<circle cx="204.3" cy="809.9" r="11.1"/>
<circle cx="158.6" cy="810.6" r="11.1"/>
<circle cx="182.3" cy="792.4" r="11.1"/>
<circle cx="219.7" cy="765.5" r="11.1"/>
<circle cx="303.4" cy="703.2" r="11.1"/>
<circle cx="508.7" cy="452.2" r="11.1"/>
<circle cx="152.7" cy="850.6" r="11.1"/>
<circle cx="203.7" cy="758.7" r="11.1"/>
<circle cx="148.2" cy="825.8" r="11.1"/>
<circle cx="136.2" cy="828.0" r="11.1"/>
<circle cx="149.5" cy="794.3" r="11.1"/>
<circle cx="149.3" cy="852.6" r="11.1"/>
<circle cx="161.5" cy="785.7" r="11.1"/>
<circle cx="271.6" cy="688.3" r="11.1"/>
<circle cx="171.4" cy="811.5" r="11.1"/>
<circle cx="149.5" cy="813.4" r="11.1"/>
<circle cx="271.4" cy="718.0" r="11.1"/>
<circle cx="143.9" cy="851.6" r="11.1"/>
<circle cx="141.3" cy="847.6" r="11.1"/>
<circle cx="253.7" cy="761.5" r="11.1"/>
<circle cx="159.2" cy="802.6" r="11.1"/>
<circle cx="223.9" cy="787.3" r="11.1"/>
<circle cx="138.6" cy="852.7" r="11.1"/>
<circle cx="133.3" cy="844.4" r="11.1"/>
<circle cx="269.8" cy="663.6" r="11.1"/>
<circle cx="302.0" cy="689.6" r="11.1"/>
<circle cx="169.9" cy="782.7" r="11.1"/>
<circle cx="148.2" cy="850.7" r="11.1"/>
<circle cx="187.6" cy="799.3" r="11.1"/>
<circle cx="158.2" cy="846.5" r="11.1"/>
<circle cx="216.0" cy="783.1" r="11.1"/>
<circle cx="285.1" cy="639.8" r="11.1"/>
<circle cx="356.3" cy="652.3" r="11.1"/>
<circle cx="209.9" cy="773.4" r="11.1"/>
<circle cx="241.1" cy="712.6" r="11.1"/>
<circle cx="268.2" cy="709.9" r="11.1"/>
<circle cx="209.7" cy="743.7" r="11.1"/>
<circle cx="153.4" cy="833.3" r="11.1"/>
<circle cx="156.0" cy="848.6" r="11.1"/>
<circle cx="206.2" cy="806.8" r="11.1"/>
<circle cx="240.6" cy="795.3" r="11.1"/>
<circle cx="560.6" cy="447.8" r="11.1"/>
<circle cx="134.0" cy="834.7" r="11.1"/>
<circle cx="180.9" cy="799.0" r="11.1"/>
<circle cx="229.2" cy="738.8" r="11.1"/>
<circle cx="679.1" cy="375.6" r="11.1"/>
<circle cx="343.9" cy="660.7" r="11.1"/>
<circle cx="140.6" cy="849.7" r="11.1"/>
<circle cx="188.3" cy="784.6" r="11.1"/>
<circle cx="153.8" cy="842.2" r="11.1"/>
<circle cx="143.6" cy="847.0" r="11.1"/>
<circle cx="367.2" cy="631.5" r="11.1"/>
<circle cx="194.0" cy="803.0" r="11.1"/>
<circle cx="360.2" cy="656.5" r="11.1"/>
<circle cx="170.8" cy="826.4" r="11.1"/>
<circle cx="567.6" cy="448.1" r="11.1"/>
<circle cx="159.2" cy="851.2" r="11.1"/>
<circle cx="230.7" cy="757.9" r="11.1"/>
<circle cx="149.2" cy="804.3" r="11.1"/>
<circle cx="330.6" cy="632.7" r="11.1"/>
<circle cx="274.0" cy="730.7" r="11.1"/>
<circle cx="547.1" cy="534.5" r="11.1"/>
<circle cx="141.3" cy="839.2" r="11.1"/>
<circle cx="343.6" cy="622.2" r="11.1"/>
<circle cx="176.5" cy="793.5" r="11.1"/>
<circle cx="533.2" cy="482.5" r="11.1"/>
<circle cx="470.8" cy="509.9" r="11.1"/>
<circle cx="144.0" cy="847.5" r="11.1"/>
<circle cx="140.1" cy="847.6" r="11.1"/>
<circle cx="467.6" cy="567.9" r="11.1"/>
<circle cx="131.1" cy="848.2" r="11.1"/>
<circle cx="323.3" cy="671.7" r="11.1"/>
<circle cx="143.6" cy="824.7" r="11.1"/>
<circle cx="136.5" cy="848.7" r="11.1"/>
<circle cx="225.0" cy="740.7" r="11.1"/>
</g>
</g>
<polyline points="131.0,848.7 147.2,831.8 163.4,814.9 179.6,798.1 195.8,781.2 211.9,764.3 228.1,747.4 244.3,730.6 260.5,713.7 276.7,696.8 292.9,680.0 309.1,663.1 325.3,646.3 341.5,629.4 357.7,612.6 373.8,595.7 390.0,578.9 406.2,562.0 422.4,545.2 438.6,528.3 454.8,511.5 471.0,494.7 487.2,477.8 503.4,461.0 519.6,444.2 535.7,427.4 551.9,410.6 568.1,393.7 584.3,376.9 600.5,360.1 616.7,343.3 632.9,326.5 649.1,309.7 665.3,292.9 681.5,276.1 697.6,259.3 713.8,242.5 730.0,225.7 746.2,208.9 762.4,192.2 778.6,175.4" fill="none" stroke="#5B9BD5" stroke-width="4.4" stroke-linecap="round"/>
<polyline points="131.0,848.7 147.2,831.9 163.4,815.1 179.6,798.3 195.8,781.5 211.9,764.8 228.1,748.0 244.3,731.3 260.5,714.6 276.7,697.8 292.9,681.1 309.1,664.5 325.3,647.8 341.5,631.1 357.7,614.5 373.8,597.8 390.0,581.2 406.2,564.6 422.4,548.0 438.6,531.4 454.8,514.9 471.0,498.3 487.2,481.8 503.4,465.2 519.6,448.7 535.7,432.2 551.9,415.7 568.1,399.2 584.3,382.8 600.5,366.3 616.7,349.9 632.9,333.4 649.1,317.0 665.3,300.6 681.5,284.2 697.6,267.8 713.8,251.5 730.0,235.1 746.2,218.8 762.4,202.4 778.6,186.1" fill="none" stroke="#ED7D31" stroke-width="4.4" stroke-linecap="round"/>
<polyline points="131.0,848.7 147.2,832.0 163.4,815.3 179.6,798.5 195.8,781.8 211.9,765.2 228.1,748.5 244.3,731.8 260.5,715.2 276.7,698.6 292.9,682.0 309.1,665.4 325.3,648.8 341.5,632.2 357.7,615.7 373.8,599.1 390.0,582.6 406.2,566.1 422.4,549.6 438.6,533.1 454.8,516.7 471.0,500.2 487.2,483.8 503.4,467.4 519.6,451.0 535.7,434.6 551.9,418.2 568.1,401.8 584.3,385.5 600.5,369.2 616.7,352.8 632.9,336.5 649.1,320.2 665.3,304.0 681.5,287.7 697.6,271.5 713.8,255.2 730.0,239.0 746.2,222.8 762.4,206.6 778.6,190.4" fill="none" stroke="#A5A5A5" stroke-width="4.4" stroke-linecap="round"/>
<polyline points="131.0,848.1 147.2,832.6 163.4,817.1 179.6,801.7 195.8,786.2 211.9,770.9 228.1,755.5 244.3,740.2 260.5,724.9 276.7,709.7 292.9,694.4 309.1,679.2 325.3,664.0 341.5,648.8 357.7,633.7 373.8,618.5 390.0,603.4 406.2,588.2 422.4,573.1 438.6,558.0 454.8,542.8 471.0,527.7 487.2,512.6 503.4,497.4 519.6,482.3 535.7,467.1 551.9,452.0 568.1,436.8 584.3,421.6 600.5,406.4 616.7,391.2 632.9,375.9 649.1,360.6 665.3,345.3 681.5,330.0 697.6,314.6 713.8,299.2 730.0,283.8 746.2,268.3 762.4,252.8 778.6,237.2" fill="none" stroke="#4472C4" stroke-width="4.4" stroke-linecap="round"/>
<polyline points="131.0,848.7 147.2,832.1 163.4,815.4 179.6,798.8 195.8,782.2 211.9,765.6 228.1,749.0 244.3,732.5 260.5,715.9 276.7,699.4 292.9,682.9 309.1,666.4 325.3,649.9 341.5,633.4 357.7,616.9 373.8,600.5 390.0,584.1 406.2,567.7 422.4,551.3 438.6,534.9 454.8,518.5 471.0,502.2 487.2,485.8 503.4,469.5 519.6,453.2 535.7,436.9 551.9,420.6 568.1,404.3 584.3,388.1 600.5,371.9 616.7,355.6 632.9,339.4 649.1,323.2 665.3,307.1 681.5,290.9 697.6,274.8 713.8,258.6 730.0,242.5 746.2,226.4 762.4,210.3 778.6,194.3" fill="none" stroke="#FFC000" stroke-width="4.4" stroke-linecap="round"/>
<g font-family='"Liberation Serif","DejaVu Serif",serif' font-size="30.5" fill="#000">
<text x="100" y="29.2" text-anchor="end">350</text>
<text x="100" y="148.6" text-anchor="end">300</text>
<text x="100" y="268.1" text-anchor="end">250</text>
<text x="100" y="387.5" text-anchor="end">200</text>
<text x="100" y="506.9" text-anchor="end">150</text>
<text x="100" y="626.3" text-anchor="end">100</text>
<text x="100" y="745.8" text-anchor="end">50</text>
<text x="100" y="865.2" text-anchor="end">0</text>
<text x="129.2" y="905.5" text-anchor="middle">0</text>
<text x="243.4" y="905.5" text-anchor="middle">50</text>
<text x="355.9" y="905.5" text-anchor="middle">100</text>
<text x="468.3" y="905.5" text-anchor="middle">150</text>
<text x="580.7" y="905.5" text-anchor="middle">200</text>
<text x="693.1" y="905.5" text-anchor="middle">250</text>
<text x="805.6" y="905.5" text-anchor="middle">300</text>
<text x="918.0" y="905.5" text-anchor="middle">350</text>
</g>
<text x="161" y="91.5" font-family='"Liberation Serif","DejaVu Serif",serif' font-size="60" fill="#000">(a)</text>
<text x="524.5" y="960" text-anchor="middle" font-family='"Liberation Serif","DejaVu Serif",serif' font-weight="bold" font-size="43" fill="#000">NH<tspan font-size="28" dy="9">3</tspan><tspan dy="-9"> (Actual)</tspan></text>
<text transform="translate(30.5,435) rotate(-90)" text-anchor="middle" font-family='"Liberation Serif","DejaVu Serif",serif' font-weight="bold" font-size="43" fill="#000">NH<tspan font-size="28" dy="9">3</tspan><tspan dy="-9"> (MLs)</tspan></text>
<circle cx="715" cy="610.2" r="8.6" fill="#fff" stroke="#5B9BD5" stroke-opacity="0.6" stroke-width="10.6"/>
<text x="730" y="621.0" font-family='"Liberation Serif","DejaVu Serif",serif' font-size="32" fill="#000">LSTM</text>
<circle cx="715" cy="655.8" r="8.6" fill="#fff" stroke="#ED7D31" stroke-opacity="0.6" stroke-width="10.6"/>
<text x="730" y="666.6" font-family='"Liberation Serif","DejaVu Serif",serif' font-size="32" fill="#000">Bi-LSTM</text>
<circle cx="715" cy="701.4" r="8.6" fill="#fff" stroke="#A5A5A5" stroke-opacity="0.6" stroke-width="10.6"/>
<text x="730" y="712.2" font-family='"Liberation Serif","DejaVu Serif",serif' font-size="32" fill="#000">GRU</text>
<circle cx="715" cy="747.5" r="8.6" fill="#fff" stroke="#FFC000" stroke-opacity="0.6" stroke-width="10.6"/>
<text x="730" y="758.3" font-family='"Liberation Serif","DejaVu Serif",serif' font-size="32" fill="#000">MLP</text>
<circle cx="715" cy="793.5" r="8.6" fill="#fff" stroke="#4472C4" stroke-opacity="0.6" stroke-width="10.6"/>
<text x="730" y="804.3" font-family='"Liberation Serif","DejaVu Serif",serif' font-size="32" fill="#000">XGBoost</text>
</g>
<g id="taylor">
<defs><clipPath id="q"><path d="M1182.5 874.0 L1909.4 874.0 A726.9 774.0 0 0 0 1182.5 100.0 Z"/></clipPath></defs>
<g fill="none" stroke="#b0b0b0" stroke-width="1.7">
<line x1="1182.5" y1="874.0" x2="1255.2" y2="103.9"/>
<line x1="1182.5" y1="874.0" x2="1327.9" y2="115.6"/>
<line x1="1182.5" y1="874.0" x2="1400.6" y2="135.7"/>
<line x1="1182.5" y1="874.0" x2="1473.3" y2="164.6"/>
<line x1="1182.5" y1="874.0" x2="1545.9" y2="203.7"/>
<line x1="1182.5" y1="874.0" x2="1618.6" y2="254.8"/>
<line x1="1182.5" y1="874.0" x2="1691.3" y2="321.3"/>
<line x1="1182.5" y1="874.0" x2="1764.0" y2="409.6"/>
<line x1="1182.5" y1="874.0" x2="1836.7" y2="536.6"/>
<line x1="1182.5" y1="874.0" x2="1873.1" y2="632.3"/>
<line x1="1182.5" y1="874.0" x2="1902.1" y2="764.8"/>
<path d="M1255.2 874.0 A72.7 77.4 0 0 0 1182.5 796.6"/>
<path d="M1327.9 874.0 A145.4 154.8 0 0 0 1182.5 719.2"/>
<path d="M1400.6 874.0 A218.1 232.2 0 0 0 1182.5 641.8"/>
<path d="M1473.3 874.0 A290.8 309.6 0 0 0 1182.5 564.4"/>
<path d="M1546.0 874.0 A363.5 387.0 0 0 0 1182.5 487.0"/>
<path d="M1618.6 874.0 A436.1 464.4 0 0 0 1182.5 409.6"/>
<path d="M1691.3 874.0 A508.8 541.8 0 0 0 1182.5 332.2"/>
<path d="M1764.0 874.0 A581.5 619.2 0 0 0 1182.5 254.8"/>
<path d="M1836.7 874.0 A654.2 696.6 0 0 0 1182.5 177.4"/>
</g>
<g clip-path="url(#q)" fill="none" stroke="#7c7c7c" stroke-width="4.1" stroke-linecap="butt">
<polyline points="1424.5,144.4 1420.9,145.8 1417.3,147.1 1413.7,148.5 1410.2,150.0 1406.6,151.4 1403.1,152.9 1399.5,154.4 1396.0,155.9 1392.4,157.4 1388.9,158.9 1385.4,160.5 1381.9,162.1 1378.4,163.7 1374.9,165.3 1371.4,166.9 1368.0,168.6 1364.5,170.3 1361.0,171.9 1357.6,173.7 1354.2,175.4 1350.7,177.2 1347.3,178.9 1343.9,180.7 1340.5,182.5 1337.1,184.4 1333.7,186.2 1330.3,188.1 1327.0,190.0 1323.6,191.9 1320.3,193.8 1316.9,195.7 1313.6,197.7 1310.3,199.7 1307.0,201.7"/>
<polyline points="1255.4,236.1 1252.2,238.4 1249.1,240.8 1246.0,243.1 1242.9,245.4 1239.8,247.8 1236.8,250.2 1233.7,252.6 1230.7,255.0 1227.6,257.5 1224.6,259.9 1221.6,262.4 1218.6,264.9 1215.6,267.4 1212.6,269.9 1209.6,272.5 1206.7,275.0 1203.8,277.6 1200.8,280.2 1197.9,282.8 1195.0,285.4 1192.1,288.1 1189.3,290.7 1186.4,293.4 1183.5,296.1"/>
<polyline points="1618.4,257.0 1615.4,257.3 1612.4,257.5 1609.3,257.9 1606.3,258.2 1603.3,258.5 1600.3,258.9 1597.2,259.3 1594.2,259.7 1591.2,260.1 1588.2,260.5 1585.2,261.0 1582.1,261.4 1579.1,261.9 1576.1,262.4 1573.1,262.9 1570.1,263.5 1567.1,264.0 1564.1,264.6 1561.1,265.2 1558.1,265.8 1555.1,266.4 1552.2,267.0 1549.2,267.7 1546.2,268.3 1543.2,269.0 1540.2,269.7 1537.3,270.4 1534.3,271.2 1531.3,271.9 1528.4,272.7 1525.4,273.5 1522.5,274.3 1519.5,275.1 1516.6,275.9 1513.7,276.7 1510.7,277.6 1507.8,278.5 1504.9,279.4 1501.9,280.3 1499.0,281.2 1496.1,282.2 1493.2,283.1 1490.3,284.1 1487.4,285.1 1484.5,286.1 1481.6,287.1 1478.7,288.2 1475.9,289.2 1473.0,290.3 1470.1,291.4 1467.3,292.5 1464.4,293.6 1461.5,294.8 1458.7,295.9 1455.9,297.1 1453.0,298.3 1450.2,299.5 1447.4,300.7 1444.6,301.9 1441.8,303.2 1438.9,304.4 1436.2,305.7 1433.4,307.0 1430.6,308.3 1427.8,309.7 1425.0,311.0 1422.3,312.4 1419.5,313.7 1416.7,315.1 1414.0,316.5 1411.3,317.9 1408.5,319.4 1405.8,320.8 1403.1,322.3 1400.4,323.8 1397.7,325.3 1395.0,326.8 1392.3,328.3 1389.6,329.8 1387.0,331.4 1384.3,333.0 1381.6,334.5 1379.0,336.1 1376.3,337.8 1373.7,339.4 1371.1,341.0 1368.5,342.7 1365.9,344.4 1363.3,346.0 1360.7,347.7 1358.1,349.5 1355.5,351.2 1352.9,352.9 1350.4,354.7 1347.8,356.5 1345.3,358.3 1342.8,360.1 1340.2,361.9 1337.7,363.7 1335.2,365.5 1332.7,367.4 1330.2,369.3 1327.8,371.2 1325.3,373.1 1322.8,375.0 1320.4,376.9 1317.9,378.8 1315.5,380.8 1313.1,382.8 1310.7,384.7 1308.3,386.7 1305.9,388.7 1303.5,390.8 1301.1,392.8 1298.8,394.8 1296.4,396.9 1294.1,399.0 1291.8,401.1 1289.4,403.2 1287.1,405.3 1284.8,407.4 1282.5,409.5 1280.3,411.7 1278.0,413.8 1275.7,416.0 1273.5,418.2 1271.2,420.4 1269.0,422.6"/>
<polyline points="1226.9,469.4 1224.9,471.9 1222.9,474.3 1221.0,476.8 1219.0,479.3 1217.1,481.8 1215.2,484.3 1213.3,486.8 1211.4,489.4 1209.5,491.9 1207.6,494.5 1205.7,497.1 1203.9,499.6 1202.1,502.2 1200.2,504.8 1198.4,507.4 1196.6,510.0 1194.9,512.7 1193.1,515.3 1191.3,518.0 1189.6,520.6 1187.9,523.3 1186.1,526.0 1184.4,528.6 1182.7,531.3"/>
<polyline points="1773.4,423.6 1771.1,423.0 1768.9,422.4 1766.7,421.9 1764.5,421.3 1762.2,420.8 1760.0,420.3 1757.8,419.7 1755.5,419.2 1753.3,418.8 1751.1,418.3 1748.8,417.8 1746.6,417.4 1744.3,416.9 1742.1,416.5 1739.8,416.1 1737.6,415.7 1735.3,415.3 1733.1,414.9 1730.8,414.6 1728.6,414.2 1726.3,413.9 1724.0,413.6 1721.8,413.3 1719.5,413.0 1717.2,412.7 1715.0,412.4 1712.7,412.1 1710.4,411.9 1708.1,411.7 1705.9,411.4 1703.6,411.2 1701.3,411.0 1699.0,410.8 1696.8,410.7 1694.5,410.5 1692.2,410.4 1689.9,410.2 1687.6,410.1 1685.4,410.0 1683.1,409.9 1680.8,409.8 1678.5,409.8 1676.2,409.7 1674.0,409.7 1671.7,409.6 1669.4,409.6 1667.1,409.6 1664.8,409.6 1662.5,409.6 1660.2,409.7 1658.0,409.7 1655.7,409.8 1653.4,409.8 1651.1,409.9 1648.8,410.0 1646.6,410.1 1644.3,410.2 1642.0,410.4 1639.7,410.5 1637.4,410.7 1635.2,410.8 1632.9,411.0 1630.6,411.2 1628.3,411.4 1626.1,411.7 1623.8,411.9 1621.5,412.1 1619.2,412.4 1617.0,412.7 1614.7,413.0 1612.4,413.3 1610.2,413.6 1607.9,413.9 1605.6,414.2 1603.4,414.6 1601.1,414.9 1598.9,415.3 1596.6,415.7 1594.4,416.1 1592.1,416.5 1589.9,416.9 1587.6,417.4 1585.4,417.8 1583.1,418.3 1580.9,418.8 1578.7,419.2 1576.4,419.7 1574.2,420.3 1572.0,420.8 1569.7,421.3 1567.5,421.9 1565.3,422.4 1563.1,423.0 1560.8,423.6 1558.6,424.2 1556.4,424.8 1554.2,425.4 1552.0,426.1 1549.8,426.7 1547.6,427.4 1545.4,428.0 1543.2,428.7 1541.0,429.4 1538.9,430.1 1536.7,430.9 1534.5,431.6 1532.3,432.3 1530.2,433.1 1528.0,433.9 1525.8,434.6 1523.7,435.4 1521.5,436.2 1519.4,437.1 1517.2,437.9 1515.1,438.7 1512.9,439.6 1510.8,440.4 1508.7,441.3 1506.5,442.2 1504.4,443.1 1502.3,444.0 1500.2,445.0 1498.1,445.9 1496.0,446.8 1493.9,447.8 1491.8,448.8 1489.7,449.7 1487.6,450.7 1485.5,451.8 1483.5,452.8 1481.4,453.8 1479.3,454.8 1477.3,455.9 1475.2,457.0 1473.2,458.0 1471.1,459.1 1469.1,460.2 1467.1,461.3 1465.0,462.4 1463.0,463.6 1461.0,464.7 1459.0,465.9 1457.0,467.0 1455.0,468.2 1453.0,469.4 1451.0,470.6 1449.0,471.8 1447.1,473.0 1445.1,474.3 1443.1,475.5 1441.2,476.8 1439.2,478.0 1437.3,479.3 1435.3,480.6 1433.4,481.9 1431.5,483.2 1429.6,484.5 1427.6,485.9 1425.7,487.2 1423.8,488.5 1422.0,489.9 1420.1,491.3 1418.2,492.7 1416.3,494.1 1414.5,495.5 1412.6,496.9 1410.7,498.3 1408.9,499.7 1407.1,501.2 1405.2,502.6 1403.4,504.1 1401.6,505.6 1399.8,507.1 1398.0,508.5 1396.2,510.1 1394.4,511.6 1392.6,513.1 1390.9,514.6 1389.1,516.2 1387.3,517.7 1385.6,519.3 1383.8,520.9 1382.1,522.5 1380.4,524.0 1378.7,525.6 1377.0,527.3 1375.3,528.9 1373.6,530.5 1371.9,532.2 1370.2,533.8 1368.5,535.5 1366.9,537.1 1365.2,538.8 1363.6,540.5 1361.9,542.2 1360.3,543.9 1358.7,545.6 1357.1,547.3 1355.5,549.1 1353.9,550.8 1352.3,552.6 1350.7,554.3 1349.2,556.1 1347.6,557.9 1346.1,559.7 1344.5,561.5 1343.0,563.3 1341.5,565.1 1339.9,566.9 1338.4,568.7 1336.9,570.6 1335.5,572.4 1334.0,574.2 1332.5,576.1 1331.0,578.0 1329.6,579.9 1328.2,581.7 1326.7,583.6 1325.3,585.5 1323.9,587.4 1322.5,589.4 1321.1,591.3 1319.7,593.2 1318.3,595.2 1317.0,597.1 1315.6,599.1 1314.3,601.0 1312.9,603.0 1311.6,605.0 1310.3,607.0 1309.0,609.0 1307.7,611.0 1306.4,613.0 1305.1,615.0 1303.8,617.0 1302.6,619.0 1301.3,621.1 1300.1,623.1 1298.9,625.2 1297.6,627.2 1296.4,629.3 1295.2,631.4 1294.0,633.4 1292.9,635.5 1291.7,637.6 1290.5,639.7 1289.4,641.8 1288.3,643.9 1287.1,646.0 1286.0,648.1 1284.9,650.3 1283.8,652.4 1282.7,654.5 1281.7,656.7 1280.6,658.8 1279.5,661.0 1278.5,663.2 1277.5,665.3 1276.4,667.5 1275.4,669.7 1274.4,671.9 1273.4,674.1 1272.5,676.3 1271.5,678.5 1270.5,680.7 1269.6,682.9 1268.7,685.1 1267.7,687.3 1266.8,689.6 1265.9,691.8 1265.0,694.0 1264.2,696.3 1263.3,698.5 1262.4,700.8 1261.6,703.0 1260.8,705.3 1259.9,707.6 1259.1,709.8 1258.3,712.1 1257.5,714.4 1256.7,716.7 1256.0,719.0 1255.2,721.3 1254.5,723.6 1253.7,725.9 1253.0,728.2 1252.3,730.5 1251.6,732.8 1250.9,735.1 1250.2,737.4 1249.6,739.8 1248.9,742.1 1248.3,744.4 1247.6,746.8 1247.0,749.1 1246.4,751.5 1245.8,753.8 1245.2,756.2 1244.7,758.5 1244.1,760.9 1243.5,763.2 1243.0,765.6 1242.5,768.0 1242.0,770.3 1241.5,772.7 1241.0,775.1 1240.5,777.4 1240.0,779.8 1239.6,782.2 1239.1,784.6 1238.7,787.0 1238.3,789.4 1237.9,791.8 1237.5,794.2 1237.1,796.6 1236.7,799.0 1236.3,801.4 1236.0,803.8 1235.6,806.2 1235.3,808.6 1235.0,811.0 1234.7,813.4 1234.4,815.8 1234.1,818.2"/>
<polyline points="1882.2,665.6 1881.1,664.4 1880.1,663.2 1879.1,662.1 1878.0,660.9 1877.0,659.7 1875.9,658.5 1874.8,657.4 1873.8,656.2 1872.7,655.1 1871.6,653.9 1870.5,652.8 1869.4,651.7 1868.3,650.5 1867.2,649.4 1866.1,648.3 1865.0,647.2 1863.9,646.1 1862.8,645.0 1861.7,643.9 1860.5,642.8 1859.4,641.8 1858.2,640.7 1857.1,639.6 1855.9,638.6 1854.8,637.5 1853.6,636.5 1852.4,635.4 1851.3,634.4 1850.1,633.4 1848.9,632.4 1847.7,631.4 1846.5,630.4 1845.3,629.4 1844.1,628.4 1842.9,627.4 1841.7,626.4 1840.5,625.4 1839.2,624.5 1838.0,623.5 1836.8,622.6 1835.5,621.6 1834.3,620.7 1833.0,619.8 1831.8,618.9 1830.5,617.9 1829.3,617.0 1828.0,616.1 1826.7,615.2 1825.5,614.3 1824.2,613.5 1822.9,612.6 1821.6,611.7 1820.3,610.9 1819.0,610.0 1817.7,609.2 1816.4,608.3 1815.1,607.5 1813.8,606.7 1812.5,605.9 1811.2,605.1 1809.8,604.3 1808.5,603.5 1807.2,602.7 1805.8,601.9 1804.5,601.1 1803.2,600.4 1801.8,599.6 1800.5,598.9 1799.1,598.1 1797.7,597.4 1796.4,596.7 1795.0,596.0 1793.6,595.3 1792.3,594.6 1790.9,593.9 1789.5,593.2 1788.1,592.5 1786.8,591.8 1785.4,591.2 1784.0,590.5 1782.6,589.9 1781.2,589.2 1779.8,588.6 1778.4,588.0 1777.0,587.4 1775.5,586.7 1774.1,586.1 1772.7,585.5 1771.3,585.0 1769.9,584.4 1768.5,583.8 1767.0,583.3 1765.6,582.7 1764.2,582.2 1762.7,581.6 1761.3,581.1 1759.8,580.6 1758.4,580.1 1756.9,579.6 1755.5,579.1 1754.0,578.6 1752.6,578.1 1751.1,577.6 1749.7,577.1 1748.2,576.7 1746.8,576.2 1745.3,575.8 1743.8,575.4 1742.4,574.9 1740.9,574.5 1739.4,574.1 1737.9,573.7 1736.5,573.3 1735.0,573.0 1733.5,572.6 1732.0,572.2 1730.5,571.9 1729.0,571.5 1727.6,571.2 1726.1,570.8 1724.6,570.5 1723.1,570.2 1721.6,569.9 1720.1,569.6 1718.6,569.3 1717.1,569.0 1715.6,568.7 1714.1,568.5 1712.6,568.2 1711.1,568.0 1709.6,567.7 1708.1,567.5 1706.6,567.3 1705.1,567.0 1703.5,566.8 1702.0,566.6 1700.5,566.5 1699.0,566.3 1697.5,566.1 1696.0,565.9 1694.5,565.8 1692.9,565.6 1691.4,565.5 1689.9,565.4 1688.4,565.2 1686.9,565.1 1685.4,565.0 1683.8,564.9 1682.3,564.8 1680.8,564.7 1679.3,564.7 1677.8,564.6 1676.2,564.6 1674.7,564.5 1673.2,564.5 1671.7,564.4 1670.1,564.4 1668.6,564.4 1667.1,564.4 1665.6,564.4 1664.1,564.4 1662.5,564.4 1661.0,564.5 1659.5,564.5 1658.0,564.6 1656.4,564.6 1654.9,564.7 1653.4,564.7 1651.9,564.8 1650.4,564.9 1648.8,565.0 1647.3,565.1 1645.8,565.2 1644.3,565.4 1642.8,565.5 1641.3,565.6 1639.7,565.8 1638.2,565.9 1636.7,566.1 1635.2,566.3 1633.7,566.5 1632.2,566.6 1630.7,566.8 1629.1,567.0 1627.6,567.3 1626.1,567.5 1624.6,567.7 1623.1,568.0 1621.6,568.2 1620.1,568.5 1618.6,568.7 1617.1,569.0 1615.6,569.3 1614.1,569.6 1612.6,569.9 1611.1,570.2 1609.6,570.5 1608.1,570.8 1606.6,571.2 1605.2,571.5 1603.7,571.9 1602.2,572.2 1600.7,572.6 1599.2,573.0 1597.7,573.3 1596.3,573.7 1594.8,574.1 1593.3,574.5 1591.8,574.9 1590.4,575.4 1588.9,575.8 1587.4,576.2 1586.0,576.7 1584.5,577.1 1583.1,577.6 1581.6,578.1 1580.2,578.6 1578.7,579.1 1577.3,579.6 1575.8,580.1 1574.4,580.6 1572.9,581.1 1571.5,581.6 1570.0,582.2 1568.6,582.7 1567.2,583.3 1565.7,583.8 1564.3,584.4 1562.9,585.0 1561.5,585.5 1560.1,586.1 1558.7,586.7 1557.2,587.4 1555.8,588.0 1554.4,588.6 1553.0,589.2 1551.6,589.9 1550.2,590.5 1548.8,591.2 1547.4,591.8 1546.1,592.5 1544.7,593.2 1543.3,593.9 1541.9,594.6 1540.6,595.3 1539.2,596.0 1537.8,596.7 1536.5,597.4 1535.1,598.1 1533.7,598.9 1532.4,599.6 1531.0,600.4 1529.7,601.1 1528.4,601.9 1527.0,602.7 1525.7,603.5 1524.4,604.3 1523.0,605.1 1521.7,605.9 1520.4,606.7 1519.1,607.5 1517.8,608.3 1516.5,609.2 1515.2,610.0 1513.9,610.9 1512.6,611.7 1511.3,612.6 1510.0,613.5 1508.7,614.3 1507.5,615.2 1506.2,616.1 1504.9,617.0 1503.7,617.9 1502.4,618.9 1501.2,619.8 1499.9,620.7 1498.7,621.6 1497.4,622.6 1496.2,623.5 1495.0,624.5 1493.7,625.4 1492.5,626.4 1491.3,627.4 1490.1,628.4 1488.9,629.4 1487.7,630.4 1486.5,631.4 1485.3,632.4 1484.1,633.4 1482.9,634.4 1481.8,635.4 1480.6,636.5 1479.4,637.5 1478.3,638.6 1477.1,639.6 1476.0,640.7 1474.8,641.8 1473.7,642.8 1472.5,643.9 1471.4,645.0 1470.3,646.1 1469.2,647.2 1468.1,648.3 1467.0,649.4 1465.9,650.5 1464.8,651.7 1463.7,652.8 1462.6,653.9 1461.5,655.1 1460.4,656.2 1459.4,657.4 1458.3,658.5 1457.2,659.7 1456.2,660.9 1455.1,662.1 1454.1,663.2 1453.1,664.4 1452.0,665.6 1451.0,666.8 1450.0,668.0 1449.0,669.3 1448.0,670.5 1447.0,671.7 1446.0,672.9 1445.0,674.2 1444.0,675.4 1443.1,676.7 1442.1,677.9 1441.1,679.2 1440.2,680.4 1439.2,681.7 1438.3,683.0 1437.4,684.2 1436.4,685.5 1435.5,686.8 1434.6,688.1 1433.7,689.4 1432.8,690.7 1431.9,692.0 1431.0,693.3 1430.1,694.7 1429.2,696.0 1428.3,697.3 1427.5,698.6 1426.6,700.0 1425.8,701.3 1424.9,702.7 1424.1,704.0 1423.2,705.4 1422.4,706.7 1421.6,708.1 1420.8,709.5 1420.0,710.9 1419.2,712.2 1418.4,713.6 1417.6,715.0 1416.8,716.4 1416.1,717.8 1415.3,719.2 1414.5,720.6 1413.8,722.0 1413.0,723.4 1412.3,724.8 1411.6,726.3 1410.9,727.7 1410.1,729.1 1409.4,730.6 1408.7,732.0 1408.0,733.4 1407.3,734.9 1406.7,736.3 1406.0,737.8 1405.3,739.3 1404.7,740.7 1404.0,742.2 1403.4,743.6 1402.7,745.1 1402.1,746.6 1401.5,748.1 1400.9,749.6 1400.3,751.0 1399.7,752.5 1399.1,754.0 1398.5,755.5 1397.9,757.0 1397.3,758.5 1396.8,760.0 1396.2,761.5 1395.7,763.0 1395.1,764.6 1394.6,766.1 1394.0,767.6"/>
<polyline points="1378.4,836.8 1378.3,838.4 1378.1,840.0 1377.9,841.6 1377.8,843.3 1377.6,844.9 1377.5,846.5 1377.4,848.1 1377.2,849.7 1377.1,851.3 1377.0,852.9 1376.9,854.6 1376.8,856.2 1376.7,857.8 1376.7,859.4 1376.6,861.0 1376.5,862.7 1376.5,864.3 1376.4,865.9 1376.4,867.5 1376.4,869.1 1376.4,870.8 1376.3,872.4 1376.3,874.0"/>
<polyline points="1812.5,874.0 1812.5,873.2 1812.5,872.4 1812.5,871.6 1812.4,870.8 1812.4,869.9 1812.4,869.1 1812.4,868.3 1812.4,867.5 1812.3,866.7 1812.3,865.9 1812.2,865.1 1812.2,864.3 1812.1,863.5 1812.1,862.7 1812.0,861.9 1812.0,861.0 1811.9,860.2 1811.8,859.4 1811.8,858.6 1811.7,857.8 1811.6,857.0 1811.5,856.2 1811.4,855.4 1811.3,854.6 1811.2,853.8 1811.1,853.0 1811.0,852.2 1810.9,851.4 1810.8,850.6 1810.7,849.8 1810.6,849.0 1810.4,848.2 1810.3,847.4 1810.2,846.6 1810.0,845.8 1809.9,845.0 1809.8,844.2 1809.6,843.4 1809.5,842.6 1809.3,841.8 1809.1,841.0 1809.0,840.2 1808.8,839.4 1808.6,838.7 1808.5,837.9 1808.3,837.1 1808.1,836.3 1807.9,835.5 1807.7,834.7 1807.5,833.9 1807.3,833.2 1807.1,832.4 1806.9,831.6 1806.7,830.8 1806.5,830.0 1806.3,829.3 1806.1,828.5 1805.8,827.7 1805.6,826.9 1805.4,826.2 1805.1,825.4 1804.9,824.6 1804.6,823.9 1804.4,823.1 1804.1,822.3 1803.9,821.6 1803.6,820.8 1803.4,820.0 1803.1,819.3 1802.8,818.5 1802.5,817.8 1802.3,817.0 1802.0,816.3 1801.7,815.5 1801.4,814.8 1801.1,814.0 1800.8,813.3 1800.5,812.5 1800.2,811.8 1799.9,811.0 1799.6,810.3 1799.3,809.6 1799.0,808.8 1798.6,808.1 1798.3,807.4 1798.0,806.6 1797.7,805.9 1797.3,805.2 1797.0,804.4 1796.6,803.7 1796.3,803.0 1795.9,802.3 1795.6,801.6 1795.2,800.8 1794.9,800.1 1794.5,799.4 1794.1,798.7 1793.8,798.0 1793.4,797.3 1793.0,796.6 1792.6,795.9 1792.2,795.2 1791.8,794.5 1791.5,793.8 1791.1,793.1 1790.7,792.4 1790.3,791.7 1789.8,791.1 1789.4,790.4 1789.0,789.7 1788.6,789.0 1788.2,788.3 1787.8,787.7 1787.3,787.0 1786.9,786.3 1786.5,785.7 1786.0,785.0 1785.6,784.3 1785.2,783.7 1784.7,783.0 1784.3,782.4 1783.8,781.7 1783.4,781.1 1782.9,780.4 1782.4,779.8 1782.0,779.1 1781.5,778.5 1781.0,777.8 1780.6,777.2 1780.1,776.6 1779.6,776.0 1779.1,775.3 1778.6,774.7 1778.1,774.1 1777.6,773.5 1777.2,772.9 1776.7,772.2 1776.2,771.6 1775.6,771.0 1775.1,770.4 1774.6,769.8 1774.1,769.2 1773.6,768.6 1773.1,768.0 1772.6,767.4 1772.0,766.9 1771.5,766.3 1771.0,765.7 1770.4,765.1 1769.9,764.5 1769.4,764.0 1768.8,763.4 1768.3,762.8 1767.7,762.3 1767.2,761.7 1766.6,761.2 1766.1,760.6 1765.5,760.1 1764.9,759.5 1764.4,759.0 1763.8,758.4 1763.2,757.9 1762.7,757.3 1762.1,756.8 1761.5,756.3 1760.9,755.8 1760.4,755.2 1759.8,754.7 1759.2,754.2 1758.6,753.7 1758.0,753.2 1757.4,752.7 1756.8,752.2 1756.2,751.7 1755.6,751.2 1755.0,750.7 1754.4,750.2 1753.8,749.7 1753.2,749.2 1752.6,748.8 1751.9,748.3 1751.3,747.8 1750.7,747.4 1750.1,746.9 1749.4,746.4 1748.8,746.0 1748.2,745.5 1747.6,745.1 1746.9,744.6 1746.3,744.2 1745.6,743.7 1745.0,743.3 1744.4,742.9 1743.7,742.4 1743.1,742.0 1742.4,741.6 1741.8,741.2 1741.1,740.8 1740.4,740.3 1739.8,739.9 1739.1,739.5 1738.5,739.1 1737.8,738.7 1737.1,738.3 1736.5,738.0 1735.8,737.6 1735.1,737.2 1734.5,736.8 1733.8,736.4 1733.1,736.1 1732.4,735.7 1731.7,735.3 1731.1,735.0 1730.4,734.6 1729.7,734.3 1729.0,733.9 1728.3,733.6 1727.6,733.3 1726.9,732.9 1726.2,732.6 1725.5,732.3 1724.8,731.9 1724.1,731.6 1723.4,731.3 1722.7,731.0 1722.0,730.7 1721.3,730.4 1720.6,730.1 1719.9,729.8 1719.2,729.5 1718.5,729.2 1717.8,728.9 1717.1,728.6 1716.3,728.4 1715.6,728.1 1714.9,727.8 1714.2,727.5 1713.5,727.3 1712.7,727.0 1712.0,726.8 1711.3,726.5 1710.6,726.3 1709.8,726.0 1709.1,725.8 1708.4,725.6 1707.7,725.3 1706.9,725.1 1706.2,724.9 1705.5,724.7 1704.7,724.5 1704.0,724.3 1703.3,724.1 1702.5,723.9 1701.8,723.7 1701.0,723.5 1700.3,723.3 1699.6,723.1 1698.8,722.9 1698.1,722.8 1697.3,722.6 1696.6,722.4 1695.8,722.3 1695.1,722.1 1694.3,721.9 1693.6,721.8 1692.8,721.6 1692.1,721.5 1691.3,721.4 1690.6,721.2 1689.8,721.1 1689.1,721.0 1688.3,720.9 1687.6,720.7 1686.8,720.6 1686.1,720.5 1685.3,720.4 1684.6,720.3 1683.8,720.2 1683.1,720.1 1682.3,720.0 1681.5,720.0 1680.8,719.9 1680.0,719.8 1679.3,719.7 1678.5,719.7 1677.7,719.6 1677.0,719.6 1676.2,719.5 1675.5,719.5 1674.7,719.4 1673.9,719.4 1673.2,719.3 1672.4,719.3 1671.7,719.3 1670.9,719.3 1670.1,719.2 1669.4,719.2 1668.6,719.2 1667.9,719.2 1667.1,719.2 1666.3,719.2 1665.6,719.2 1664.8,719.2 1664.1,719.2 1663.3,719.3 1662.5,719.3 1661.8,719.3 1661.0,719.3 1660.3,719.4 1659.5,719.4 1658.7,719.5 1658.0,719.5 1657.2,719.6 1656.5,719.6 1655.7,719.7 1654.9,719.7 1654.2,719.8 1653.4,719.9 1652.7,720.0 1651.9,720.0 1651.1,720.1 1650.4,720.2 1649.6,720.3 1648.9,720.4 1648.1,720.5 1647.4,720.6 1646.6,720.7 1645.9,720.9 1645.1,721.0 1644.4,721.1 1643.6,721.2 1642.9,721.4 1642.1,721.5 1641.4,721.6 1640.6,721.8 1639.9,721.9 1639.1,722.1 1638.4,722.3 1637.6,722.4 1636.9,722.6 1636.1,722.8 1635.4,722.9 1634.6,723.1 1633.9,723.3 1633.2,723.5 1632.4,723.7 1631.7,723.9 1630.9,724.1 1630.2,724.3 1629.5,724.5 1628.7,724.7 1628.0,724.9 1627.3,725.1 1626.5,725.3 1625.8,725.6 1625.1,725.8 1624.4,726.0 1623.6,726.3 1622.9,726.5 1622.2,726.8 1621.5,727.0 1620.7,727.3 1620.0,727.5 1619.3,727.8 1618.6,728.1 1617.9,728.4 1617.1,728.6 1616.4,728.9 1615.7,729.2 1615.0,729.5 1614.3,729.8 1613.6,730.1 1612.9,730.4 1612.2,730.7 1611.5,731.0 1610.8,731.3 1610.1,731.6 1609.4,731.9 1608.7,732.3 1608.0,732.6 1607.3,732.9 1606.6,733.3 1605.9,733.6 1605.2,733.9 1604.5,734.3 1603.8,734.6 1603.1,735.0 1602.5,735.3 1601.8,735.7 1601.1,736.1 1600.4,736.4 1599.7,736.8 1599.1,737.2 1598.4,737.6 1597.7,738.0 1597.1,738.3 1596.4,738.7 1595.7,739.1 1595.1,739.5 1594.4,739.9 1593.8,740.3 1593.1,740.8 1592.4,741.2 1591.8,741.6 1591.1,742.0 1590.5,742.4 1589.8,742.9 1589.2,743.3 1588.6,743.7 1587.9,744.2 1587.3,744.6 1586.6,745.1 1586.0,745.5 1585.4,746.0 1584.8,746.4 1584.1,746.9 1583.5,747.4 1582.9,747.8 1582.3,748.3 1581.6,748.8 1581.0,749.2 1580.4,749.7 1579.8,750.2 1579.2,750.7 1578.6,751.2 1578.0,751.7 1577.4,752.2 1576.8,752.7 1576.2,753.2 1575.6,753.7 1575.0,754.2 1574.4,754.7 1573.8,755.2 1573.3,755.8 1572.7,756.3 1572.1,756.8 1571.5,757.3 1571.0,757.9 1570.4,758.4 1569.8,759.0 1569.3,759.5 1568.7,760.1 1568.1,760.6 1567.6,761.2 1567.0,761.7"/>
<polyline points="1533.4,813.3 1533.1,814.0 1532.8,814.8 1532.5,815.5 1532.2,816.3 1531.9,817.0 1531.7,817.8 1531.4,818.5 1531.1,819.3 1530.8,820.0 1530.6,820.8 1530.3,821.6 1530.1,822.3 1529.8,823.1 1529.6,823.9 1529.3,824.6 1529.1,825.4 1528.8,826.2 1528.6,826.9 1528.4,827.7 1528.1,828.5 1527.9,829.3 1527.7,830.0 1527.5,830.8 1527.3,831.6 1527.1,832.4 1526.9,833.2 1526.7,833.9 1526.5,834.7 1526.3,835.5 1526.1,836.3 1525.9,837.1 1525.7,837.9 1525.6,838.7 1525.4,839.4 1525.2,840.2 1525.1,841.0 1524.9,841.8 1524.7,842.6 1524.6,843.4 1524.4,844.2 1524.3,845.0 1524.2,845.8 1524.0,846.6 1523.9,847.4 1523.8,848.2 1523.6,849.0 1523.5,849.8 1523.4,850.6 1523.3,851.4 1523.2,852.2 1523.1,853.0 1523.0,853.8 1522.9,854.6 1522.8,855.4 1522.7,856.2 1522.6,857.0 1522.5,857.8 1522.4,858.6 1522.4,859.4 1522.3,860.2 1522.2,861.0 1522.2,861.9 1522.1,862.7 1522.1,863.5 1522.0,864.3 1522.0,865.1 1521.9,865.9 1521.9,866.7 1521.8,867.5 1521.8,868.3 1521.8,869.1 1521.8,869.9 1521.8,870.8 1521.7,871.6 1521.7,872.4 1521.7,873.2 1521.7,874.0"/>
</g>
<text transform="translate(1281.4,218.0) scale(1,1.0648) rotate(-32.0)" text-anchor="middle" font-family='"DejaVu Sans","Liberation Sans",sans-serif' font-size="25.5" fill="#808080" y="9.2">1.5</text>
<text transform="translate(1247.4,445.4) scale(1,1.0648) rotate(-46.2)" text-anchor="middle" font-family='"DejaVu Sans","Liberation Sans",sans-serif' font-size="25.5" fill="#808080" y="9.2">1.2</text>
<text transform="translate(1231.2,857.4) scale(1,1.0648) rotate(-88.0)" text-anchor="middle" font-family='"DejaVu Sans","Liberation Sans",sans-serif' font-size="25.5" fill="#808080" y="9.2">0.9</text>
<text transform="translate(1384.4,801.6) scale(1,1.0648) rotate(-76.5)" text-anchor="middle" font-family='"DejaVu Sans","Liberation Sans",sans-serif' font-size="25.5" fill="#808080" y="9.2">0.6</text>
<text transform="translate(1547.5,786.0) scale(1,1.0648) rotate(-55.4)" text-anchor="middle" font-family='"DejaVu Sans","Liberation Sans",sans-serif' font-size="25.5" fill="#808080" y="9.2">0.3</text>
<path d="M1667.1 874.0 A484.6 516.0 0 0 0 1182.5 358.0" fill="none" stroke="#000" stroke-width="4" stroke-dasharray="12.8 5.6"/>
<path d="M1182.5 100.0 L1182.5 874.0 L1909.4 874.0" fill="none" stroke="#000" stroke-width="2.2"/>
<path d="M1909.4 874.0 A726.9 774.0 0 0 0 1182.5 100.0" fill="none" stroke="#000" stroke-width="2"/>
<g stroke="#000" stroke-width="2.2">
<line x1="1255.2" y1="874.0" x2="1255.2" y2="864.5"/>
<line x1="1182.5" y1="796.6" x2="1193.0" y2="796.6"/>
<line x1="1327.9" y1="874.0" x2="1327.9" y2="864.5"/>
<line x1="1182.5" y1="719.2" x2="1193.0" y2="719.2"/>
<line x1="1400.6" y1="874.0" x2="1400.6" y2="864.5"/>
<line x1="1182.5" y1="641.8" x2="1193.0" y2="641.8"/>
<line x1="1473.3" y1="874.0" x2="1473.3" y2="864.5"/>
<line x1="1182.5" y1="564.4" x2="1193.0" y2="564.4"/>
<line x1="1546.0" y1="874.0" x2="1546.0" y2="864.5"/>
<line x1="1182.5" y1="487.0" x2="1193.0" y2="487.0"/>
<line x1="1618.6" y1="874.0" x2="1618.6" y2="864.5"/>
<line x1="1182.5" y1="409.6" x2="1193.0" y2="409.6"/>
<line x1="1691.3" y1="874.0" x2="1691.3" y2="864.5"/>
<line x1="1182.5" y1="332.2" x2="1193.0" y2="332.2"/>
<line x1="1764.0" y1="874.0" x2="1764.0" y2="864.5"/>
<line x1="1182.5" y1="254.8" x2="1193.0" y2="254.8"/>
<line x1="1836.7" y1="874.0" x2="1836.7" y2="864.5"/>
<line x1="1182.5" y1="177.4" x2="1193.0" y2="177.4"/>
<line x1="1255.2" y1="103.9" x2="1254.3" y2="113.6"/>
<line x1="1327.9" y1="115.6" x2="1326.0" y2="125.2"/>
<line x1="1400.6" y1="135.7" x2="1397.8" y2="145.0"/>
<line x1="1473.3" y1="164.6" x2="1469.6" y2="173.6"/>
<line x1="1545.9" y1="203.7" x2="1541.3" y2="212.2"/>
<line x1="1618.6" y1="254.8" x2="1613.1" y2="262.6"/>
<line x1="1691.3" y1="321.3" x2="1684.9" y2="328.3"/>
<line x1="1764.0" y1="409.6" x2="1756.7" y2="415.5"/>
<line x1="1836.7" y1="536.6" x2="1828.4" y2="540.9"/>
<line x1="1873.1" y1="632.3" x2="1864.3" y2="635.4"/>
<line x1="1902.1" y1="764.8" x2="1893.0" y2="766.2"/>
</g>
<g font-family='"DejaVu Sans","Liberation Sans",sans-serif' font-size="27.2" fill="#000">
<text transform="translate(1172.9,874.0) scale(1,1.0648)" text-anchor="end" y="9.6">0.00</text>
<text transform="translate(1181.7,886.5) scale(1,1.0648) rotate(-90)" text-anchor="end" y="9.7">0.00</text>
<text transform="translate(1172.9,796.6) scale(1,1.0648)" text-anchor="end" y="9.6">0.15</text>
<text transform="translate(1254.4,886.5) scale(1,1.0648) rotate(-90)" text-anchor="end" y="9.7">0.15</text>
<text transform="translate(1172.9,719.2) scale(1,1.0648)" text-anchor="end" y="9.6">0.30</text>
<text transform="translate(1327.1,886.5) scale(1,1.0648) rotate(-90)" text-anchor="end" y="9.7">0.30</text>
<text transform="translate(1172.9,641.8) scale(1,1.0648)" text-anchor="end" y="9.6">0.45</text>
<text transform="translate(1399.8,886.5) scale(1,1.0648) rotate(-90)" text-anchor="end" y="9.7">0.45</text>
<text transform="translate(1172.9,564.4) scale(1,1.0648)" text-anchor="end" y="9.6">0.60</text>
<text transform="translate(1472.5,886.5) scale(1,1.0648) rotate(-90)" text-anchor="end" y="9.7">0.60</text>
<text transform="translate(1172.9,487.0) scale(1,1.0648)" text-anchor="end" y="9.6">0.75</text>
<text transform="translate(1545.2,886.5) scale(1,1.0648) rotate(-90)" text-anchor="end" y="9.7">0.75</text>
<text transform="translate(1172.9,409.6) scale(1,1.0648)" text-anchor="end" y="9.6">0.90</text>
<text transform="translate(1617.8,886.5) scale(1,1.0648) rotate(-90)" text-anchor="end" y="9.7">0.90</text>
<text transform="translate(1172.9,332.2) scale(1,1.0648)" text-anchor="end" y="9.6">1.05</text>
<text transform="translate(1690.5,886.5) scale(1,1.0648) rotate(-90)" text-anchor="end" y="9.7">1.05</text>
<text transform="translate(1172.9,254.8) scale(1,1.0648)" text-anchor="end" y="9.6">1.20</text>
<text transform="translate(1763.2,886.5) scale(1,1.0648) rotate(-90)" text-anchor="end" y="9.7">1.20</text>
<text transform="translate(1172.9,177.4) scale(1,1.0648)" text-anchor="end" y="9.6">1.35</text>
<text transform="translate(1835.9,886.5) scale(1,1.0648) rotate(-90)" text-anchor="end" y="9.7">1.35</text>
<text transform="translate(1182.5,79.4) scale(1,1.0648) rotate(0.0)" text-anchor="middle" y="9">0.0</text>
<text transform="translate(1257.1,83.3) scale(1,1.0648) rotate(5.7)" text-anchor="middle" y="9">0.1</text>
<text transform="translate(1331.8,95.4) scale(1,1.0648) rotate(11.5)" text-anchor="middle" y="9">0.2</text>
<text transform="translate(1406.4,116.0) scale(1,1.0648) rotate(17.5)" text-anchor="middle" y="9">0.3</text>
<text transform="translate(1481.0,145.7) scale(1,1.0648) rotate(23.6)" text-anchor="middle" y="9">0.4</text>
<text transform="translate(1555.6,185.8) scale(1,1.0648) rotate(30.0)" text-anchor="middle" y="9">0.5</text>
<text transform="translate(1630.3,238.3) scale(1,1.0648) rotate(36.9)" text-anchor="middle" y="9">0.6</text>
<text transform="translate(1704.9,306.5) scale(1,1.0648) rotate(44.4)" text-anchor="middle" y="9">0.7</text>
<text transform="translate(1779.5,397.2) scale(1,1.0648) rotate(53.1)" text-anchor="middle" y="9">0.8</text>
<text transform="translate(1854.2,527.6) scale(1,1.0648) rotate(64.2)" text-anchor="middle" y="9">0.9</text>
<text transform="translate(1891.5,625.9) scale(1,1.0648) rotate(71.8)" text-anchor="middle" y="9">0.95</text>
<text transform="translate(1921.3,761.9) scale(1,1.0648) rotate(81.9)" text-anchor="middle" y="9">0.99</text>
<text transform="translate(1928.8,874.0) scale(1,1.0648) rotate(90.0)" text-anchor="middle" y="9">1.0</text>
</g>
<text transform="translate(1545.0,989.0) scale(1,1.0648)" text-anchor="middle" font-family='"DejaVu Sans","Liberation Sans",sans-serif' font-size="27.7" fill="#000">Standard deviation</text>
<text transform="translate(1090.6,488.0) scale(1,1.0648) rotate(-90)" text-anchor="middle" font-family='"DejaVu Sans","Liberation Sans",sans-serif' font-size="27.7" fill="#000">Standard deviation</text>
<text transform="translate(1739.3,281.1) scale(1,1.0648) rotate(45)" text-anchor="middle" font-family='"DejaVu Sans","Liberation Sans",sans-serif' font-size="27.7" fill="#000" y="9">Correlation coefficient</text>
<text transform="translate(1545.5,76) scale(1,1.0648)" text-anchor="middle" font-family='"DejaVu Sans","Liberation Sans",sans-serif' font-size="33.2" fill="#000">(b)</text>
<polygon points="1666.8,861.2 1669.6,870.4 1678.7,870.4 1671.3,876.1 1674.1,885.3 1666.8,879.6 1659.5,885.3 1662.3,876.1 1654.9,870.4 1664.0,870.4" fill="#000"/>
<rect x="1644.9" y="762.0" width="27.2" height="29.0" fill="#e41a1c"/>
<ellipse cx="1652.3" cy="787.5" rx="13.3" ry="14.2" fill="#4daf4a"/>
<polygon points="1643.6,765.8 1629.3,796.2 1657.9,796.2" fill="#ff7f00"/>
<polygon points="1642.0,729.8 1661.6,750.7 1642.0,771.6 1622.4,750.7" fill="#a65628"/>
<polygon points="1611.0,770.2 1596.7,739.8 1625.3,739.8" fill="#999999"/>
<rect x="1805.5" y="10" width="196" height="227.5" rx="6" ry="6" fill="#fff" fill-opacity="0.8" stroke="#cccccc" stroke-width="2"/>
<polygon points="1838.7,19.2 1841.2,27.4 1849.4,27.4 1842.8,32.5 1845.3,40.7 1838.7,35.7 1832.1,40.7 1834.6,32.5 1828.0,27.4 1836.2,27.4" fill="#000"/>
<text transform="translate(1882,33.4) scale(1,1.0648)" font-family='"DejaVu Sans","Liberation Sans",sans-serif' font-size="22.6" fill="#000" y="6.6">Observed</text>
<line x1="1813.5" y1="67.7" x2="1864" y2="67.7" stroke="#1f77b4" stroke-width="3.4"/>
<rect x="1825.1" y="53.2" width="27.2" height="29.0" fill="#e41a1c"/>
<text transform="translate(1882,67.7) scale(1,1.0648)" font-family='"DejaVu Sans","Liberation Sans",sans-serif' font-size="22.6" fill="#000" y="8.2">LSTM</text>
<line x1="1813.5" y1="104.2" x2="1864" y2="104.2" stroke="#ff7f0e" stroke-width="3.4"/>
<ellipse cx="1838.7" cy="104.2" rx="13.3" ry="14.2" fill="#4daf4a"/>
<text transform="translate(1882,104.2) scale(1,1.0648)" font-family='"DejaVu Sans","Liberation Sans",sans-serif' font-size="22.6" fill="#000" y="8.2">Bi-LSTM</text>
<line x1="1813.5" y1="140.5" x2="1864" y2="140.5" stroke="#2ca02c" stroke-width="3.4"/>
<polygon points="1838.7,125.3 1824.4,155.7 1853.0,155.7" fill="#ff7f00"/>
<text transform="translate(1882,140.5) scale(1,1.0648)" font-family='"DejaVu Sans","Liberation Sans",sans-serif' font-size="22.6" fill="#000" y="8.2">GRU</text>
<line x1="1813.5" y1="177.5" x2="1864" y2="177.5" stroke="#d62728" stroke-width="3.4"/>
<polygon points="1838.7,156.6 1858.3,177.5 1838.7,198.4 1819.1,177.5" fill="#a65628"/>
<text transform="translate(1882,177.5) scale(1,1.0648)" font-family='"DejaVu Sans","Liberation Sans",sans-serif' font-size="22.6" fill="#000" y="8.2">MLP</text>
<line x1="1813.5" y1="213.9" x2="1864" y2="213.9" stroke="#9467bd" stroke-width="3.4"/>
<polygon points="1838.7,229.1 1824.4,198.7 1853.0,198.7" fill="#999999"/>
<text transform="translate(1882,213.9) scale(1,1.0648)" font-family='"DejaVu Sans","Liberation Sans",sans-serif' font-size="22.6" fill="#000" y="8.2">XGBoost</text>
</g>
<g id="table">
<g stroke="#a6a6a6" stroke-width="2" fill="none">
<line x1="77.0" y1="1015.4" x2="77.0" y2="1384.4"/>
<line x1="346.3" y1="1015.4" x2="346.3" y2="1384.4"/>
<line x1="573.2" y1="1015.4" x2="573.2" y2="1384.4"/>
<line x1="800.1" y1="1015.4" x2="800.1" y2="1384.4"/>
<line x1="1027.0" y1="1015.4" x2="1027.0" y2="1384.4"/>
<line x1="1253.9" y1="1015.4" x2="1253.9" y2="1384.4"/>
<line x1="1480.8" y1="1015.4" x2="1480.8" y2="1384.4"/>
<line x1="1707.7" y1="1015.4" x2="1707.7" y2="1384.4"/>
<line x1="1934.6" y1="1015.4" x2="1934.6" y2="1384.4"/>
<line x1="76" y1="1016.4" x2="1935.6" y2="1016.4"/>
<line x1="76" y1="1139.4" x2="1935.6" y2="1139.4"/>
<line x1="76" y1="1200.7" x2="1935.6" y2="1200.7" stroke-width="2.8"/>
<line x1="76" y1="1262.0" x2="1935.6" y2="1262.0" stroke-width="2.8"/>
<line x1="76" y1="1322.7" x2="1935.6" y2="1322.7"/>
<line x1="76" y1="1383.4" x2="1935.6" y2="1383.4"/>
</g>
<line x1="76" y1="1078.6" x2="1935.6" y2="1078.6" stroke="#595959" stroke-width="4.5"/>
<g font-family='"Liberation Serif","DejaVu Serif",serif' font-size="48" fill="#000" text-anchor="middle">
<text x="211.7" y="1063.5" font-weight="bold" font-size="49">(c)</text>
<text x="459.8" y="1063.5" font-weight="bold" font-size="49">R²</text>
<text x="686.7" y="1063.5" font-weight="bold" font-size="49">RMSE</text>
<text x="913.5" y="1063.5" font-weight="bold" font-size="49">MAPE</text>
<text x="1140.5" y="1063.5" font-weight="bold" font-size="49">MAE</text>
<text x="1367.3" y="1063.5" font-weight="bold" font-size="49">MSE</text>
<text x="1594.2" y="1063.5" font-weight="bold" font-size="49">σ</text>
<text x="1821.2" y="1063.5" font-weight="bold" font-size="49">WI</text>
<text x="211.7" y="1126.3" font-weight="bold" font-size="49">LSTM</text>
<text x="459.8" y="1126.3">0.963</text>
<text x="686.7" y="1126.3">5.957</text>
<text x="913.5" y="1126.3">18.375</text>
<text x="1140.5" y="1126.3">3.387</text>
<text x="1367.3" y="1126.3">35.485</text>
<text x="1594.2" y="1126.3">5.863</text>
<text x="1821.2" y="1126.3">0.971</text>
<text x="211.7" y="1187.4" font-weight="bold" font-size="49">Bi-LSTM</text>
<text x="459.8" y="1187.4">0.971</text>
<text x="686.7" y="1187.4">5.283</text>
<text x="913.5" y="1187.4">13.197</text>
<text x="1140.5" y="1187.4">2.743</text>
<text x="1367.3" y="1187.4">27.905</text>
<text x="1594.2" y="1187.4">5.278</text>
<text x="1821.2" y="1187.4">0.976</text>
<text x="211.7" y="1248.6" font-weight="bold" font-size="49">GRU</text>
<text x="459.8" y="1248.6">0.965</text>
<text x="686.7" y="1248.6">5.843</text>
<text x="913.5" y="1248.6">16.349</text>
<text x="1140.5" y="1248.6">3.221</text>
<text x="1367.3" y="1248.6">34.136</text>
<text x="1594.2" y="1248.6">5.840</text>
<text x="1821.2" y="1248.6">0.970</text>
<text x="211.7" y="1309.6" font-weight="bold" font-size="49">MLP</text>
<text x="459.8" y="1309.6">0.939</text>
<text x="686.7" y="1309.6">7.645</text>
<text x="913.5" y="1309.6">23.669</text>
<text x="1140.5" y="1309.6">4.228</text>
<text x="1367.3" y="1309.6">58.445</text>
<text x="1594.2" y="1309.6">7.556</text>
<text x="1821.2" y="1309.6">0.954</text>
<text x="211.7" y="1370.4" font-weight="bold" font-size="49">XGBoost</text>
<text x="459.8" y="1370.4">0.933</text>
<text x="686.7" y="1370.4">8.036</text>
<text x="913.5" y="1370.4">13.773</text>
<text x="1140.5" y="1370.4">3.438</text>
<text x="1367.3" y="1370.4">64.576</text>
<text x="1594.2" y="1370.4">8.024</text>
<text x="1821.2" y="1370.4">0.945</text>
</g>
</g>
</svg>
</body></html>
